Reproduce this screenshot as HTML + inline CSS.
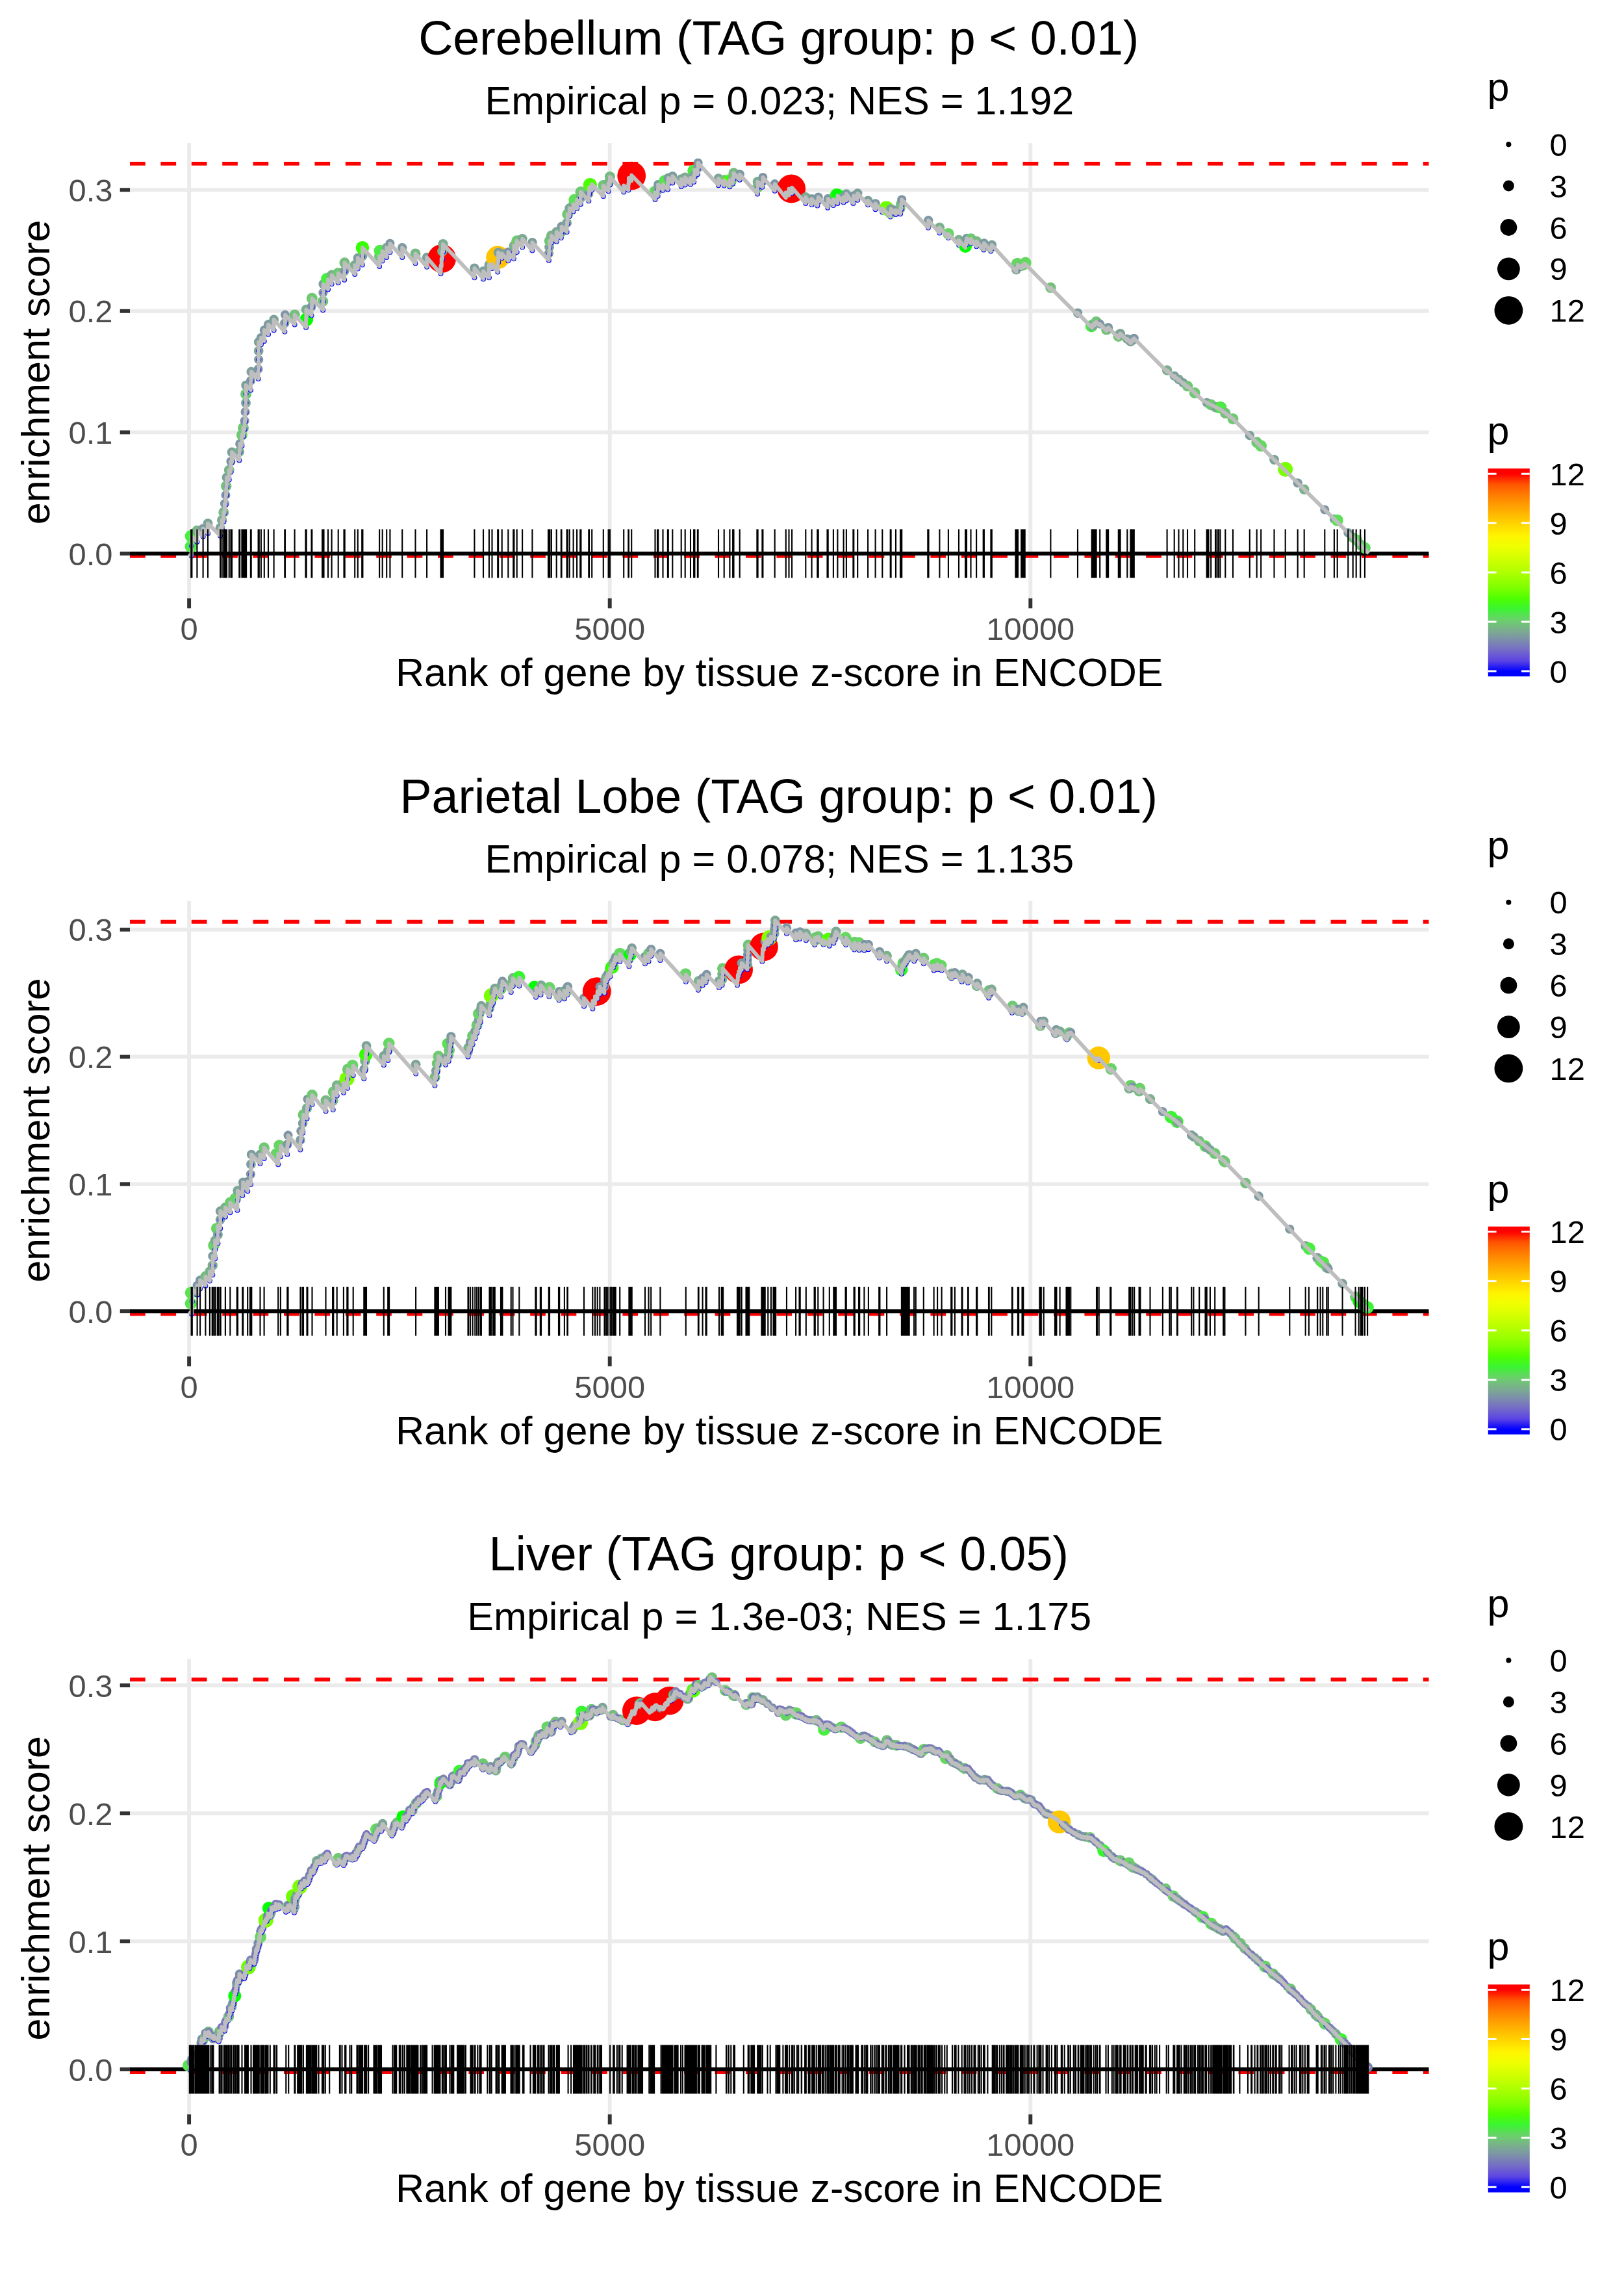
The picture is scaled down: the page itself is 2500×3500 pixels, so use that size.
<!DOCTYPE html>
<html><head><meta charset="utf-8"><title>Enrichment plots</title>
<style>
html,body{margin:0;padding:0;background:#fff;}
svg{display:block;}
text{font-family:"Liberation Sans", sans-serif;}
.t1{font-size:73.6px;fill:#000;text-anchor:middle;}
.t2{font-size:61.1px;fill:#000;text-anchor:middle;}
.ax{font-size:48.9px;fill:#4d4d4d;}
.lg{font-size:48.9px;fill:#000;}
.lt{font-size:61.1px;fill:#000;}
.g{stroke:#ebebeb;stroke-width:5.93;fill:none;}
.tk{stroke:#333;stroke-width:5.93;fill:none;}
.rd{stroke:#f00;stroke-width:5.93;stroke-dasharray:23.7 23.7;fill:none;}
.ln{stroke:#bebebe;stroke-width:5.93;fill:none;stroke-linejoin:round;stroke-linecap:butt;}
.rug{stroke:#000;stroke-width:2.1;fill:none;}
</style></head><body>
<svg width="2500" height="3500" viewBox="0 0 2500 3500">
<defs><linearGradient id="cb" x1="0" y1="1" x2="0" y2="0"><stop offset="0.0250" stop-color="#0000ff"/><stop offset="0.0750" stop-color="#5b44e4"/><stop offset="0.1250" stop-color="#746ac8"/><stop offset="0.1750" stop-color="#7d8eab"/><stop offset="0.2250" stop-color="#7ab08c"/><stop offset="0.2750" stop-color="#69d268"/><stop offset="0.3250" stop-color="#3bf432"/><stop offset="0.3750" stop-color="#4eff00"/><stop offset="0.4250" stop-color="#7dff00"/><stop offset="0.4750" stop-color="#9fff00"/><stop offset="0.5250" stop-color="#bcff00"/><stop offset="0.5750" stop-color="#d6ff00"/><stop offset="0.6250" stop-color="#efff00"/><stop offset="0.6750" stop-color="#fff500"/><stop offset="0.7250" stop-color="#ffd900"/><stop offset="0.7750" stop-color="#ffbb00"/><stop offset="0.8250" stop-color="#ff9c00"/><stop offset="0.8750" stop-color="#ff7b00"/><stop offset="0.9250" stop-color="#ff5300"/><stop offset="0.9750" stop-color="#ff0000"/></linearGradient></defs>
<rect width="2500" height="3500" fill="#fff"/>
<g transform="translate(0,0.00)">
<text class="t1" x="1198.8" y="84">Cerebellum (TAG group: p &lt; 0.01)</text>
<text class="t2" x="1199.8" y="175.9">Empirical p = 0.023; NES = 1.192</text>
<path class="g" d="M200.0 852.0H2199.5"/><path class="g" d="M200.0 665.4H2199.5"/><path class="g" d="M200.0 478.8H2199.5"/><path class="g" d="M200.0 292.2H2199.5"/><path class="g" d="M291.1 220.0V921.0"/><path class="g" d="M938.7 220.0V921.0"/><path class="g" d="M1586.3 220.0V921.0"/>
<path class="tk" d="M184.7 852.0H200.0"/><text class="ax" text-anchor="end" x="173.5" y="869.5">0.0</text><path class="tk" d="M184.7 665.4H200.0"/><text class="ax" text-anchor="end" x="173.5" y="682.9">0.1</text><path class="tk" d="M184.7 478.8H200.0"/><text class="ax" text-anchor="end" x="173.5" y="496.3">0.2</text><path class="tk" d="M184.7 292.2H200.0"/><text class="ax" text-anchor="end" x="173.5" y="309.7">0.3</text><path class="tk" d="M291.1 921.0V936.3"/><text class="ax" text-anchor="middle" x="291.1" y="985">0</text><path class="tk" d="M938.7 921.0V936.3"/><text class="ax" text-anchor="middle" x="938.7" y="985">5000</text><path class="tk" d="M1586.3 921.0V936.3"/><text class="ax" text-anchor="middle" x="1586.3" y="985">10000</text>
<text class="t2" x="1199.8" y="1055.9">Rank of gene by tissue z-score in ENCODE</text>
<text class="t2" transform="translate(75.5,572.9) rotate(-90)">enrichment score</text>
<path class="rd" d="M200.0 251.9H2199.5"/><path class="rd" d="M200.0 855.8H2199.5"/>
<path d="M200.0 852.0H2199.5" stroke="#000" stroke-width="5.93"/>
<circle cx="294.2" cy="841.3" r="9.5" fill="#45ef3d"/><circle cx="294.2" cy="825.3" r="9.5" fill="#45ef3d"/><circle cx="294.8" cy="855.6" r="4.0" fill="#0000ff"/><circle cx="294.8" cy="840.5" r="4.0" fill="#0000ff"/><circle cx="303.4" cy="833.9" r="4.0" fill="#0000ff"/><circle cx="303.4" cy="816.7" r="7.9" fill="#79b587"/><circle cx="312.6" cy="825.9" r="4.0" fill="#0000ff"/><circle cx="312.6" cy="813.6" r="7.2" fill="#7d9aa0"/><circle cx="320.0" cy="821.0" r="4.0" fill="#0000ff"/><circle cx="320.0" cy="805.6" r="7.4" fill="#7da497"/><circle cx="339.1" cy="824.7" r="4.0" fill="#0000ff"/><circle cx="339.1" cy="812.4" r="7.4" fill="#7da299"/><circle cx="341.7" cy="815.1" r="4.0" fill="#0000ff"/><circle cx="341.7" cy="800.4" r="7.7" fill="#7bac8f"/><circle cx="344.3" cy="803.0" r="4.0" fill="#0000ff"/><circle cx="344.3" cy="788.4" r="8.0" fill="#78b884"/><circle cx="345.9" cy="790.0" r="4.0" fill="#0000ff"/><circle cx="345.9" cy="775.1" r="7.0" fill="#7d96a4"/><circle cx="347.5" cy="776.8" r="4.0" fill="#0000ff"/><circle cx="347.5" cy="761.9" r="7.0" fill="#7d94a6"/><circle cx="348.2" cy="762.7" r="4.0" fill="#0000ff"/><circle cx="348.2" cy="748.3" r="8.2" fill="#75be7e"/><circle cx="349.0" cy="749.1" r="4.0" fill="#0000ff"/><circle cx="349.0" cy="734.8" r="7.4" fill="#7da19a"/><circle cx="352.7" cy="738.6" r="4.0" fill="#0000ff"/><circle cx="352.7" cy="723.7" r="7.9" fill="#79b587"/><circle cx="355.4" cy="726.5" r="4.0" fill="#0000ff"/><circle cx="355.4" cy="710.2" r="7.0" fill="#7d93a6"/><circle cx="357.0" cy="711.8" r="4.0" fill="#0000ff"/><circle cx="357.0" cy="696.0" r="7.4" fill="#7da299"/><circle cx="368.3" cy="708.4" r="4.0" fill="#0000ff"/><circle cx="368.3" cy="695.2" r="7.8" fill="#7ab28a"/><circle cx="369.2" cy="696.1" r="4.0" fill="#0000ff"/><circle cx="369.2" cy="682.9" r="7.1" fill="#7d99a1"/><circle cx="372.4" cy="686.2" r="4.0" fill="#0000ff"/><circle cx="372.4" cy="669.4" r="8.5" fill="#6fc972"/><circle cx="374.5" cy="671.5" r="4.0" fill="#0000ff"/><circle cx="374.5" cy="658.5" r="8.5" fill="#6fc972"/><circle cx="376.6" cy="660.7" r="4.0" fill="#0000ff"/><circle cx="376.6" cy="647.7" r="7.0" fill="#7d94a6"/><circle cx="377.5" cy="648.7" r="4.0" fill="#0000ff"/><circle cx="377.5" cy="633.9" r="7.0" fill="#7d94a6"/><circle cx="378.5" cy="634.9" r="4.0" fill="#0000ff"/><circle cx="378.5" cy="620.1" r="7.5" fill="#7ca696"/><circle cx="378.5" cy="620.1" r="4.0" fill="#0000ff"/><circle cx="378.5" cy="606.6" r="8.5" fill="#6fc972"/><circle cx="378.5" cy="606.6" r="4.0" fill="#0000ff"/><circle cx="378.5" cy="593.0" r="7.3" fill="#7d9f9c"/><circle cx="385.9" cy="600.4" r="4.0" fill="#0000ff"/><circle cx="385.9" cy="585.9" r="7.1" fill="#7d99a1"/><circle cx="386.7" cy="586.6" r="4.0" fill="#0000ff"/><circle cx="386.7" cy="572.1" r="7.3" fill="#7da09a"/><circle cx="397.6" cy="583.0" r="4.0" fill="#0000ff"/><circle cx="397.6" cy="568.0" r="7.0" fill="#7d94a6"/><circle cx="398.2" cy="568.6" r="4.0" fill="#0000ff"/><circle cx="398.2" cy="553.6" r="7.1" fill="#7d99a1"/><circle cx="398.2" cy="553.6" r="4.0" fill="#0000ff"/><circle cx="398.2" cy="540.0" r="7.4" fill="#7da19a"/><circle cx="398.2" cy="540.0" r="4.0" fill="#0000ff"/><circle cx="398.2" cy="526.5" r="7.4" fill="#7da497"/><circle cx="401.9" cy="530.3" r="4.0" fill="#0000ff"/><circle cx="401.9" cy="519.9" r="7.2" fill="#7d9aa0"/><circle cx="406.8" cy="524.9" r="4.0" fill="#0000ff"/><circle cx="406.8" cy="508.0" r="7.1" fill="#7d99a1"/><circle cx="413.0" cy="514.4" r="4.0" fill="#0000ff"/><circle cx="413.0" cy="499.4" r="7.1" fill="#7d99a1"/><circle cx="421.6" cy="508.3" r="4.0" fill="#0000ff"/><circle cx="421.6" cy="492.0" r="7.4" fill="#7da299"/><circle cx="438.3" cy="510.6" r="4.0" fill="#0000ff"/><circle cx="438.3" cy="497.3" r="7.2" fill="#7d9c9f"/><circle cx="438.9" cy="497.9" r="4.0" fill="#0000ff"/><circle cx="438.9" cy="484.6" r="7.0" fill="#7d94a6"/><circle cx="453.6" cy="499.4" r="4.0" fill="#0000ff"/><circle cx="453.6" cy="484.6" r="8.2" fill="#75be7e"/><circle cx="471.1" cy="504.1" r="4.0" fill="#0000ff"/><circle cx="471.4" cy="490.4" r="4.0" fill="#0000ff"/><circle cx="471.4" cy="476.4" r="7.7" fill="#7bac90"/><circle cx="471.8" cy="492.1" r="10.3" fill="#35ff00"/><circle cx="472.1" cy="490.8" r="10.0" fill="#00ff00"/><circle cx="479.5" cy="485.5" r="4.0" fill="#0000ff"/><circle cx="479.5" cy="472.0" r="7.1" fill="#7d98a2"/><circle cx="480.3" cy="472.8" r="4.0" fill="#0000ff"/><circle cx="480.3" cy="459.2" r="8.5" fill="#6fc972"/><circle cx="497.1" cy="477.2" r="4.0" fill="#0000ff"/><circle cx="497.1" cy="463.7" r="8.2" fill="#74c17b"/><circle cx="497.4" cy="463.9" r="4.0" fill="#0000ff"/><circle cx="497.4" cy="450.4" r="7.1" fill="#7d97a3"/><circle cx="497.6" cy="450.6" r="4.0" fill="#0000ff"/><circle cx="497.6" cy="437.1" r="7.2" fill="#7d9d9d"/><circle cx="503.7" cy="429.3" r="9.5" fill="#45ef3d"/><circle cx="505.0" cy="445.4" r="4.0" fill="#0000ff"/><circle cx="510.6" cy="437.1" r="4.0" fill="#0000ff"/><circle cx="510.6" cy="423.4" r="7.8" fill="#7ab18b"/><circle cx="520.7" cy="435.2" r="4.0" fill="#0000ff"/><circle cx="520.7" cy="420.5" r="8.5" fill="#6fc972"/><circle cx="530.1" cy="430.7" r="4.0" fill="#0000ff"/><circle cx="530.1" cy="417.3" r="7.3" fill="#7da09a"/><circle cx="530.5" cy="417.8" r="4.0" fill="#0000ff"/><circle cx="530.5" cy="404.4" r="8.1" fill="#76bd7f"/><circle cx="546.2" cy="422.0" r="4.0" fill="#0000ff"/><circle cx="546.2" cy="408.1" r="7.7" fill="#7bad8e"/><circle cx="550.8" cy="413.6" r="4.0" fill="#0000ff"/><circle cx="550.8" cy="397.0" r="7.2" fill="#7d9c9e"/><circle cx="557.8" cy="407.6" r="4.0" fill="#0000ff"/><circle cx="557.8" cy="394.2" r="7.6" fill="#7ca993"/><circle cx="557.9" cy="381.3" r="10.3" fill="#35ff00"/><circle cx="558.2" cy="394.7" r="4.0" fill="#0000ff"/><circle cx="584.1" cy="409.9" r="4.0" fill="#0000ff"/><circle cx="584.1" cy="394.2" r="8.2" fill="#75bf7d"/><circle cx="585.0" cy="386.1" r="9.4" fill="#4fe947"/><circle cx="588.7" cy="401.6" r="4.0" fill="#0000ff"/><circle cx="595.2" cy="396.1" r="4.0" fill="#0000ff"/><circle cx="595.2" cy="381.3" r="7.6" fill="#7ca993"/><circle cx="600.4" cy="388.3" r="4.0" fill="#0000ff"/><circle cx="600.4" cy="374.8" r="7.0" fill="#7d95a5"/><circle cx="619.2" cy="396.1" r="4.0" fill="#0000ff"/><circle cx="619.2" cy="381.3" r="7.2" fill="#7d9aa0"/><circle cx="639.5" cy="405.3" r="4.0" fill="#0000ff"/><circle cx="639.5" cy="390.5" r="8.0" fill="#77b983"/><circle cx="657.1" cy="410.8" r="4.0" fill="#0000ff"/><circle cx="657.1" cy="396.1" r="7.3" fill="#7da09b"/><circle cx="678.5" cy="421.3" r="4.0" fill="#0000ff"/><circle cx="678.5" cy="409.0" r="7.1" fill="#7d98a2"/><circle cx="679.7" cy="410.2" r="4.0" fill="#0000ff"/><circle cx="680.2" cy="397.9" r="21.9" fill="#ff0000"/><circle cx="680.9" cy="399.1" r="4.0" fill="#0000ff"/><circle cx="680.9" cy="386.8" r="7.8" fill="#7ab08c"/><circle cx="682.0" cy="388.0" r="4.0" fill="#0000ff"/><circle cx="682.0" cy="375.7" r="7.7" fill="#7bae8e"/><circle cx="730.4" cy="427.3" r="4.0" fill="#0000ff"/><circle cx="730.4" cy="412.7" r="7.3" fill="#7d9e9c"/><circle cx="744.0" cy="429.5" r="4.0" fill="#0000ff"/><circle cx="744.0" cy="417.5" r="7.4" fill="#7da19a"/><circle cx="752.9" cy="427.3" r="4.0" fill="#0000ff"/><circle cx="752.9" cy="407.7" r="7.4" fill="#7da497"/><circle cx="757.5" cy="413.1" r="4.0" fill="#0000ff"/><circle cx="757.5" cy="406.4" r="8.0" fill="#78b785"/><circle cx="766.2" cy="396.3" r="17.9" fill="#ffc300"/><circle cx="766.2" cy="418.5" r="4.0" fill="#0000ff"/><circle cx="767.1" cy="404.0" r="4.0" fill="#0000ff"/><circle cx="767.1" cy="388.5" r="7.3" fill="#7d9f9b"/><circle cx="772.7" cy="397.2" r="4.0" fill="#0000ff"/><circle cx="772.7" cy="390.4" r="7.4" fill="#7da398"/><circle cx="782.3" cy="401.3" r="4.0" fill="#0000ff"/><circle cx="782.3" cy="388.0" r="7.0" fill="#7d94a6"/><circle cx="790.8" cy="398.3" r="4.0" fill="#0000ff"/><circle cx="790.8" cy="388.0" r="7.0" fill="#7d95a5"/><circle cx="791.3" cy="388.5" r="4.0" fill="#0000ff"/><circle cx="791.3" cy="378.2" r="7.8" fill="#7ab08c"/><circle cx="795.7" cy="388.0" r="4.0" fill="#0000ff"/><circle cx="795.7" cy="370.8" r="8.5" fill="#6fc972"/><circle cx="804.1" cy="380.6" r="4.0" fill="#0000ff"/><circle cx="804.1" cy="367.6" r="7.6" fill="#7ca993"/><circle cx="819.4" cy="385.4" r="4.0" fill="#0000ff"/><circle cx="819.4" cy="373.2" r="7.3" fill="#7d9f9b"/><circle cx="844.8" cy="400.7" r="4.0" fill="#0000ff"/><circle cx="844.8" cy="390.2" r="7.1" fill="#7d98a2"/><circle cx="845.5" cy="390.9" r="4.0" fill="#0000ff"/><circle cx="845.5" cy="380.5" r="7.4" fill="#7da497"/><circle cx="846.2" cy="381.2" r="4.0" fill="#0000ff"/><circle cx="846.2" cy="370.8" r="8.5" fill="#6fc972"/><circle cx="848.9" cy="373.6" r="4.0" fill="#0000ff"/><circle cx="848.9" cy="362.6" r="7.9" fill="#78b686"/><circle cx="856.7" cy="371.7" r="4.0" fill="#0000ff"/><circle cx="856.7" cy="357.1" r="7.5" fill="#7ca696"/><circle cx="863.8" cy="366.1" r="4.0" fill="#0000ff"/><circle cx="863.8" cy="357.0" r="8.3" fill="#73c27a"/><circle cx="864.5" cy="357.7" r="4.0" fill="#0000ff"/><circle cx="864.5" cy="348.6" r="7.1" fill="#7d99a1"/><circle cx="872.6" cy="357.1" r="4.0" fill="#0000ff"/><circle cx="872.6" cy="342.9" r="7.4" fill="#7da497"/><circle cx="873.7" cy="344.0" r="4.0" fill="#0000ff"/><circle cx="873.7" cy="329.8" r="8.5" fill="#6fc972"/><circle cx="876.7" cy="332.8" r="4.0" fill="#0000ff"/><circle cx="876.7" cy="320.5" r="7.5" fill="#7ca794"/><circle cx="882.6" cy="325.5" r="4.0" fill="#0000ff"/><circle cx="882.6" cy="314.1" r="7.4" fill="#7da299"/><circle cx="884.4" cy="307.6" r="9.1" fill="#5ddf57"/><circle cx="888.1" cy="321.1" r="4.0" fill="#0000ff"/><circle cx="893.8" cy="314.2" r="4.0" fill="#0000ff"/><circle cx="893.8" cy="304.8" r="7.5" fill="#7ca695"/><circle cx="894.0" cy="305.0" r="4.0" fill="#0000ff"/><circle cx="894.0" cy="295.6" r="8.5" fill="#6fc972"/><circle cx="906.3" cy="309.2" r="4.0" fill="#0000ff"/><circle cx="906.3" cy="298.4" r="7.0" fill="#7d93a6"/><circle cx="907.0" cy="299.0" r="4.0" fill="#0000ff"/><circle cx="907.0" cy="288.2" r="8.0" fill="#78b884"/><circle cx="908.4" cy="284.5" r="10.6" fill="#4cff00"/><circle cx="911.2" cy="292.6" r="4.0" fill="#0000ff"/><circle cx="928.8" cy="302.1" r="4.0" fill="#0000ff"/><circle cx="928.8" cy="285.4" r="8.4" fill="#71c675"/><circle cx="936.6" cy="294.3" r="4.0" fill="#0000ff"/><circle cx="936.6" cy="282.0" r="7.9" fill="#79b389"/><circle cx="938.9" cy="284.4" r="4.0" fill="#0000ff"/><circle cx="938.9" cy="272.1" r="8.1" fill="#77ba82"/><circle cx="960.2" cy="295.6" r="4.0" fill="#0000ff"/><circle cx="960.2" cy="285.4" r="7.5" fill="#7ca597"/><circle cx="967.3" cy="292.6" r="4.0" fill="#0000ff"/><circle cx="967.3" cy="282.9" r="7.5" fill="#7ca795"/><circle cx="967.9" cy="283.6" r="4.0" fill="#0000ff"/><circle cx="972.2" cy="278.3" r="4.0" fill="#0000ff"/><circle cx="972.2" cy="270.6" r="21.9" fill="#ff0000"/><circle cx="1008.2" cy="294.7" r="8.9" fill="#63d95f"/><circle cx="1008.5" cy="307.0" r="4.0" fill="#0000ff"/><circle cx="1012.6" cy="301.7" r="4.0" fill="#0000ff"/><circle cx="1012.6" cy="292.6" r="7.5" fill="#7ca794"/><circle cx="1013.1" cy="293.1" r="4.0" fill="#0000ff"/><circle cx="1013.1" cy="284.1" r="7.1" fill="#7d99a1"/><circle cx="1020.5" cy="292.8" r="4.0" fill="#0000ff"/><circle cx="1020.5" cy="284.1" r="7.4" fill="#7da497"/><circle cx="1023.3" cy="278.5" r="9.2" fill="#57e44f"/><circle cx="1027.9" cy="291.5" r="4.0" fill="#0000ff"/><circle cx="1028.8" cy="283.2" r="4.0" fill="#0000ff"/><circle cx="1028.8" cy="273.9" r="7.3" fill="#7d9e9d"/><circle cx="1035.3" cy="281.4" r="4.0" fill="#0000ff"/><circle cx="1035.3" cy="271.1" r="7.2" fill="#7d9d9d"/><circle cx="1048.7" cy="287.0" r="4.0" fill="#0000ff"/><circle cx="1048.7" cy="275.7" r="7.5" fill="#7ca696"/><circle cx="1054.7" cy="284.5" r="4.0" fill="#0000ff"/><circle cx="1054.7" cy="273.0" r="7.6" fill="#7caa91"/><circle cx="1063.0" cy="283.7" r="4.0" fill="#0000ff"/><circle cx="1063.0" cy="273.9" r="7.6" fill="#7caa92"/><circle cx="1067.6" cy="262.8" r="9.4" fill="#4fe947"/><circle cx="1068.1" cy="279.9" r="4.0" fill="#0000ff"/><circle cx="1068.1" cy="269.9" r="7.4" fill="#7da299"/><circle cx="1069.4" cy="271.4" r="4.0" fill="#0000ff"/><circle cx="1073.9" cy="268.2" r="4.0" fill="#0000ff"/><circle cx="1073.9" cy="259.1" r="7.1" fill="#7d99a1"/><circle cx="1074.6" cy="259.9" r="4.0" fill="#0000ff"/><circle cx="1074.6" cy="250.8" r="7.1" fill="#7d98a2"/><circle cx="1106.0" cy="285.2" r="4.0" fill="#0000ff"/><circle cx="1106.0" cy="274.8" r="7.5" fill="#7ca894"/><circle cx="1114.7" cy="285.6" r="4.0" fill="#0000ff"/><circle cx="1114.7" cy="277.6" r="8.3" fill="#73c27a"/><circle cx="1123.4" cy="287.2" r="4.0" fill="#0000ff"/><circle cx="1123.4" cy="278.5" r="10.4" fill="#42ff00"/><circle cx="1128.1" cy="282.7" r="4.0" fill="#0000ff"/><circle cx="1128.1" cy="273.9" r="8.0" fill="#77b983"/><circle cx="1129.5" cy="275.3" r="4.0" fill="#0000ff"/><circle cx="1129.5" cy="266.5" r="8.1" fill="#76bb81"/><circle cx="1138.7" cy="276.7" r="4.0" fill="#0000ff"/><circle cx="1138.7" cy="268.4" r="7.2" fill="#7d9aa0"/><circle cx="1166.0" cy="298.4" r="4.0" fill="#0000ff"/><circle cx="1166.0" cy="288.9" r="8.2" fill="#75bf7d"/><circle cx="1166.4" cy="289.3" r="4.0" fill="#0000ff"/><circle cx="1166.4" cy="279.8" r="7.7" fill="#7bae8e"/><circle cx="1173.4" cy="287.8" r="4.0" fill="#0000ff"/><circle cx="1173.4" cy="279.9" r="7.0" fill="#7d96a4"/><circle cx="1174.4" cy="280.9" r="4.0" fill="#0000ff"/><circle cx="1174.4" cy="273.0" r="7.0" fill="#7d94a6"/><circle cx="1192.7" cy="293.7" r="4.0" fill="#0000ff"/><circle cx="1192.7" cy="283.1" r="7.0" fill="#7d94a6"/><circle cx="1209.8" cy="304.4" r="4.0" fill="#0000ff"/><circle cx="1209.8" cy="296.1" r="7.9" fill="#79b488"/><circle cx="1214.5" cy="300.7" r="4.0" fill="#0000ff"/><circle cx="1218.2" cy="290.5" r="21.9" fill="#ff0000"/><circle cx="1219.1" cy="297.4" r="4.0" fill="#0000ff"/><circle cx="1240.3" cy="313.1" r="4.0" fill="#0000ff"/><circle cx="1240.3" cy="303.5" r="7.6" fill="#7bab91"/><circle cx="1249.6" cy="315.1" r="4.0" fill="#0000ff"/><circle cx="1249.6" cy="306.2" r="7.2" fill="#7d9d9d"/><circle cx="1258.3" cy="316.5" r="4.0" fill="#0000ff"/><circle cx="1258.3" cy="309.3" r="7.0" fill="#7d95a5"/><circle cx="1259.7" cy="310.7" r="4.0" fill="#0000ff"/><circle cx="1259.7" cy="303.5" r="7.1" fill="#7d98a2"/><circle cx="1274.1" cy="319.7" r="4.0" fill="#0000ff"/><circle cx="1274.1" cy="312.5" r="7.5" fill="#7ca596"/><circle cx="1274.6" cy="313.1" r="4.0" fill="#0000ff"/><circle cx="1274.6" cy="305.9" r="7.1" fill="#7d98a2"/><circle cx="1282.9" cy="316.1" r="4.0" fill="#0000ff"/><circle cx="1282.9" cy="306.8" r="7.2" fill="#7d9b9f"/><circle cx="1287.4" cy="299.8" r="9.7" fill="#39f431"/><circle cx="1289.4" cy="313.0" r="4.0" fill="#0000ff"/><circle cx="1289.4" cy="300.4" r="10.0" fill="#00ff00"/><circle cx="1298.6" cy="311.5" r="4.0" fill="#0000ff"/><circle cx="1298.6" cy="303.1" r="7.4" fill="#7da299"/><circle cx="1302.9" cy="308.4" r="4.0" fill="#0000ff"/><circle cx="1302.9" cy="298.5" r="7.2" fill="#7d9d9e"/><circle cx="1313.4" cy="313.0" r="4.0" fill="#0000ff"/><circle cx="1313.4" cy="306.6" r="7.4" fill="#7da398"/><circle cx="1314.3" cy="307.6" r="4.0" fill="#0000ff"/><circle cx="1314.3" cy="301.3" r="7.0" fill="#7d94a6"/><circle cx="1320.2" cy="307.8" r="4.0" fill="#0000ff"/><circle cx="1320.2" cy="297.6" r="7.3" fill="#7d9f9c"/><circle cx="1336.1" cy="315.3" r="4.0" fill="#0000ff"/><circle cx="1336.1" cy="308.7" r="7.3" fill="#7da09a"/><circle cx="1347.6" cy="322.2" r="4.0" fill="#0000ff"/><circle cx="1347.6" cy="313.3" r="7.1" fill="#7d98a2"/><circle cx="1358.3" cy="326.5" r="4.0" fill="#0000ff"/><circle cx="1364.6" cy="320.7" r="11.2" fill="#6dff00"/><circle cx="1370.7" cy="333.4" r="4.0" fill="#0000ff"/><circle cx="1370.7" cy="328.1" r="8.5" fill="#6fc972"/><circle cx="1371.6" cy="329.0" r="4.0" fill="#0000ff"/><circle cx="1371.6" cy="321.6" r="7.4" fill="#7da497"/><circle cx="1379.0" cy="329.9" r="4.0" fill="#0000ff"/><circle cx="1379.0" cy="323.5" r="7.1" fill="#7d99a1"/><circle cx="1386.0" cy="329.2" r="4.0" fill="#0000ff"/><circle cx="1386.0" cy="321.1" r="7.6" fill="#7ca993"/><circle cx="1387.1" cy="322.3" r="4.0" fill="#0000ff"/><circle cx="1387.1" cy="314.2" r="8.1" fill="#76bb81"/><circle cx="1388.2" cy="315.3" r="4.0" fill="#0000ff"/><circle cx="1388.2" cy="307.2" r="7.0" fill="#7d94a6"/><circle cx="1428.9" cy="350.6" r="4.0" fill="#0000ff"/><circle cx="1428.9" cy="344.7" r="7.0" fill="#7d94a6"/><circle cx="1429.2" cy="345.1" r="4.0" fill="#0000ff"/><circle cx="1429.2" cy="339.2" r="7.1" fill="#7d97a3"/><circle cx="1446.4" cy="358.6" r="4.0" fill="#0000ff"/><circle cx="1446.4" cy="350.2" r="7.8" fill="#7ab18b"/><circle cx="1459.9" cy="366.1" r="4.0" fill="#0000ff"/><circle cx="1459.9" cy="359.8" r="8.8" fill="#67d465"/><circle cx="1476.0" cy="377.1" r="4.0" fill="#0000ff"/><circle cx="1476.0" cy="369.6" r="7.8" fill="#7ab08c"/><circle cx="1486.1" cy="381.3" r="4.0" fill="#0000ff"/><circle cx="1486.1" cy="378.9" r="10.0" fill="#00ff00"/><circle cx="1487.1" cy="376.8" r="4.0" fill="#0000ff"/><circle cx="1487.1" cy="371.4" r="7.5" fill="#7ca696"/><circle cx="1488.0" cy="372.3" r="4.0" fill="#0000ff"/><circle cx="1488.0" cy="366.9" r="7.1" fill="#7d99a1"/><circle cx="1494.5" cy="374.8" r="4.0" fill="#0000ff"/><circle cx="1494.5" cy="367.8" r="8.5" fill="#6fc972"/><circle cx="1503.1" cy="379.3" r="4.0" fill="#0000ff"/><circle cx="1503.1" cy="371.5" r="8.0" fill="#77b983"/><circle cx="1514.3" cy="384.5" r="4.0" fill="#0000ff"/><circle cx="1514.3" cy="379.2" r="7.5" fill="#7ca597"/><circle cx="1514.8" cy="379.6" r="4.0" fill="#0000ff"/><circle cx="1514.8" cy="374.3" r="7.1" fill="#7d99a1"/><circle cx="1525.4" cy="386.4" r="4.0" fill="#0000ff"/><circle cx="1525.4" cy="381.0" r="7.7" fill="#7bac90"/><circle cx="1526.8" cy="382.4" r="4.0" fill="#0000ff"/><circle cx="1526.8" cy="377.0" r="7.3" fill="#7d9f9b"/><circle cx="1564.5" cy="418.0" r="4.0" fill="#0000ff"/><circle cx="1564.5" cy="414.9" r="7.5" fill="#7ca794"/><circle cx="1565.2" cy="415.6" r="4.0" fill="#0000ff"/><circle cx="1565.2" cy="412.5" r="7.2" fill="#7d9d9e"/><circle cx="1565.7" cy="405.9" r="8.9" fill="#63d95f"/><circle cx="1565.9" cy="413.3" r="4.0" fill="#0000ff"/><circle cx="1566.5" cy="405.7" r="8.8" fill="#67d465"/><circle cx="1566.6" cy="410.9" r="4.0" fill="#0000ff"/><circle cx="1572.2" cy="412.6" r="4.0" fill="#0000ff"/><circle cx="1572.2" cy="409.5" r="7.2" fill="#7d9c9f"/><circle cx="1574.0" cy="411.4" r="4.0" fill="#0000ff"/><circle cx="1574.0" cy="408.3" r="8.5" fill="#6fc972"/><circle cx="1575.9" cy="410.2" r="4.0" fill="#0000ff"/><circle cx="1575.9" cy="407.1" r="8.3" fill="#72c477"/><circle cx="1577.7" cy="409.0" r="4.0" fill="#0000ff"/><circle cx="1578.6" cy="404.4" r="8.9" fill="#63d95f"/><circle cx="1617.4" cy="446.0" r="4.0" fill="#0000ff"/><circle cx="1617.4" cy="442.8" r="8.2" fill="#74c17b"/><circle cx="1659.0" cy="484.8" r="4.0" fill="#0000ff"/><circle cx="1659.0" cy="481.6" r="7.2" fill="#7d9c9e"/><circle cx="1680.2" cy="501.9" r="9.4" fill="#4fe947"/><circle cx="1680.7" cy="504.3" r="4.0" fill="#0000ff"/><circle cx="1682.1" cy="503.0" r="4.0" fill="#0000ff"/><circle cx="1682.1" cy="500.4" r="7.9" fill="#79b389"/><circle cx="1683.5" cy="501.8" r="4.0" fill="#0000ff"/><circle cx="1683.5" cy="499.2" r="7.3" fill="#7da09b"/><circle cx="1684.9" cy="500.6" r="4.0" fill="#0000ff"/><circle cx="1684.9" cy="497.9" r="7.2" fill="#7d9aa0"/><circle cx="1686.2" cy="499.4" r="4.0" fill="#0000ff"/><circle cx="1686.2" cy="496.7" r="7.0" fill="#7d93a6"/><circle cx="1687.6" cy="498.1" r="4.0" fill="#0000ff"/><circle cx="1687.6" cy="495.5" r="8.4" fill="#72c577"/><circle cx="1693.2" cy="501.2" r="4.0" fill="#0000ff"/><circle cx="1693.2" cy="498.6" r="7.0" fill="#7d95a5"/><circle cx="1703.3" cy="509.1" r="4.0" fill="#0000ff"/><circle cx="1703.3" cy="507.5" r="8.1" fill="#76bb81"/><circle cx="1704.3" cy="508.4" r="4.0" fill="#0000ff"/><circle cx="1704.3" cy="506.4" r="8.5" fill="#6fc972"/><circle cx="1705.2" cy="507.3" r="4.0" fill="#0000ff"/><circle cx="1705.2" cy="505.3" r="7.5" fill="#7ca794"/><circle cx="1706.1" cy="506.2" r="4.0" fill="#0000ff"/><circle cx="1706.1" cy="504.1" r="7.1" fill="#7d98a2"/><circle cx="1721.8" cy="520.3" r="4.0" fill="#0000ff"/><circle cx="1721.8" cy="517.6" r="8.3" fill="#73c379"/><circle cx="1722.7" cy="518.6" r="4.0" fill="#0000ff"/><circle cx="1722.7" cy="516.2" r="8.5" fill="#6fc972"/><circle cx="1723.7" cy="517.2" r="4.0" fill="#0000ff"/><circle cx="1723.7" cy="514.8" r="7.8" fill="#7ab08c"/><circle cx="1724.6" cy="515.8" r="4.0" fill="#0000ff"/><circle cx="1724.6" cy="513.4" r="7.4" fill="#7da497"/><circle cx="1735.3" cy="524.3" r="4.0" fill="#0000ff"/><circle cx="1735.3" cy="521.9" r="7.3" fill="#7d9f9c"/><circle cx="1740.4" cy="528.0" r="4.0" fill="#0000ff"/><circle cx="1740.4" cy="525.9" r="7.3" fill="#7d9e9d"/><circle cx="1741.5" cy="527.0" r="4.0" fill="#0000ff"/><circle cx="1741.5" cy="524.8" r="7.1" fill="#7d99a1"/><circle cx="1742.6" cy="525.9" r="4.0" fill="#0000ff"/><circle cx="1742.6" cy="523.8" r="7.7" fill="#7bae8e"/><circle cx="1743.7" cy="524.9" r="4.0" fill="#0000ff"/><circle cx="1743.7" cy="522.8" r="7.4" fill="#7da19a"/><circle cx="1744.7" cy="523.9" r="4.0" fill="#0000ff"/><circle cx="1744.7" cy="521.8" r="7.1" fill="#7d98a2"/><circle cx="1745.8" cy="522.9" r="4.0" fill="#0000ff"/><circle cx="1745.8" cy="520.8" r="7.1" fill="#7d96a4"/><circle cx="1796.6" cy="572.2" r="4.0" fill="#0000ff"/><circle cx="1796.6" cy="569.9" r="7.7" fill="#7bad8e"/><circle cx="1807.7" cy="581.3" r="4.0" fill="#0000ff"/><circle cx="1807.7" cy="578.6" r="7.2" fill="#7d9c9f"/><circle cx="1814.5" cy="585.6" r="4.0" fill="#0000ff"/><circle cx="1814.5" cy="583.8" r="7.4" fill="#7da497"/><circle cx="1821.3" cy="590.8" r="4.0" fill="#0000ff"/><circle cx="1821.3" cy="589.1" r="7.2" fill="#7d9d9e"/><circle cx="1828.0" cy="596.0" r="4.0" fill="#0000ff"/><circle cx="1828.0" cy="594.3" r="8.3" fill="#73c378"/><circle cx="1839.2" cy="604.8" r="8.5" fill="#6fc972"/><circle cx="1857.7" cy="619.7" r="7.0" fill="#7d94a6"/><circle cx="1859.2" cy="620.5" r="7.1" fill="#7d99a1"/><circle cx="1860.5" cy="621.1" r="7.2" fill="#7d9d9e"/><circle cx="1864.2" cy="623.0" r="8.5" fill="#6fc972"/><circle cx="1871.0" cy="626.4" r="8.0" fill="#78b785"/><circle cx="1873.4" cy="627.6" r="7.2" fill="#7d9d9d"/><circle cx="1875.8" cy="628.8" r="7.1" fill="#7d99a1"/><circle cx="1879.0" cy="627.1" r="9.4" fill="#4fe947"/><circle cx="1886.3" cy="636.0" r="8.2" fill="#75be7e"/><circle cx="1898.0" cy="644.7" r="8.5" fill="#6fc972"/><circle cx="1923.8" cy="670.2" r="7.2" fill="#7d9d9d"/><circle cx="1934.7" cy="681.0" r="8.4" fill="#71c676"/><circle cx="1941.2" cy="686.2" r="8.9" fill="#63d95f"/><circle cx="1961.5" cy="707.5" r="7.4" fill="#7da398"/><circle cx="1978.7" cy="722.3" r="11.4" fill="#7aff00"/><circle cx="1997.7" cy="743.4" r="7.2" fill="#7d9aa0"/><circle cx="2007.7" cy="753.2" r="7.8" fill="#7ab28a"/><circle cx="2039.3" cy="784.5" r="7.0" fill="#7d96a4"/><circle cx="2053.9" cy="798.9" r="7.1" fill="#7d98a2"/><circle cx="2058.7" cy="800.8" r="9.1" fill="#5ddf57"/><circle cx="2075.3" cy="820.1" r="7.1" fill="#7d99a1"/><circle cx="2082.7" cy="827.4" r="7.9" fill="#79b587"/><circle cx="2088.6" cy="831.2" r="8.8" fill="#67d465"/><circle cx="2094.2" cy="838.8" r="8.2" fill="#75bf7d"/><circle cx="2101.0" cy="843.3" r="8.9" fill="#63d95f"/>
<path class="ln" d="M291.1 852.0L294.8 855.6L294.8 840.5L294.8 825.3L303.4 833.9L303.4 816.7L312.6 825.9L312.6 813.6L320.0 821.0L320.0 805.6L339.1 824.7L339.1 812.4L341.7 815.1L341.7 800.4L344.3 803.0L344.3 788.4L345.9 790.0L345.9 775.1L347.5 776.8L347.5 761.9L348.2 762.7L348.2 748.3L349.0 749.1L349.0 734.8L352.7 738.6L352.7 723.7L355.4 726.5L355.4 710.2L357.0 711.8L357.0 696.0L367.4 707.5L368.3 708.4L368.3 695.2L369.2 696.1L369.2 682.9L372.4 686.2L372.4 669.4L374.5 671.5L374.5 658.5L376.6 660.7L376.6 647.7L377.5 648.7L377.5 633.9L378.5 634.9L378.5 620.1L378.5 606.6L378.5 593.0L385.2 599.7L385.9 600.4L385.9 585.9L386.7 586.6L386.7 572.1L397.0 582.4L397.6 583.0L397.6 568.0L398.2 568.6L398.2 553.6L398.2 540.0L398.2 526.5L401.9 530.3L401.9 519.9L406.8 524.9L406.8 508.0L413.0 514.4L413.0 499.4L421.6 508.3L421.6 492.0L437.6 510.0L438.3 510.6L438.3 497.3L438.9 497.9L438.9 484.6L453.6 499.4L453.6 484.6L470.9 503.8L471.1 504.1L471.1 490.1L471.4 490.4L471.4 476.4L478.8 484.7L479.5 485.5L479.5 472.0L480.3 472.8L480.3 459.2L496.9 477.0L497.1 477.2L497.1 463.7L497.4 463.9L497.4 450.4L497.6 450.6L497.6 437.1L504.7 445.0L505.0 445.4L505.0 430.2L510.2 436.7L510.6 437.1L510.6 423.4L520.4 434.9L520.7 435.2L520.7 420.5L529.6 430.2L530.1 430.7L530.1 417.3L530.5 417.8L530.5 404.4L544.4 420.1L546.2 422.0L546.2 408.1L549.9 412.7L550.8 413.6L550.8 397.0L557.3 407.1L557.8 407.6L557.8 394.2L558.2 394.7L558.2 381.3L583.2 409.0L584.1 409.9L584.1 394.2L587.8 400.7L588.7 401.6L588.7 386.8L594.3 395.1L595.2 396.1L595.2 381.3L599.8 387.8L600.4 388.3L600.4 374.8L618.3 395.1L619.2 396.1L619.2 381.3L638.6 404.4L639.5 405.3L639.5 390.5L657.1 410.8L657.1 396.1L677.4 420.1L678.5 421.3L678.5 409.0L679.7 410.2L679.7 397.9L680.9 399.1L680.9 386.8L682.0 388.0L682.0 375.7L729.7 426.5L730.4 427.3L730.4 412.7L744.0 429.5L744.0 417.5L752.3 426.7L752.9 427.3L752.9 407.7L756.9 412.5L757.5 413.1L757.5 406.4L765.3 417.5L766.2 418.5L766.2 403.0L767.1 404.0L767.1 388.5L771.7 396.3L772.7 397.2L772.7 390.4L781.9 400.9L782.3 401.3L782.3 388.0L790.2 397.7L790.8 398.3L790.8 388.0L791.3 388.5L791.3 378.2L794.8 387.0L795.7 388.0L795.7 370.8L803.1 379.6L804.1 380.6L804.1 367.6L818.8 384.8L819.4 385.4L819.4 373.2L844.1 400.0L844.8 400.7L844.8 390.2L845.5 390.9L845.5 380.5L846.2 381.2L846.2 370.8L848.9 373.6L848.9 362.6L855.8 370.8L856.7 371.7L856.7 357.1L863.2 365.4L863.8 366.1L863.8 357.0L864.5 357.7L864.5 348.6L871.5 356.0L872.6 357.1L872.6 342.9L873.7 344.0L873.7 329.8L876.7 332.8L876.7 320.5L881.6 324.6L882.6 325.5L882.6 314.1L887.2 320.2L888.1 321.1L888.1 307.6L893.7 314.1L893.8 314.2L893.8 304.8L894.0 305.0L894.0 295.6L905.7 308.5L906.3 309.2L906.3 298.4L907.0 299.0L907.0 288.2L911.2 292.6L911.2 283.6L927.8 301.1L928.8 302.1L928.8 285.4L934.3 291.9L936.6 294.3L936.6 282.0L938.9 284.4L938.9 272.1L959.2 294.7L960.2 295.6L960.2 285.4L966.6 291.9L967.3 292.6L967.3 282.9L967.9 283.6L967.9 274.0L972.2 278.3L972.2 269.7L1007.3 305.7L1008.5 307.0L1008.5 296.1L1012.2 301.2L1012.6 301.7L1012.6 292.6L1013.1 293.1L1013.1 284.1L1019.6 291.8L1020.5 292.8L1020.5 284.1L1026.9 290.5L1027.9 291.5L1027.9 282.2L1028.8 283.2L1028.8 273.9L1031.6 277.6L1035.3 281.4L1035.3 271.1L1048.2 286.5L1048.7 287.0L1048.7 275.7L1053.7 283.5L1054.7 284.5L1054.7 273.0L1062.0 282.8L1063.0 283.7L1063.0 273.9L1066.7 278.5L1068.1 279.9L1068.1 269.9L1069.4 271.4L1069.4 261.3L1073.1 267.4L1073.9 268.2L1073.9 259.1L1074.6 259.9L1074.6 250.8L1104.9 284.1L1106.0 285.2L1106.0 274.8L1113.8 284.6L1114.7 285.6L1114.7 277.6L1122.1 285.9L1123.4 287.2L1123.4 277.2L1126.7 281.3L1128.1 282.7L1128.1 273.9L1129.5 275.3L1129.5 266.5L1136.9 274.8L1138.7 276.7L1138.7 268.4L1165.5 297.9L1166.0 298.4L1166.0 288.9L1166.4 289.3L1166.4 279.8L1172.5 286.8L1173.4 287.8L1173.4 279.9L1174.4 280.9L1174.4 273.0L1192.3 293.3L1192.7 293.7L1192.7 283.1L1208.9 303.5L1209.8 304.4L1209.8 296.1L1212.6 298.8L1214.5 300.7L1214.5 290.5L1216.3 294.6L1219.1 297.4L1219.1 288.7L1239.4 312.1L1240.3 313.1L1240.3 303.5L1248.6 314.2L1249.6 315.1L1249.6 306.2L1256.9 315.1L1258.3 316.5L1258.3 309.3L1259.7 310.7L1259.7 303.5L1273.6 319.2L1274.1 319.7L1274.1 312.5L1274.6 313.1L1274.6 305.9L1281.1 314.2L1282.9 316.1L1282.9 306.8L1286.6 310.2L1289.4 313.0L1289.4 301.3L1297.7 310.5L1298.6 311.5L1298.6 303.1L1301.4 306.8L1302.9 308.4L1302.9 298.5L1312.5 312.0L1313.4 313.0L1313.4 306.6L1314.3 307.6L1314.3 301.3L1317.1 304.6L1320.2 307.8L1320.2 297.6L1335.6 314.8L1336.1 315.3L1336.1 308.7L1346.7 321.2L1347.6 322.2L1347.6 313.3L1356.8 324.9L1358.3 326.5L1358.3 320.7L1370.7 333.4L1370.7 328.1L1371.6 329.0L1371.6 321.6L1378.1 329.0L1379.0 329.9L1379.0 323.5L1384.9 328.1L1386.0 329.2L1386.0 321.1L1387.1 322.3L1387.1 314.2L1388.2 315.3L1388.2 307.2L1428.5 350.2L1428.9 350.6L1428.9 344.7L1429.2 345.1L1429.2 339.2L1445.5 357.6L1446.4 358.6L1446.4 350.2L1459.4 365.6L1459.9 366.1L1459.9 360.0L1475.1 376.1L1476.0 377.1L1476.0 369.6L1485.2 380.4L1486.1 381.3L1486.1 375.9L1487.1 376.8L1487.1 371.4L1488.0 372.3L1488.0 366.9L1493.5 373.9L1494.5 374.8L1494.5 367.8L1502.4 378.5L1503.1 379.3L1503.1 371.5L1513.9 384.0L1514.3 384.5L1514.3 379.2L1514.8 379.6L1514.8 374.3L1524.0 385.0L1525.4 386.4L1525.4 381.0L1526.8 382.4L1526.8 377.0L1563.7 417.3L1564.5 418.0L1564.5 414.9L1565.2 415.6L1565.2 412.5L1565.9 413.3L1565.9 410.1L1566.6 410.9L1566.6 407.7L1570.3 410.7L1572.2 412.6L1572.2 409.5L1574.0 411.4L1574.0 408.3L1575.9 410.2L1575.9 407.1L1577.7 409.0L1577.7 405.9L1616.5 445.0L1617.4 446.0L1617.4 442.8L1658.1 483.8L1659.0 484.8L1659.0 481.6L1679.3 502.9L1680.7 504.3L1680.7 501.6L1682.1 503.0L1682.1 500.4L1683.5 501.8L1683.5 499.2L1684.9 500.6L1684.9 497.9L1686.2 499.4L1686.2 496.7L1687.6 498.1L1687.6 495.5L1693.2 501.2L1693.2 498.6L1703.3 509.1L1703.3 507.5L1704.3 508.4L1704.3 506.4L1705.2 507.3L1705.2 505.3L1706.1 506.2L1706.1 504.1L1721.8 520.3L1721.8 517.6L1722.7 518.6L1722.7 516.2L1723.7 517.2L1723.7 514.8L1724.6 515.8L1724.6 513.4L1734.7 523.7L1735.3 524.3L1735.3 521.9L1739.4 526.9L1740.4 528.0L1740.4 525.9L1741.5 527.0L1741.5 524.8L1742.6 525.9L1742.6 523.8L1743.7 524.9L1743.7 522.8L1744.7 523.9L1744.7 521.8L1745.8 522.9L1745.8 520.8L1795.7 571.2L1796.6 572.2L1796.6 569.9L1807.7 581.3L1807.7 578.6L1814.5 585.6L1814.5 583.8L1821.3 590.8L1821.3 589.1L1828.0 596.0L1828.0 594.3L1852.2 616.9L1878.0 629.9L1898.0 644.7L2107.1 851.6"/>
<path class="rug" d="M294.2 814.5V889.5M295.4 814.5V889.5M303.4 814.5V889.5M312.6 814.5V889.5M320.0 814.5V889.5M339.1 814.5V889.5M341.7 814.5V889.5M344.3 814.5V889.5M345.9 814.5V889.5M347.5 814.5V889.5M348.2 814.5V889.5M349.0 814.5V889.5M352.7 814.5V889.5M355.4 814.5V889.5M357.0 814.5V889.5M368.3 814.5V889.5M369.2 814.5V889.5M372.4 814.5V889.5M374.5 814.5V889.5M376.6 814.5V889.5M377.5 814.5V889.5M377.9 814.5V889.5M378.5 814.5V889.5M379.1 814.5V889.5M385.9 814.5V889.5M386.7 814.5V889.5M397.6 814.5V889.5M397.6 814.5V889.5M398.2 814.5V889.5M398.8 814.5V889.5M401.9 814.5V889.5M406.8 814.5V889.5M413.0 814.5V889.5M421.6 814.5V889.5M438.3 814.5V889.5M438.9 814.5V889.5M453.6 814.5V889.5M470.5 814.5V889.5M471.7 814.5V889.5M479.5 814.5V889.5M480.3 814.5V889.5M496.1 814.5V889.5M497.3 814.5V889.5M498.5 814.5V889.5M505.0 814.5V889.5M510.6 814.5V889.5M520.7 814.5V889.5M529.5 814.5V889.5M530.7 814.5V889.5M546.2 814.5V889.5M550.8 814.5V889.5M557.2 814.5V889.5M558.4 814.5V889.5M584.1 814.5V889.5M588.7 814.5V889.5M595.2 814.5V889.5M600.4 814.5V889.5M619.2 814.5V889.5M639.5 814.5V889.5M657.1 814.5V889.5M678.5 814.5V889.5M679.7 814.5V889.5M680.9 814.5V889.5M682.0 814.5V889.5M730.4 814.5V889.5M744.0 814.5V889.5M752.9 814.5V889.5M757.5 814.5V889.5M766.2 814.5V889.5M767.1 814.5V889.5M772.7 814.5V889.5M782.3 814.5V889.5M790.2 814.5V889.5M791.4 814.5V889.5M795.7 814.5V889.5M804.1 814.5V889.5M819.4 814.5V889.5M844.0 814.5V889.5M845.2 814.5V889.5M846.4 814.5V889.5M848.9 814.5V889.5M856.7 814.5V889.5M863.8 814.5V889.5M864.5 814.5V889.5M872.6 814.5V889.5M873.7 814.5V889.5M876.7 814.5V889.5M882.6 814.5V889.5M888.1 814.5V889.5M893.2 814.5V889.5M894.4 814.5V889.5M906.3 814.5V889.5M907.0 814.5V889.5M911.2 814.5V889.5M928.8 814.5V889.5M936.6 814.5V889.5M938.9 814.5V889.5M960.2 814.5V889.5M967.3 814.5V889.5M967.9 814.5V889.5M972.2 814.5V889.5M1008.5 814.5V889.5M1012.0 814.5V889.5M1013.2 814.5V889.5M1020.5 814.5V889.5M1027.9 814.5V889.5M1028.8 814.5V889.5M1035.3 814.5V889.5M1048.7 814.5V889.5M1054.7 814.5V889.5M1063.0 814.5V889.5M1068.1 814.5V889.5M1069.4 814.5V889.5M1073.9 814.5V889.5M1074.6 814.5V889.5M1106.0 814.5V889.5M1114.7 814.5V889.5M1123.4 814.5V889.5M1128.1 814.5V889.5M1129.5 814.5V889.5M1138.7 814.5V889.5M1165.4 814.5V889.5M1166.6 814.5V889.5M1173.4 814.5V889.5M1174.4 814.5V889.5M1192.7 814.5V889.5M1209.8 814.5V889.5M1214.5 814.5V889.5M1219.1 814.5V889.5M1240.3 814.5V889.5M1249.6 814.5V889.5M1258.3 814.5V889.5M1259.7 814.5V889.5M1273.5 814.5V889.5M1274.7 814.5V889.5M1282.9 814.5V889.5M1289.4 814.5V889.5M1298.6 814.5V889.5M1302.9 814.5V889.5M1313.4 814.5V889.5M1314.3 814.5V889.5M1320.2 814.5V889.5M1336.1 814.5V889.5M1347.6 814.5V889.5M1358.3 814.5V889.5M1370.7 814.5V889.5M1371.6 814.5V889.5M1379.0 814.5V889.5M1386.0 814.5V889.5M1387.1 814.5V889.5M1388.2 814.5V889.5M1428.3 814.5V889.5M1429.5 814.5V889.5M1446.4 814.5V889.5M1459.9 814.5V889.5M1476.0 814.5V889.5M1486.1 814.5V889.5M1487.1 814.5V889.5M1488.0 814.5V889.5M1494.5 814.5V889.5M1503.1 814.5V889.5M1513.7 814.5V889.5M1514.9 814.5V889.5M1525.4 814.5V889.5M1526.8 814.5V889.5M1563.4 814.5V889.5M1564.6 814.5V889.5M1565.8 814.5V889.5M1567.0 814.5V889.5M1572.2 814.5V889.5M1574.0 814.5V889.5M1575.9 814.5V889.5M1577.7 814.5V889.5M1617.4 814.5V889.5M1659.0 814.5V889.5M1680.7 814.5V889.5M1682.1 814.5V889.5M1683.5 814.5V889.5M1684.9 814.5V889.5M1686.2 814.5V889.5M1687.6 814.5V889.5M1693.2 814.5V889.5M1703.3 814.5V889.5M1704.3 814.5V889.5M1705.2 814.5V889.5M1706.1 814.5V889.5M1721.8 814.5V889.5M1722.7 814.5V889.5M1723.7 814.5V889.5M1724.6 814.5V889.5M1735.3 814.5V889.5M1740.4 814.5V889.5M1741.5 814.5V889.5M1742.6 814.5V889.5M1743.7 814.5V889.5M1744.7 814.5V889.5M1745.8 814.5V889.5M1796.6 814.5V889.5M1807.7 814.5V889.5M1814.5 814.5V889.5M1821.3 814.5V889.5M1828.0 814.5V889.5M1839.2 814.5V889.5M1857.7 814.5V889.5M1859.2 814.5V889.5M1860.5 814.5V889.5M1864.2 814.5V889.5M1871.0 814.5V889.5M1873.4 814.5V889.5M1875.8 814.5V889.5M1878.4 814.5V889.5M1886.3 814.5V889.5M1898.0 814.5V889.5M1923.8 814.5V889.5M1934.7 814.5V889.5M1941.2 814.5V889.5M1961.5 814.5V889.5M1978.7 814.5V889.5M1997.7 814.5V889.5M2007.7 814.5V889.5M2039.3 814.5V889.5M2053.9 814.5V889.5M2058.7 814.5V889.5M2075.3 814.5V889.5M2082.7 814.5V889.5M2087.7 814.5V889.5M2094.2 814.5V889.5M2101.0 814.5V889.5"/>
<text class="lt" x="2289.5" y="155.4">p</text>
<circle cx="2322.4" cy="222.2" r="4.0" fill="#000"/><text class="lg" x="2385.5" y="239.7">0</text><circle cx="2322.4" cy="286.1" r="8.5" fill="#000"/><text class="lg" x="2385.5" y="303.6">3</text><circle cx="2322.4" cy="350.0" r="12.9" fill="#000"/><text class="lg" x="2385.5" y="367.5">6</text><circle cx="2322.4" cy="413.9" r="17.4" fill="#000"/><text class="lg" x="2385.5" y="431.4">9</text><circle cx="2322.4" cy="477.8" r="21.9" fill="#000"/><text class="lg" x="2385.5" y="495.3">12</text>
<text class="lt" x="2289.5" y="684">p</text>
<rect x="2290.8" y="721.1" width="64" height="320" fill="url(#cb)"/>
<path d="M2290.8 1033.0h12.8M2354.8 1033.0h-12.8" stroke="#fff" stroke-width="2.96"/><text class="lg" x="2385.5" y="1050.5">0</text><path d="M2290.8 957.0h12.8M2354.8 957.0h-12.8" stroke="#fff" stroke-width="2.96"/><text class="lg" x="2385.5" y="974.5">3</text><path d="M2290.8 881.1h12.8M2354.8 881.1h-12.8" stroke="#fff" stroke-width="2.96"/><text class="lg" x="2385.5" y="898.6">6</text><path d="M2290.8 805.1h12.8M2354.8 805.1h-12.8" stroke="#fff" stroke-width="2.96"/><text class="lg" x="2385.5" y="822.6">9</text><path d="M2290.8 729.2h12.8M2354.8 729.2h-12.8" stroke="#fff" stroke-width="2.96"/><text class="lg" x="2385.5" y="746.7">12</text>
</g>
<g transform="translate(0,1166.67)">
<text class="t1" x="1198.8" y="84">Parietal Lobe (TAG group: p &lt; 0.01)</text>
<text class="t2" x="1199.8" y="175.9">Empirical p = 0.078; NES = 1.135</text>
<path class="g" d="M200.0 851.5H2199.5"/><path class="g" d="M200.0 655.7H2199.5"/><path class="g" d="M200.0 459.9H2199.5"/><path class="g" d="M200.0 264.1H2199.5"/><path class="g" d="M291.1 220.0V921.0"/><path class="g" d="M938.7 220.0V921.0"/><path class="g" d="M1586.3 220.0V921.0"/>
<path class="tk" d="M184.7 851.5H200.0"/><text class="ax" text-anchor="end" x="173.5" y="869.0">0.0</text><path class="tk" d="M184.7 655.7H200.0"/><text class="ax" text-anchor="end" x="173.5" y="673.2">0.1</text><path class="tk" d="M184.7 459.9H200.0"/><text class="ax" text-anchor="end" x="173.5" y="477.4">0.2</text><path class="tk" d="M184.7 264.1H200.0"/><text class="ax" text-anchor="end" x="173.5" y="281.6">0.3</text><path class="tk" d="M291.1 921.0V936.3"/><text class="ax" text-anchor="middle" x="291.1" y="985">0</text><path class="tk" d="M938.7 921.0V936.3"/><text class="ax" text-anchor="middle" x="938.7" y="985">5000</text><path class="tk" d="M1586.3 921.0V936.3"/><text class="ax" text-anchor="middle" x="1586.3" y="985">10000</text>
<text class="t2" x="1199.8" y="1055.9">Rank of gene by tissue z-score in ENCODE</text>
<text class="t2" transform="translate(75.5,572.9) rotate(-90)">enrichment score</text>
<path class="rd" d="M200.0 252.1H2199.5"/><path class="rd" d="M200.0 855.5H2199.5"/>
<path d="M200.0 851.5H2199.5" stroke="#000" stroke-width="5.93"/>
<circle cx="293.9" cy="839.6" r="9.2" fill="#57e44f"/><circle cx="293.9" cy="823.0" r="9.2" fill="#57e44f"/><circle cx="295.2" cy="855.8" r="4.0" fill="#0000ff"/><circle cx="295.7" cy="836.9" r="4.0" fill="#0000ff"/><circle cx="303.6" cy="826.0" r="4.0" fill="#0000ff"/><circle cx="303.6" cy="811.9" r="7.0" fill="#7d95a5"/><circle cx="308.1" cy="816.9" r="4.0" fill="#0000ff"/><circle cx="308.1" cy="803.6" r="7.0" fill="#7d96a4"/><circle cx="316.4" cy="812.3" r="4.0" fill="#0000ff"/><circle cx="316.4" cy="798.0" r="8.1" fill="#75bd7f"/><circle cx="322.9" cy="804.9" r="4.0" fill="#0000ff"/><circle cx="322.9" cy="790.7" r="7.8" fill="#79b389"/><circle cx="327.3" cy="795.5" r="4.0" fill="#0000ff"/><circle cx="327.3" cy="781.0" r="7.7" fill="#7bad8e"/><circle cx="327.5" cy="781.1" r="4.0" fill="#0000ff"/><circle cx="327.5" cy="766.6" r="7.2" fill="#7d9c9e"/><circle cx="329.0" cy="750.0" r="8.8" fill="#67d465"/><circle cx="331.0" cy="770.5" r="4.0" fill="#0000ff"/><circle cx="331.2" cy="756.7" r="4.0" fill="#0000ff"/><circle cx="331.2" cy="742.6" r="7.6" fill="#7caa92"/><circle cx="333.6" cy="724.1" r="8.8" fill="#67d465"/><circle cx="335.4" cy="747.2" r="4.0" fill="#0000ff"/><circle cx="335.4" cy="733.8" r="7.5" fill="#7ca894"/><circle cx="335.4" cy="733.8" r="4.0" fill="#0000ff"/><circle cx="339.1" cy="724.1" r="4.0" fill="#0000ff"/><circle cx="339.1" cy="710.8" r="7.3" fill="#7da09a"/><circle cx="339.1" cy="710.8" r="4.0" fill="#0000ff"/><circle cx="339.1" cy="697.4" r="7.3" fill="#7d9f9b"/><circle cx="346.9" cy="706.1" r="4.0" fill="#0000ff"/><circle cx="346.9" cy="691.8" r="7.8" fill="#7ab28a"/><circle cx="354.3" cy="699.6" r="4.0" fill="#0000ff"/><circle cx="354.3" cy="684.4" r="8.5" fill="#6fc972"/><circle cx="362.2" cy="678.0" r="8.8" fill="#67d465"/><circle cx="365.4" cy="696.0" r="4.0" fill="#0000ff"/><circle cx="365.9" cy="681.2" r="4.0" fill="#0000ff"/><circle cx="365.9" cy="666.0" r="7.5" fill="#7ca696"/><circle cx="373.3" cy="673.4" r="4.0" fill="#0000ff"/><circle cx="373.3" cy="662.7" r="7.4" fill="#7da299"/><circle cx="374.2" cy="663.7" r="4.0" fill="#0000ff"/><circle cx="374.2" cy="653.0" r="7.2" fill="#7d9b9f"/><circle cx="381.2" cy="666.5" r="4.0" fill="#0000ff"/><circle cx="381.2" cy="652.1" r="7.0" fill="#7d95a5"/><circle cx="385.9" cy="656.4" r="4.0" fill="#0000ff"/><circle cx="385.9" cy="640.6" r="7.0" fill="#7d94a6"/><circle cx="386.4" cy="641.2" r="4.0" fill="#0000ff"/><circle cx="386.4" cy="625.4" r="7.4" fill="#7da299"/><circle cx="387.0" cy="626.0" r="4.0" fill="#0000ff"/><circle cx="387.0" cy="610.2" r="7.2" fill="#7d9d9e"/><circle cx="400.5" cy="624.1" r="4.0" fill="#0000ff"/><circle cx="400.5" cy="610.2" r="7.3" fill="#7d9f9c"/><circle cx="406.6" cy="616.3" r="4.0" fill="#0000ff"/><circle cx="406.6" cy="600.0" r="8.4" fill="#70c874"/><circle cx="425.4" cy="609.3" r="8.8" fill="#67d465"/><circle cx="428.2" cy="625.6" r="4.0" fill="#0000ff"/><circle cx="430.0" cy="596.4" r="8.8" fill="#67d465"/><circle cx="431.9" cy="613.5" r="4.0" fill="#0000ff"/><circle cx="442.3" cy="610.0" r="4.0" fill="#0000ff"/><circle cx="442.3" cy="594.7" r="7.2" fill="#7d9aa0"/><circle cx="443.5" cy="596.0" r="4.0" fill="#0000ff"/><circle cx="443.5" cy="580.7" r="7.0" fill="#7d94a6"/><circle cx="462.4" cy="602.9" r="4.0" fill="#0000ff"/><circle cx="462.4" cy="588.0" r="7.2" fill="#7d9d9e"/><circle cx="463.3" cy="589.0" r="4.0" fill="#0000ff"/><circle cx="463.3" cy="574.2" r="7.1" fill="#7d97a3"/><circle cx="466.1" cy="577.1" r="4.0" fill="#0000ff"/><circle cx="466.1" cy="562.2" r="7.4" fill="#7da497"/><circle cx="467.0" cy="563.2" r="4.0" fill="#0000ff"/><circle cx="467.0" cy="549.2" r="8.5" fill="#6fc972"/><circle cx="472.5" cy="554.9" r="4.0" fill="#0000ff"/><circle cx="472.5" cy="539.1" r="7.7" fill="#7bae8e"/><circle cx="473.5" cy="540.1" r="4.0" fill="#0000ff"/><circle cx="473.5" cy="525.2" r="7.1" fill="#7d98a2"/><circle cx="480.5" cy="533.2" r="4.0" fill="#0000ff"/><circle cx="480.5" cy="518.8" r="8.4" fill="#70c874"/><circle cx="501.5" cy="543.6" r="4.0" fill="#0000ff"/><circle cx="501.5" cy="527.1" r="8.0" fill="#77b983"/><circle cx="512.7" cy="541.4" r="4.0" fill="#0000ff"/><circle cx="512.7" cy="527.5" r="7.8" fill="#79b389"/><circle cx="513.2" cy="528.0" r="4.0" fill="#0000ff"/><circle cx="513.2" cy="514.1" r="8.5" fill="#6fc972"/><circle cx="518.7" cy="519.8" r="4.0" fill="#0000ff"/><circle cx="518.7" cy="504.0" r="7.9" fill="#79b587"/><circle cx="528.9" cy="515.1" r="4.0" fill="#0000ff"/><circle cx="528.9" cy="500.3" r="8.0" fill="#78b884"/><circle cx="534.0" cy="493.8" r="11.4" fill="#7aff00"/><circle cx="534.9" cy="508.2" r="4.0" fill="#0000ff"/><circle cx="535.3" cy="493.9" r="4.0" fill="#0000ff"/><circle cx="535.3" cy="479.0" r="8.5" fill="#6fc972"/><circle cx="542.7" cy="473.1" r="8.8" fill="#67d465"/><circle cx="543.7" cy="488.3" r="4.0" fill="#0000ff"/><circle cx="560.3" cy="493.6" r="4.0" fill="#0000ff"/><circle cx="560.3" cy="479.0" r="7.1" fill="#7d98a2"/><circle cx="562.1" cy="481.0" r="4.0" fill="#0000ff"/><circle cx="562.1" cy="466.1" r="7.9" fill="#79b488"/><circle cx="563.1" cy="467.1" r="4.0" fill="#0000ff"/><circle cx="563.1" cy="456.5" r="10.3" fill="#35ff00"/><circle cx="564.0" cy="455.6" r="4.0" fill="#0000ff"/><circle cx="564.0" cy="443.0" r="7.4" fill="#7da299"/><circle cx="590.8" cy="472.6" r="4.0" fill="#0000ff"/><circle cx="590.8" cy="458.7" r="7.5" fill="#7ca596"/><circle cx="597.2" cy="465.3" r="4.0" fill="#0000ff"/><circle cx="597.2" cy="450.4" r="7.4" fill="#7da398"/><circle cx="598.7" cy="439.3" r="8.9" fill="#63d95f"/><circle cx="599.1" cy="452.4" r="4.0" fill="#0000ff"/><circle cx="640.1" cy="485.9" r="4.0" fill="#0000ff"/><circle cx="640.1" cy="471.7" r="7.4" fill="#7da497"/><circle cx="669.4" cy="504.2" r="4.0" fill="#0000ff"/><circle cx="669.4" cy="491.5" r="8.1" fill="#76bd7f"/><circle cx="671.2" cy="493.4" r="4.0" fill="#0000ff"/><circle cx="671.2" cy="481.3" r="7.3" fill="#7d9e9d"/><circle cx="673.1" cy="483.3" r="4.0" fill="#0000ff"/><circle cx="673.1" cy="470.2" r="8.4" fill="#71c676"/><circle cx="674.9" cy="472.2" r="4.0" fill="#0000ff"/><circle cx="674.9" cy="459.1" r="8.5" fill="#6fc972"/><circle cx="686.0" cy="472.1" r="4.0" fill="#0000ff"/><circle cx="686.0" cy="461.9" r="7.4" fill="#7da299"/><circle cx="689.7" cy="439.7" r="9.2" fill="#57e44f"/><circle cx="690.6" cy="466.6" r="4.0" fill="#0000ff"/><circle cx="690.6" cy="457.7" r="7.5" fill="#7ca795"/><circle cx="691.6" cy="458.7" r="4.0" fill="#0000ff"/><circle cx="691.6" cy="449.9" r="8.5" fill="#6fc972"/><circle cx="692.5" cy="450.9" r="4.0" fill="#0000ff"/><circle cx="693.4" cy="443.8" r="4.0" fill="#0000ff"/><circle cx="693.4" cy="435.7" r="7.4" fill="#7da398"/><circle cx="694.3" cy="436.7" r="4.0" fill="#0000ff"/><circle cx="694.3" cy="428.6" r="7.1" fill="#7d99a1"/><circle cx="720.5" cy="459.8" r="4.0" fill="#0000ff"/><circle cx="720.5" cy="452.7" r="7.2" fill="#7d9d9e"/><circle cx="721.1" cy="453.4" r="4.0" fill="#0000ff"/><circle cx="721.1" cy="446.2" r="7.8" fill="#7ab08c"/><circle cx="723.9" cy="449.2" r="4.0" fill="#0000ff"/><circle cx="723.9" cy="437.0" r="7.1" fill="#7d98a2"/><circle cx="727.6" cy="440.9" r="4.0" fill="#0000ff"/><circle cx="727.6" cy="427.7" r="8.5" fill="#6fc972"/><circle cx="731.3" cy="431.7" r="4.0" fill="#0000ff"/><circle cx="731.3" cy="420.3" r="7.2" fill="#7d9b9f"/><circle cx="734.1" cy="423.3" r="4.0" fill="#0000ff"/><circle cx="734.1" cy="411.1" r="8.5" fill="#6fc972"/><circle cx="736.8" cy="414.1" r="4.0" fill="#0000ff"/><circle cx="736.8" cy="403.7" r="7.2" fill="#7d9c9e"/><circle cx="736.8" cy="393.5" r="8.8" fill="#67d465"/><circle cx="739.6" cy="406.7" r="4.0" fill="#0000ff"/><circle cx="740.2" cy="394.2" r="4.0" fill="#0000ff"/><circle cx="740.2" cy="387.5" r="7.8" fill="#7ab08c"/><circle cx="740.9" cy="388.2" r="4.0" fill="#0000ff"/><circle cx="740.9" cy="381.5" r="7.4" fill="#7da497"/><circle cx="753.5" cy="396.4" r="4.0" fill="#0000ff"/><circle cx="753.5" cy="385.2" r="7.5" fill="#7ca597"/><circle cx="754.8" cy="386.7" r="4.0" fill="#0000ff"/><circle cx="754.8" cy="379.7" r="7.7" fill="#7bac8f"/><circle cx="756.2" cy="381.2" r="4.0" fill="#0000ff"/><circle cx="756.2" cy="374.1" r="7.6" fill="#7ca993"/><circle cx="756.2" cy="365.8" r="11.4" fill="#7aff00"/><circle cx="759.0" cy="377.1" r="4.0" fill="#0000ff"/><circle cx="760.4" cy="367.3" r="4.0" fill="#0000ff"/><circle cx="760.4" cy="360.3" r="7.1" fill="#7d99a1"/><circle cx="761.8" cy="361.8" r="4.0" fill="#0000ff"/><circle cx="761.8" cy="354.7" r="7.4" fill="#7da497"/><circle cx="771.0" cy="367.7" r="4.0" fill="#0000ff"/><circle cx="771.0" cy="355.7" r="8.5" fill="#6fc972"/><circle cx="772.2" cy="357.0" r="4.0" fill="#0000ff"/><circle cx="772.2" cy="349.7" r="7.6" fill="#7caa91"/><circle cx="773.4" cy="351.0" r="4.0" fill="#0000ff"/><circle cx="773.4" cy="343.7" r="7.0" fill="#7d95a5"/><circle cx="786.7" cy="360.4" r="4.0" fill="#0000ff"/><circle cx="786.7" cy="348.3" r="8.1" fill="#76bc80"/><circle cx="789.5" cy="351.2" r="4.0" fill="#0000ff"/><circle cx="789.5" cy="339.0" r="7.8" fill="#7ab28a"/><circle cx="798.7" cy="337.2" r="9.7" fill="#39f431"/><circle cx="799.3" cy="350.8" r="4.0" fill="#0000ff"/><circle cx="822.7" cy="352.9" r="10.0" fill="#00ff00"/><circle cx="825.0" cy="368.2" r="4.0" fill="#0000ff"/><circle cx="825.0" cy="360.8" r="7.1" fill="#7d98a2"/><circle cx="825.5" cy="361.2" r="4.0" fill="#0000ff"/><circle cx="832.4" cy="364.5" r="4.0" fill="#0000ff"/><circle cx="832.4" cy="357.1" r="7.0" fill="#7d95a5"/><circle cx="832.9" cy="357.5" r="4.0" fill="#0000ff"/><circle cx="832.9" cy="350.1" r="7.7" fill="#7bac8f"/><circle cx="845.4" cy="367.2" r="4.0" fill="#0000ff"/><circle cx="845.4" cy="360.3" r="7.2" fill="#7d9b9f"/><circle cx="845.8" cy="360.8" r="4.0" fill="#0000ff"/><circle cx="845.8" cy="353.5" r="8.8" fill="#67d465"/><circle cx="860.6" cy="372.7" r="4.0" fill="#0000ff"/><circle cx="860.6" cy="365.8" r="8.3" fill="#72c477"/><circle cx="861.0" cy="366.2" r="4.0" fill="#0000ff"/><circle cx="861.0" cy="359.4" r="7.1" fill="#7d96a4"/><circle cx="868.9" cy="370.5" r="4.0" fill="#0000ff"/><circle cx="868.9" cy="358.4" r="7.5" fill="#7ca597"/><circle cx="873.3" cy="364.7" r="4.0" fill="#0000ff"/><circle cx="873.3" cy="358.0" r="8.2" fill="#74c17b"/><circle cx="873.9" cy="358.7" r="4.0" fill="#0000ff"/><circle cx="873.9" cy="352.0" r="7.2" fill="#7d9aa0"/><circle cx="899.0" cy="382.1" r="4.0" fill="#0000ff"/><circle cx="899.0" cy="369.5" r="7.1" fill="#7d99a1"/><circle cx="912.3" cy="385.9" r="4.0" fill="#0000ff"/><circle cx="912.3" cy="374.1" r="8.4" fill="#72c577"/><circle cx="916.0" cy="378.1" r="4.0" fill="#0000ff"/><circle cx="916.0" cy="366.8" r="7.3" fill="#7da09a"/><circle cx="918.8" cy="359.4" r="21.9" fill="#ff0000"/><circle cx="919.7" cy="370.7" r="4.0" fill="#0000ff"/><circle cx="923.4" cy="363.3" r="4.0" fill="#0000ff"/><circle cx="923.4" cy="352.0" r="7.0" fill="#7d94a6"/><circle cx="930.5" cy="361.9" r="4.0" fill="#0000ff"/><circle cx="930.5" cy="351.4" r="7.3" fill="#7d9e9c"/><circle cx="931.1" cy="352.0" r="4.0" fill="#0000ff"/><circle cx="931.1" cy="341.5" r="7.1" fill="#7d98a2"/><circle cx="933.4" cy="344.0" r="4.0" fill="#0000ff"/><circle cx="933.4" cy="336.9" r="7.7" fill="#7bae8e"/><circle cx="935.7" cy="339.4" r="4.0" fill="#0000ff"/><circle cx="935.7" cy="332.3" r="7.0" fill="#7d96a4"/><circle cx="939.4" cy="336.3" r="4.0" fill="#0000ff"/><circle cx="939.4" cy="324.0" r="8.5" fill="#6fc972"/><circle cx="941.7" cy="326.5" r="4.0" fill="#0000ff"/><circle cx="942.2" cy="322.1" r="10.3" fill="#35ff00"/><circle cx="944.0" cy="322.3" r="4.0" fill="#0000ff"/><circle cx="944.0" cy="315.7" r="7.8" fill="#7ab28a"/><circle cx="945.9" cy="317.6" r="4.0" fill="#0000ff"/><circle cx="945.9" cy="311.1" r="7.0" fill="#7d94a6"/><circle cx="947.7" cy="313.0" r="4.0" fill="#0000ff"/><circle cx="947.7" cy="306.4" r="7.2" fill="#7d9aa0"/><circle cx="954.2" cy="313.4" r="4.0" fill="#0000ff"/><circle cx="954.2" cy="300.9" r="8.9" fill="#63d95f"/><circle cx="968.4" cy="320.7" r="4.0" fill="#0000ff"/><circle cx="968.4" cy="310.1" r="7.1" fill="#7d97a3"/><circle cx="969.8" cy="311.6" r="4.0" fill="#0000ff"/><circle cx="969.9" cy="302.7" r="10.0" fill="#00ff00"/><circle cx="971.2" cy="305.8" r="4.0" fill="#0000ff"/><circle cx="971.2" cy="298.4" r="7.7" fill="#7aaf8d"/><circle cx="972.7" cy="299.9" r="4.0" fill="#0000ff"/><circle cx="972.7" cy="292.6" r="7.3" fill="#7d9f9c"/><circle cx="993.0" cy="316.7" r="4.0" fill="#0000ff"/><circle cx="993.0" cy="305.5" r="7.0" fill="#7d95a5"/><circle cx="998.5" cy="313.0" r="4.0" fill="#0000ff"/><circle cx="998.5" cy="300.9" r="8.5" fill="#6fc972"/><circle cx="1002.2" cy="304.8" r="4.0" fill="#0000ff"/><circle cx="1002.2" cy="294.4" r="7.1" fill="#7d97a3"/><circle cx="1016.4" cy="311.4" r="4.0" fill="#0000ff"/><circle cx="1016.4" cy="300.9" r="7.0" fill="#7d95a5"/><circle cx="1055.4" cy="332.3" r="8.8" fill="#67d465"/><circle cx="1055.8" cy="344.4" r="4.0" fill="#0000ff"/><circle cx="1074.9" cy="357.0" r="4.0" fill="#0000ff"/><circle cx="1074.9" cy="349.8" r="7.6" fill="#7caa91"/><circle cx="1075.6" cy="350.5" r="4.0" fill="#0000ff"/><circle cx="1075.6" cy="343.4" r="7.9" fill="#79b389"/><circle cx="1081.6" cy="349.9" r="4.0" fill="#0000ff"/><circle cx="1081.6" cy="338.8" r="7.1" fill="#7d96a4"/><circle cx="1086.5" cy="345.6" r="4.0" fill="#0000ff"/><circle cx="1086.5" cy="338.8" r="7.2" fill="#7d9d9d"/><circle cx="1087.7" cy="340.0" r="4.0" fill="#0000ff"/><circle cx="1087.7" cy="333.2" r="7.0" fill="#7d94a6"/><circle cx="1107.0" cy="353.4" r="4.0" fill="#0000ff"/><circle cx="1107.0" cy="343.4" r="7.4" fill="#7da299"/><circle cx="1111.6" cy="349.4" r="4.0" fill="#0000ff"/><circle cx="1111.6" cy="340.6" r="7.9" fill="#79b587"/><circle cx="1112.1" cy="341.1" r="4.0" fill="#0000ff"/><circle cx="1112.1" cy="332.3" r="7.9" fill="#79b389"/><circle cx="1112.5" cy="332.8" r="4.0" fill="#0000ff"/><circle cx="1112.5" cy="324.0" r="8.5" fill="#6fc972"/><circle cx="1135.0" cy="349.7" r="4.0" fill="#0000ff"/><circle cx="1135.0" cy="341.5" r="7.9" fill="#79b488"/><circle cx="1135.8" cy="342.3" r="4.0" fill="#0000ff"/><circle cx="1135.8" cy="334.1" r="8.3" fill="#73c27a"/><circle cx="1137.1" cy="325.8" r="21.9" fill="#ff0000"/><circle cx="1137.3" cy="335.8" r="4.0" fill="#0000ff"/><circle cx="1138.9" cy="330.3" r="4.0" fill="#0000ff"/><circle cx="1141.7" cy="326.0" r="4.0" fill="#0000ff"/><circle cx="1141.7" cy="315.7" r="7.1" fill="#7d99a1"/><circle cx="1150.4" cy="325.3" r="4.0" fill="#0000ff"/><circle cx="1150.4" cy="317.5" r="7.7" fill="#7bad8f"/><circle cx="1150.7" cy="317.9" r="4.0" fill="#0000ff"/><circle cx="1150.7" cy="310.1" r="7.2" fill="#7d9d9e"/><circle cx="1151.1" cy="310.5" r="4.0" fill="#0000ff"/><circle cx="1151.1" cy="302.7" r="7.1" fill="#7d96a4"/><circle cx="1151.5" cy="303.1" r="4.0" fill="#0000ff"/><circle cx="1151.5" cy="295.3" r="7.4" fill="#7da299"/><circle cx="1151.8" cy="295.7" r="4.0" fill="#0000ff"/><circle cx="1151.8" cy="288.0" r="8.3" fill="#72c478"/><circle cx="1173.4" cy="313.2" r="4.0" fill="#0000ff"/><circle cx="1173.4" cy="306.4" r="7.1" fill="#7d97a3"/><circle cx="1173.7" cy="306.8" r="4.0" fill="#0000ff"/><circle cx="1173.7" cy="300.0" r="7.5" fill="#7ca894"/><circle cx="1174.0" cy="300.3" r="4.0" fill="#0000ff"/><circle cx="1175.9" cy="295.5" r="4.0" fill="#0000ff"/><circle cx="1175.9" cy="290.7" r="21.9" fill="#ff0000"/><circle cx="1177.7" cy="289.9" r="4.0" fill="#0000ff"/><circle cx="1177.7" cy="282.4" r="7.1" fill="#7d97a3"/><circle cx="1182.3" cy="287.4" r="4.0" fill="#0000ff"/><circle cx="1184.2" cy="276.9" r="11.9" fill="#8bff00"/><circle cx="1186.9" cy="283.7" r="4.0" fill="#0000ff"/><circle cx="1186.9" cy="275.0" r="7.2" fill="#7d9aa0"/><circle cx="1191.8" cy="278.4" r="4.0" fill="#0000ff"/><circle cx="1191.8" cy="270.9" r="7.6" fill="#7caa92"/><circle cx="1192.3" cy="271.5" r="4.0" fill="#0000ff"/><circle cx="1192.3" cy="263.9" r="7.3" fill="#7da09a"/><circle cx="1192.9" cy="264.5" r="4.0" fill="#0000ff"/><circle cx="1192.9" cy="257.0" r="7.0" fill="#7d94a6"/><circle cx="1193.4" cy="257.6" r="4.0" fill="#0000ff"/><circle cx="1193.4" cy="250.1" r="7.5" fill="#7ca695"/><circle cx="1211.0" cy="269.5" r="4.0" fill="#0000ff"/><circle cx="1211.0" cy="262.1" r="7.1" fill="#7d97a3"/><circle cx="1211.0" cy="270.4" r="4.0" fill="#0000ff"/><circle cx="1211.0" cy="261.2" r="7.0" fill="#7d95a5"/><circle cx="1225.1" cy="279.7" r="4.0" fill="#0000ff"/><circle cx="1225.1" cy="269.5" r="7.0" fill="#7d94a6"/><circle cx="1231.1" cy="278.3" r="4.0" fill="#0000ff"/><circle cx="1231.1" cy="272.7" r="7.1" fill="#7d98a2"/><circle cx="1231.6" cy="273.2" r="4.0" fill="#0000ff"/><circle cx="1231.6" cy="267.6" r="7.0" fill="#7d96a4"/><circle cx="1240.8" cy="280.6" r="4.0" fill="#0000ff"/><circle cx="1240.8" cy="270.4" r="7.6" fill="#7bab90"/><circle cx="1254.2" cy="287.5" r="4.0" fill="#0000ff"/><circle cx="1254.2" cy="282.0" r="7.4" fill="#7da497"/><circle cx="1254.7" cy="282.4" r="4.0" fill="#0000ff"/><circle cx="1254.7" cy="276.9" r="8.5" fill="#6fc972"/><circle cx="1259.3" cy="281.2" r="4.0" fill="#0000ff"/><circle cx="1259.3" cy="275.0" r="8.5" fill="#6fc972"/><circle cx="1267.6" cy="287.1" r="4.0" fill="#0000ff"/><circle cx="1267.6" cy="280.6" r="8.5" fill="#6fc972"/><circle cx="1275.4" cy="279.6" r="10.7" fill="#56ff00"/><circle cx="1276.8" cy="289.0" r="4.0" fill="#0000ff"/><circle cx="1283.3" cy="284.8" r="4.0" fill="#0000ff"/><circle cx="1283.3" cy="277.6" r="7.4" fill="#7da299"/><circle cx="1285.1" cy="279.6" r="4.0" fill="#0000ff"/><circle cx="1285.1" cy="272.4" r="7.2" fill="#7d9aa0"/><circle cx="1287.0" cy="274.4" r="4.0" fill="#0000ff"/><circle cx="1287.0" cy="267.3" r="7.6" fill="#7ca993"/><circle cx="1301.8" cy="276.5" r="8.9" fill="#63d95f"/><circle cx="1302.2" cy="287.5" r="4.0" fill="#0000ff"/><circle cx="1302.2" cy="282.0" r="7.6" fill="#7bab91"/><circle cx="1302.7" cy="282.4" r="4.0" fill="#0000ff"/><circle cx="1315.2" cy="294.9" r="4.0" fill="#0000ff"/><circle cx="1315.2" cy="289.3" r="7.8" fill="#7ab18b"/><circle cx="1315.6" cy="289.8" r="4.0" fill="#0000ff"/><circle cx="1315.6" cy="283.9" r="8.8" fill="#67d465"/><circle cx="1322.1" cy="284.3" r="8.8" fill="#67d465"/><circle cx="1322.6" cy="295.5" r="4.0" fill="#0000ff"/><circle cx="1322.6" cy="290.1" r="7.3" fill="#7da09a"/><circle cx="1323.0" cy="290.6" r="4.0" fill="#0000ff"/><circle cx="1330.4" cy="296.0" r="4.0" fill="#0000ff"/><circle cx="1330.4" cy="287.0" r="7.0" fill="#7d93a6"/><circle cx="1336.9" cy="294.5" r="4.0" fill="#0000ff"/><circle cx="1336.9" cy="287.0" r="7.0" fill="#7d95a5"/><circle cx="1353.8" cy="307.7" r="4.0" fill="#0000ff"/><circle cx="1353.8" cy="302.7" r="7.3" fill="#7da09b"/><circle cx="1354.0" cy="303.0" r="4.0" fill="#0000ff"/><circle cx="1354.0" cy="298.1" r="7.1" fill="#7d96a4"/><circle cx="1365.1" cy="312.6" r="4.0" fill="#0000ff"/><circle cx="1365.1" cy="304.6" r="7.8" fill="#7ab28a"/><circle cx="1387.7" cy="325.8" r="9.8" fill="#28fa21"/><circle cx="1387.9" cy="332.1" r="4.0" fill="#0000ff"/><circle cx="1388.6" cy="326.1" r="4.0" fill="#0000ff"/><circle cx="1388.6" cy="319.4" r="7.1" fill="#7d96a4"/><circle cx="1390.4" cy="321.3" r="4.0" fill="#0000ff"/><circle cx="1390.4" cy="315.7" r="8.9" fill="#63d95f"/><circle cx="1392.3" cy="318.6" r="4.0" fill="#0000ff"/><circle cx="1392.3" cy="313.8" r="7.1" fill="#7d99a1"/><circle cx="1394.1" cy="315.8" r="4.0" fill="#0000ff"/><circle cx="1394.1" cy="311.1" r="7.1" fill="#7d99a1"/><circle cx="1396.0" cy="313.0" r="4.0" fill="#0000ff"/><circle cx="1396.0" cy="308.3" r="7.5" fill="#7ca597"/><circle cx="1397.8" cy="310.3" r="4.0" fill="#0000ff"/><circle cx="1397.8" cy="305.5" r="7.4" fill="#7da299"/><circle cx="1399.7" cy="307.5" r="4.0" fill="#0000ff"/><circle cx="1399.7" cy="302.7" r="7.2" fill="#7d9c9e"/><circle cx="1407.1" cy="312.7" r="4.0" fill="#0000ff"/><circle cx="1407.1" cy="305.3" r="7.7" fill="#7bac90"/><circle cx="1409.8" cy="308.3" r="4.0" fill="#0000ff"/><circle cx="1409.8" cy="300.9" r="7.1" fill="#7d99a1"/><circle cx="1421.8" cy="316.7" r="4.0" fill="#0000ff"/><circle cx="1421.8" cy="308.3" r="8.5" fill="#6fc972"/><circle cx="1437.6" cy="326.8" r="4.0" fill="#0000ff"/><circle cx="1438.5" cy="318.4" r="9.4" fill="#4fe947"/><circle cx="1442.2" cy="316.6" r="8.9" fill="#63d95f"/><circle cx="1443.1" cy="325.5" r="4.0" fill="#0000ff"/><circle cx="1448.6" cy="319.4" r="8.9" fill="#63d95f"/><circle cx="1449.6" cy="326.9" r="4.0" fill="#0000ff"/><circle cx="1464.8" cy="339.3" r="4.0" fill="#0000ff"/><circle cx="1464.8" cy="335.1" r="7.4" fill="#7da497"/><circle cx="1465.3" cy="335.6" r="4.0" fill="#0000ff"/><circle cx="1465.3" cy="331.4" r="7.5" fill="#7ca894"/><circle cx="1469.9" cy="336.3" r="4.0" fill="#0000ff"/><circle cx="1469.9" cy="330.4" r="7.0" fill="#7d95a5"/><circle cx="1480.6" cy="344.3" r="4.0" fill="#0000ff"/><circle cx="1480.6" cy="338.3" r="7.3" fill="#7da09a"/><circle cx="1481.5" cy="339.2" r="4.0" fill="#0000ff"/><circle cx="1481.5" cy="333.2" r="7.5" fill="#7ca597"/><circle cx="1490.0" cy="345.9" r="4.0" fill="#0000ff"/><circle cx="1490.0" cy="341.5" r="7.1" fill="#7d98a2"/><circle cx="1490.7" cy="342.2" r="4.0" fill="#0000ff"/><circle cx="1490.7" cy="337.8" r="7.0" fill="#7d96a4"/><circle cx="1503.7" cy="354.0" r="4.0" fill="#0000ff"/><circle cx="1503.7" cy="350.3" r="8.0" fill="#77ba82"/><circle cx="1504.2" cy="350.8" r="4.0" fill="#0000ff"/><circle cx="1504.2" cy="347.0" r="7.3" fill="#7d9e9c"/><circle cx="1522.0" cy="369.0" r="4.0" fill="#0000ff"/><circle cx="1522.0" cy="363.2" r="7.5" fill="#7ca597"/><circle cx="1522.7" cy="363.9" r="4.0" fill="#0000ff"/><circle cx="1522.7" cy="358.1" r="8.5" fill="#6fc972"/><circle cx="1526.3" cy="362.1" r="4.0" fill="#0000ff"/><circle cx="1526.3" cy="356.3" r="7.6" fill="#7caa92"/><circle cx="1557.9" cy="392.2" r="4.0" fill="#0000ff"/><circle cx="1557.9" cy="386.8" r="7.2" fill="#7d9c9f"/><circle cx="1558.7" cy="387.5" r="4.0" fill="#0000ff"/><circle cx="1558.7" cy="382.1" r="8.5" fill="#6fc972"/><circle cx="1567.5" cy="392.8" r="4.0" fill="#0000ff"/><circle cx="1567.5" cy="389.5" r="7.3" fill="#7d9e9c"/><circle cx="1567.9" cy="390.0" r="4.0" fill="#0000ff"/><circle cx="1567.9" cy="386.8" r="7.0" fill="#7d94a6"/><circle cx="1573.5" cy="394.2" r="4.0" fill="#0000ff"/><circle cx="1573.5" cy="390.1" r="7.7" fill="#7bae8d"/><circle cx="1574.4" cy="391.1" r="4.0" fill="#0000ff"/><circle cx="1574.4" cy="387.1" r="7.1" fill="#7d96a4"/><circle cx="1575.3" cy="388.1" r="4.0" fill="#0000ff"/><circle cx="1575.3" cy="384.0" r="7.2" fill="#7d9c9e"/><circle cx="1601.5" cy="415.7" r="4.0" fill="#0000ff"/><circle cx="1601.5" cy="412.0" r="8.2" fill="#75bf7d"/><circle cx="1601.8" cy="412.3" r="4.0" fill="#0000ff"/><circle cx="1601.8" cy="408.6" r="7.7" fill="#7bae8e"/><circle cx="1602.1" cy="408.9" r="4.0" fill="#0000ff"/><circle cx="1602.1" cy="405.2" r="7.0" fill="#7d94a6"/><circle cx="1606.7" cy="410.2" r="4.0" fill="#0000ff"/><circle cx="1606.7" cy="405.2" r="7.4" fill="#7da299"/><circle cx="1624.9" cy="427.1" r="4.0" fill="#0000ff"/><circle cx="1624.9" cy="423.7" r="7.3" fill="#7da09b"/><circle cx="1625.5" cy="424.4" r="4.0" fill="#0000ff"/><circle cx="1625.5" cy="420.9" r="7.4" fill="#7da398"/><circle cx="1626.1" cy="421.6" r="4.0" fill="#0000ff"/><circle cx="1626.1" cy="418.2" r="7.1" fill="#7d99a1"/><circle cx="1631.6" cy="424.1" r="4.0" fill="#0000ff"/><circle cx="1631.6" cy="420.9" r="7.6" fill="#7ca993"/><circle cx="1642.4" cy="433.6" r="4.0" fill="#0000ff"/><circle cx="1642.4" cy="429.9" r="7.0" fill="#7d95a5"/><circle cx="1643.0" cy="430.5" r="4.0" fill="#0000ff"/><circle cx="1643.0" cy="426.8" r="7.2" fill="#7d9c9f"/><circle cx="1643.7" cy="427.4" r="4.0" fill="#0000ff"/><circle cx="1643.7" cy="423.7" r="7.3" fill="#7d9e9c"/><circle cx="1646.0" cy="426.2" r="4.0" fill="#0000ff"/><circle cx="1646.0" cy="423.2" r="8.5" fill="#6fc972"/><circle cx="1648.3" cy="425.7" r="4.0" fill="#0000ff"/><circle cx="1648.3" cy="422.8" r="7.0" fill="#7d95a5"/><circle cx="1688.0" cy="466.3" r="4.0" fill="#0000ff"/><circle cx="1688.9" cy="464.7" r="4.0" fill="#0000ff"/><circle cx="1691.3" cy="461.6" r="17.7" fill="#ffc800"/><circle cx="1691.7" cy="465.1" r="4.0" fill="#0000ff"/><circle cx="1709.7" cy="482.4" r="4.0" fill="#0000ff"/><circle cx="1709.7" cy="480.0" r="7.3" fill="#7d9f9b"/><circle cx="1710.2" cy="480.5" r="4.0" fill="#0000ff"/><circle cx="1710.2" cy="478.2" r="8.8" fill="#67d465"/><circle cx="1738.2" cy="510.9" r="4.0" fill="#0000ff"/><circle cx="1738.2" cy="508.4" r="7.9" fill="#79b488"/><circle cx="1739.4" cy="509.7" r="4.0" fill="#0000ff"/><circle cx="1739.4" cy="507.1" r="7.3" fill="#7d9f9b"/><circle cx="1740.6" cy="508.5" r="4.0" fill="#0000ff"/><circle cx="1740.6" cy="504.1" r="8.8" fill="#67d465"/><circle cx="1743.4" cy="508.9" r="4.0" fill="#0000ff"/><circle cx="1743.4" cy="506.8" r="7.1" fill="#7d97a3"/><circle cx="1746.2" cy="509.8" r="4.0" fill="#0000ff"/><circle cx="1746.2" cy="507.8" r="7.0" fill="#7d96a4"/><circle cx="1753.6" cy="515.2" r="4.0" fill="#0000ff"/><circle cx="1753.6" cy="512.7" r="8.2" fill="#74c07c"/><circle cx="1754.5" cy="513.7" r="4.0" fill="#0000ff"/><circle cx="1754.5" cy="511.1" r="7.7" fill="#7bac90"/><circle cx="1754.5" cy="508.7" r="8.8" fill="#67d465"/><circle cx="1755.4" cy="512.1" r="4.0" fill="#0000ff"/><circle cx="1770.5" cy="525.0" r="7.7" fill="#7aaf8d"/><circle cx="1789.9" cy="544.4" r="7.0" fill="#7d94a6"/><circle cx="1800.4" cy="551.5" r="7.7" fill="#7bad8f"/><circle cx="1802.8" cy="552.7" r="9.7" fill="#39f431"/><circle cx="1812.0" cy="559.8" r="9.7" fill="#39f431"/><circle cx="1812.8" cy="560.8" r="7.4" fill="#7da497"/><circle cx="1834.2" cy="580.4" r="7.3" fill="#7d9e9d"/><circle cx="1837.4" cy="582.9" r="7.4" fill="#7da299"/><circle cx="1846.2" cy="589.7" r="8.0" fill="#77b983"/><circle cx="1855.5" cy="597.4" r="9.1" fill="#5ddf57"/><circle cx="1857.7" cy="599.2" r="7.5" fill="#7ca597"/><circle cx="1862.9" cy="603.2" r="7.4" fill="#7da398"/><circle cx="1870.2" cy="608.9" r="8.5" fill="#6fc972"/><circle cx="1883.2" cy="619.4" r="8.0" fill="#77ba82"/><circle cx="1885.4" cy="621.5" r="8.5" fill="#6fc972"/><circle cx="1917.4" cy="654.3" r="8.2" fill="#75be7e"/><circle cx="1937.7" cy="674.3" r="7.2" fill="#7d9c9f"/><circle cx="1985.3" cy="725.1" r="7.1" fill="#7d99a1"/><circle cx="2009.7" cy="751.1" r="7.4" fill="#7da398"/><circle cx="2015.3" cy="755.0" r="9.5" fill="#45ef3d"/><circle cx="2028.0" cy="769.5" r="7.7" fill="#7bae8e"/><circle cx="2028.2" cy="769.7" r="7.2" fill="#7d9aa0"/><circle cx="2032.6" cy="774.1" r="8.5" fill="#6fc972"/><circle cx="2036.7" cy="776.5" r="9.4" fill="#4fe947"/><circle cx="2042.3" cy="784.0" r="8.1" fill="#76bb81"/><circle cx="2044.7" cy="786.4" r="7.0" fill="#7d96a4"/><circle cx="2066.6" cy="809.0" r="7.3" fill="#7d9e9d"/><circle cx="2086.6" cy="829.5" r="8.5" fill="#6fc972"/><circle cx="2092.1" cy="836.5" r="10.0" fill="#00ff00"/><circle cx="2094.9" cy="838.0" r="7.3" fill="#7da09b"/><circle cx="2096.2" cy="839.3" r="7.0" fill="#7d95a5"/><circle cx="2097.7" cy="841.1" r="9.4" fill="#4fe947"/><circle cx="2101.0" cy="844.3" r="8.4" fill="#70c873"/><circle cx="2105.1" cy="845.8" r="9.7" fill="#39f431"/>
<path class="ln" d="M291.1 851.4L294.8 855.3L295.2 855.8L295.2 836.4L295.7 836.9L295.7 817.4L303.1 825.4L303.6 826.0L303.6 811.9L307.7 816.5L308.1 816.9L308.1 803.6L316.0 811.9L316.4 812.3L316.4 798.0L322.5 804.5L322.9 804.9L322.9 790.7L327.1 795.3L327.3 795.5L327.3 781.0L327.5 781.1L327.5 766.6L330.8 770.3L331.0 770.5L331.0 756.5L331.2 756.7L331.2 742.6L335.4 747.2L335.4 733.8L335.4 720.4L339.1 724.1L339.1 710.8L339.1 697.4L346.5 705.7L346.9 706.1L346.9 691.8L353.9 699.2L354.3 699.6L354.3 684.4L365.0 695.5L365.4 696.0L365.4 680.7L365.9 681.2L365.9 666.0L372.4 672.4L373.3 673.4L373.3 662.7L374.2 663.7L374.2 653.0L380.7 666.0L381.2 666.5L381.2 652.1L385.3 655.8L385.9 656.4L385.9 640.6L386.4 641.2L386.4 625.4L387.0 626.0L387.0 610.2L400.5 624.1L400.5 610.2L406.0 615.8L406.6 616.3L406.6 600.0L427.6 625.0L428.2 625.6L428.2 609.3L431.9 613.5L431.9 597.3L441.1 608.7L442.3 610.0L442.3 594.7L443.5 596.0L443.5 580.7L461.4 601.9L462.4 602.9L462.4 588.0L463.3 589.0L463.3 574.2L466.1 577.1L466.1 562.2L467.0 563.2L467.0 549.2L471.6 553.9L472.5 554.9L472.5 539.1L473.5 540.1L473.5 525.2L479.9 532.6L480.5 533.2L480.5 518.8L500.8 542.8L501.5 543.6L501.5 527.1L512.3 540.9L512.7 541.4L512.7 527.5L513.2 528.0L513.2 514.1L517.8 518.8L518.7 519.8L518.7 504.0L528.0 514.1L528.9 515.1L528.9 500.3L534.4 507.7L534.9 508.2L534.9 493.4L535.3 493.9L535.3 479.0L543.7 488.3L543.7 473.5L558.8 492.0L560.3 493.6L560.3 479.0L562.1 481.0L562.1 466.1L563.1 467.1L563.1 454.6L564.0 455.6L564.0 443.0L589.8 471.7L590.8 472.6L590.8 458.7L596.3 464.3L597.2 465.3L597.2 450.4L599.1 452.4L599.1 439.3L639.7 485.5L640.1 485.9L640.1 471.7L668.4 503.1L669.4 504.2L669.4 491.5L671.2 493.4L671.2 481.3L673.1 483.3L673.1 470.2L674.9 472.2L674.9 459.1L685.1 471.1L686.0 472.1L686.0 461.9L689.7 465.6L690.6 466.6L690.6 457.7L691.6 458.7L691.6 449.9L692.5 450.9L692.5 442.8L693.4 443.8L693.4 435.7L694.3 436.7L694.3 428.6L719.8 459.1L720.5 459.8L720.5 452.7L721.1 453.4L721.1 446.2L723.9 449.2L723.9 437.0L727.6 440.9L727.6 427.7L731.3 431.7L731.3 420.3L734.1 423.3L734.1 411.1L736.8 414.1L736.8 403.7L739.6 406.7L739.6 393.5L740.2 394.2L740.2 387.5L740.9 388.2L740.9 381.5L752.5 395.4L753.5 396.4L753.5 385.2L754.8 386.7L754.8 379.7L756.2 381.2L756.2 374.1L759.0 377.1L759.0 365.8L760.4 367.3L760.4 360.3L761.8 361.8L761.8 354.7L770.1 366.8L771.0 367.7L771.0 355.7L772.2 357.0L772.2 349.7L773.4 351.0L773.4 343.7L785.8 359.4L786.7 360.4L786.7 348.3L789.5 351.2L789.5 339.0L797.8 349.2L799.3 350.8L799.3 338.1L824.6 367.7L825.0 368.2L825.0 360.8L825.5 361.2L825.5 353.8L832.0 364.0L832.4 364.5L832.4 357.1L832.9 357.5L832.9 350.1L844.9 366.8L845.4 367.2L845.4 360.3L845.8 360.8L845.8 353.8L860.2 372.3L860.6 372.7L860.6 365.8L861.0 366.2L861.0 359.4L868.0 369.5L868.9 370.5L868.9 358.4L872.6 364.0L873.3 364.7L873.3 358.0L873.9 358.7L873.9 352.0L898.5 381.5L899.0 382.1L899.0 369.5L910.9 384.3L912.3 385.9L912.3 374.1L916.0 378.1L916.0 366.8L919.7 370.7L919.7 359.4L923.4 363.3L923.4 352.0L929.9 361.2L930.5 361.9L930.5 351.4L931.1 352.0L931.1 341.5L933.4 344.0L933.4 336.9L935.7 339.4L935.7 332.3L939.4 336.3L939.4 324.0L941.7 326.5L941.7 319.8L944.0 322.3L944.0 315.7L945.9 317.6L945.9 311.1L947.7 313.0L947.7 306.4L954.2 313.4L954.2 301.8L967.1 319.4L968.4 320.7L968.4 310.1L969.8 311.6L969.8 304.3L971.2 305.8L971.2 298.4L972.7 299.9L972.7 292.6L992.0 315.7L993.0 316.7L993.0 305.5L997.6 312.0L998.5 313.0L998.5 300.9L1002.2 304.8L1002.2 294.4L1016.1 311.1L1016.4 311.4L1016.4 300.9L1054.9 343.4L1055.8 344.4L1055.8 333.2L1074.3 356.3L1074.9 357.0L1074.9 349.8L1075.6 350.5L1075.6 343.4L1080.7 348.9L1081.6 349.9L1081.6 338.8L1085.3 344.3L1086.5 345.6L1086.5 338.8L1087.7 340.0L1087.7 333.2L1106.2 352.6L1107.0 353.4L1107.0 343.4L1111.2 348.9L1111.6 349.4L1111.6 340.6L1112.1 341.1L1112.1 332.3L1112.5 332.8L1112.5 324.0L1134.3 348.9L1135.0 349.7L1135.0 341.5L1135.8 342.3L1135.8 334.1L1137.3 335.8L1137.3 328.6L1138.9 330.3L1138.9 323.1L1141.7 326.0L1141.7 315.7L1150.0 324.9L1150.4 325.3L1150.4 317.5L1150.7 317.9L1150.7 310.1L1151.1 310.5L1151.1 302.7L1151.5 303.1L1151.5 295.3L1151.8 295.7L1151.8 288.0L1173.1 312.9L1173.4 313.2L1173.4 306.4L1173.7 306.8L1173.7 300.0L1174.0 300.3L1174.0 293.5L1175.9 295.5L1175.9 288.0L1177.7 289.9L1177.7 282.4L1182.3 287.4L1182.3 278.7L1186.9 283.7L1186.9 275.0L1191.2 277.8L1191.8 278.4L1191.8 270.9L1192.3 271.5L1192.3 263.9L1192.9 264.5L1192.9 257.0L1193.4 257.6L1193.4 250.1L1210.0 268.6L1211.0 269.5L1211.0 262.1L1211.0 270.4L1211.0 261.2L1224.2 278.7L1225.1 279.7L1225.1 269.5L1230.6 277.8L1231.1 278.3L1231.1 272.7L1231.6 273.2L1231.6 267.6L1239.9 279.6L1240.8 280.6L1240.8 270.4L1253.7 287.0L1254.2 287.5L1254.2 282.0L1254.7 282.4L1254.7 276.9L1258.7 280.6L1259.3 281.2L1259.3 275.0L1266.7 286.1L1267.6 287.1L1267.6 280.6L1275.0 287.0L1276.8 289.0L1276.8 278.7L1281.4 282.8L1283.3 284.8L1283.3 277.6L1285.1 279.6L1285.1 272.4L1287.0 274.4L1287.0 267.3L1301.8 287.0L1302.2 287.5L1302.2 282.0L1302.7 282.4L1302.7 276.9L1314.7 294.4L1315.2 294.9L1315.2 289.3L1315.6 289.8L1315.6 284.3L1322.1 295.0L1322.6 295.5L1322.6 290.1L1323.0 290.6L1323.0 285.2L1329.5 295.0L1330.4 296.0L1330.4 287.0L1335.9 293.5L1336.9 294.5L1336.9 287.0L1353.5 307.4L1353.8 307.7L1353.8 302.7L1354.0 303.0L1354.0 298.1L1364.6 312.0L1365.1 312.6L1365.1 304.6L1387.3 331.4L1387.9 332.1L1387.9 325.4L1388.6 326.1L1388.6 319.4L1390.4 321.3L1390.4 316.6L1392.3 318.6L1392.3 313.8L1394.1 315.8L1394.1 311.1L1396.0 313.0L1396.0 308.3L1397.8 310.3L1397.8 305.5L1399.7 307.5L1399.7 302.7L1404.3 309.8L1407.1 312.7L1407.1 305.3L1409.8 308.3L1409.8 300.9L1420.9 315.7L1421.8 316.7L1421.8 308.3L1436.6 325.8L1437.6 326.8L1437.6 319.4L1442.2 324.5L1443.1 325.5L1443.1 317.5L1447.7 324.9L1449.6 326.9L1449.6 319.4L1464.3 338.8L1464.8 339.3L1464.8 335.1L1465.3 335.6L1465.3 331.4L1469.9 336.3L1469.9 330.4L1479.7 343.4L1480.6 344.3L1480.6 338.3L1481.5 339.2L1481.5 333.2L1489.4 345.2L1490.0 345.9L1490.0 341.5L1490.7 342.2L1490.7 337.8L1503.3 353.5L1503.7 354.0L1503.7 350.3L1504.2 350.8L1504.2 347.0L1521.4 368.3L1522.0 369.0L1522.0 363.2L1522.7 363.9L1522.7 358.1L1526.3 362.1L1526.3 356.3L1557.2 391.4L1557.9 392.2L1557.9 386.8L1558.7 387.5L1558.7 382.1L1567.0 392.3L1567.5 392.8L1567.5 389.5L1567.9 390.0L1567.9 386.8L1572.5 393.2L1573.5 394.2L1573.5 390.1L1574.4 391.1L1574.4 387.1L1575.3 388.1L1575.3 384.0L1601.2 415.4L1601.5 415.7L1601.5 412.0L1601.8 412.3L1601.8 408.6L1602.1 408.9L1602.1 405.2L1606.7 410.2L1606.7 405.2L1624.3 426.5L1624.9 427.1L1624.9 423.7L1625.5 424.4L1625.5 420.9L1626.1 421.6L1626.1 418.2L1631.6 424.1L1631.6 420.9L1641.8 432.9L1642.4 433.6L1642.4 429.9L1643.0 430.5L1643.0 426.8L1643.7 427.4L1643.7 423.7L1646.0 426.2L1646.0 423.2L1648.3 425.7L1648.3 422.8L1687.1 465.3L1688.0 466.3L1688.0 463.7L1688.9 464.7L1688.9 462.1L1691.7 465.1L1691.7 462.1L1709.2 481.9L1709.7 482.4L1709.7 480.0L1710.2 480.5L1710.2 478.2L1736.9 509.6L1738.2 510.9L1738.2 508.4L1739.4 509.7L1739.4 507.1L1740.6 508.5L1740.6 505.9L1743.4 508.9L1743.4 506.8L1746.2 509.8L1746.2 507.8L1752.7 514.2L1753.6 515.2L1753.6 512.7L1754.5 513.7L1754.5 511.1L1755.4 512.1L1755.4 509.6L1770.5 525.0L1789.9 544.4L1802.8 553.1L1812.0 560.1L1834.2 580.4L1846.2 589.7L1857.3 598.9L1869.3 608.2L1884.1 620.2L1917.4 654.3L1937.7 674.3L1985.7 725.5L2013.4 755.0L2031.9 773.3L2107.8 851.3"/>
<path class="rug" d="M294.6 814.0V889.0M295.8 814.0V889.0M303.6 814.0V889.0M308.1 814.0V889.0M316.4 814.0V889.0M322.9 814.0V889.0M326.7 814.0V889.0M327.9 814.0V889.0M330.4 814.0V889.0M331.6 814.0V889.0M334.8 814.0V889.0M336.0 814.0V889.0M338.5 814.0V889.0M339.7 814.0V889.0M346.9 814.0V889.0M354.3 814.0V889.0M364.8 814.0V889.0M366.0 814.0V889.0M373.3 814.0V889.0M374.2 814.0V889.0M381.2 814.0V889.0M384.9 814.0V889.0M386.1 814.0V889.0M387.3 814.0V889.0M400.5 814.0V889.0M406.6 814.0V889.0M428.2 814.0V889.0M431.9 814.0V889.0M442.3 814.0V889.0M443.5 814.0V889.0M462.4 814.0V889.0M463.3 814.0V889.0M466.1 814.0V889.0M467.0 814.0V889.0M472.5 814.0V889.0M473.5 814.0V889.0M480.5 814.0V889.0M501.5 814.0V889.0M512.1 814.0V889.0M513.3 814.0V889.0M518.7 814.0V889.0M528.9 814.0V889.0M534.3 814.0V889.0M535.5 814.0V889.0M543.7 814.0V889.0M560.3 814.0V889.0M562.1 814.0V889.0M563.1 814.0V889.0M564.0 814.0V889.0M590.8 814.0V889.0M597.2 814.0V889.0M599.1 814.0V889.0M640.1 814.0V889.0M669.4 814.0V889.0M671.2 814.0V889.0M673.1 814.0V889.0M674.9 814.0V889.0M686.0 814.0V889.0M690.6 814.0V889.0M691.6 814.0V889.0M692.5 814.0V889.0M693.4 814.0V889.0M694.3 814.0V889.0M720.5 814.0V889.0M721.1 814.0V889.0M723.9 814.0V889.0M727.6 814.0V889.0M731.3 814.0V889.0M734.1 814.0V889.0M736.8 814.0V889.0M739.6 814.0V889.0M740.2 814.0V889.0M740.9 814.0V889.0M753.5 814.0V889.0M754.8 814.0V889.0M756.2 814.0V889.0M759.0 814.0V889.0M760.4 814.0V889.0M761.8 814.0V889.0M771.0 814.0V889.0M772.2 814.0V889.0M773.4 814.0V889.0M786.7 814.0V889.0M789.5 814.0V889.0M799.3 814.0V889.0M824.4 814.0V889.0M825.6 814.0V889.0M831.8 814.0V889.0M833.0 814.0V889.0M844.8 814.0V889.0M846.0 814.0V889.0M860.0 814.0V889.0M861.2 814.0V889.0M868.9 814.0V889.0M873.3 814.0V889.0M873.9 814.0V889.0M899.0 814.0V889.0M912.3 814.0V889.0M916.0 814.0V889.0M919.7 814.0V889.0M923.4 814.0V889.0M930.5 814.0V889.0M931.1 814.0V889.0M933.4 814.0V889.0M935.7 814.0V889.0M939.4 814.0V889.0M941.7 814.0V889.0M944.0 814.0V889.0M945.9 814.0V889.0M947.7 814.0V889.0M954.2 814.0V889.0M968.4 814.0V889.0M969.8 814.0V889.0M971.2 814.0V889.0M972.7 814.0V889.0M993.0 814.0V889.0M998.5 814.0V889.0M1002.2 814.0V889.0M1016.4 814.0V889.0M1055.8 814.0V889.0M1074.9 814.0V889.0M1075.6 814.0V889.0M1081.6 814.0V889.0M1086.5 814.0V889.0M1087.7 814.0V889.0M1107.0 814.0V889.0M1110.7 814.0V889.0M1111.9 814.0V889.0M1113.1 814.0V889.0M1135.0 814.0V889.0M1135.8 814.0V889.0M1137.3 814.0V889.0M1138.9 814.0V889.0M1141.7 814.0V889.0M1148.5 814.0V889.0M1149.7 814.0V889.0M1150.9 814.0V889.0M1152.1 814.0V889.0M1153.3 814.0V889.0M1172.4 814.0V889.0M1173.6 814.0V889.0M1174.8 814.0V889.0M1175.9 814.0V889.0M1177.7 814.0V889.0M1182.3 814.0V889.0M1186.9 814.0V889.0M1190.5 814.0V889.0M1191.7 814.0V889.0M1192.9 814.0V889.0M1194.1 814.0V889.0M1211.0 814.0V889.0M1211.0 814.0V889.0M1225.1 814.0V889.0M1230.5 814.0V889.0M1231.7 814.0V889.0M1240.8 814.0V889.0M1253.6 814.0V889.0M1254.8 814.0V889.0M1259.3 814.0V889.0M1267.6 814.0V889.0M1276.8 814.0V889.0M1283.3 814.0V889.0M1285.1 814.0V889.0M1287.0 814.0V889.0M1301.6 814.0V889.0M1302.8 814.0V889.0M1314.6 814.0V889.0M1315.8 814.0V889.0M1322.0 814.0V889.0M1323.2 814.0V889.0M1330.4 814.0V889.0M1336.9 814.0V889.0M1353.2 814.0V889.0M1354.4 814.0V889.0M1365.1 814.0V889.0M1387.9 814.0V889.0M1388.6 814.0V889.0M1390.4 814.0V889.0M1392.3 814.0V889.0M1394.1 814.0V889.0M1396.0 814.0V889.0M1397.8 814.0V889.0M1399.7 814.0V889.0M1407.1 814.0V889.0M1409.8 814.0V889.0M1421.8 814.0V889.0M1437.6 814.0V889.0M1443.1 814.0V889.0M1449.6 814.0V889.0M1464.2 814.0V889.0M1465.4 814.0V889.0M1469.9 814.0V889.0M1480.6 814.0V889.0M1481.5 814.0V889.0M1490.0 814.0V889.0M1490.7 814.0V889.0M1503.1 814.0V889.0M1504.3 814.0V889.0M1522.0 814.0V889.0M1522.7 814.0V889.0M1526.3 814.0V889.0M1557.9 814.0V889.0M1558.7 814.0V889.0M1566.9 814.0V889.0M1568.1 814.0V889.0M1573.5 814.0V889.0M1574.4 814.0V889.0M1575.3 814.0V889.0M1600.4 814.0V889.0M1601.6 814.0V889.0M1602.8 814.0V889.0M1606.7 814.0V889.0M1624.0 814.0V889.0M1625.2 814.0V889.0M1626.4 814.0V889.0M1631.6 814.0V889.0M1641.5 814.0V889.0M1642.7 814.0V889.0M1643.9 814.0V889.0M1646.0 814.0V889.0M1648.3 814.0V889.0M1688.0 814.0V889.0M1688.9 814.0V889.0M1691.7 814.0V889.0M1709.1 814.0V889.0M1710.3 814.0V889.0M1738.2 814.0V889.0M1739.4 814.0V889.0M1740.6 814.0V889.0M1743.4 814.0V889.0M1746.2 814.0V889.0M1753.6 814.0V889.0M1754.5 814.0V889.0M1755.4 814.0V889.0M1770.5 814.0V889.0M1789.9 814.0V889.0M1800.4 814.0V889.0M1802.8 814.0V889.0M1812.0 814.0V889.0M1812.8 814.0V889.0M1834.2 814.0V889.0M1837.4 814.0V889.0M1846.2 814.0V889.0M1855.5 814.0V889.0M1857.7 814.0V889.0M1862.9 814.0V889.0M1870.2 814.0V889.0M1883.2 814.0V889.0M1885.4 814.0V889.0M1917.4 814.0V889.0M1937.7 814.0V889.0M1985.3 814.0V889.0M2009.7 814.0V889.0M2014.9 814.0V889.0M2028.0 814.0V889.0M2028.2 814.0V889.0M2032.6 814.0V889.0M2036.3 814.0V889.0M2042.3 814.0V889.0M2044.7 814.0V889.0M2066.6 814.0V889.0M2086.6 814.0V889.0M2091.8 814.0V889.0M2094.9 814.0V889.0M2096.2 814.0V889.0M2097.7 814.0V889.0M2101.0 814.0V889.0M2105.1 814.0V889.0"/>
<text class="lt" x="2289.5" y="155.4">p</text>
<circle cx="2322.4" cy="222.2" r="4.0" fill="#000"/><text class="lg" x="2385.5" y="239.7">0</text><circle cx="2322.4" cy="286.1" r="8.5" fill="#000"/><text class="lg" x="2385.5" y="303.6">3</text><circle cx="2322.4" cy="350.0" r="12.9" fill="#000"/><text class="lg" x="2385.5" y="367.5">6</text><circle cx="2322.4" cy="413.9" r="17.4" fill="#000"/><text class="lg" x="2385.5" y="431.4">9</text><circle cx="2322.4" cy="477.8" r="21.9" fill="#000"/><text class="lg" x="2385.5" y="495.3">12</text>
<text class="lt" x="2289.5" y="684">p</text>
<rect x="2290.8" y="721.1" width="64" height="320" fill="url(#cb)"/>
<path d="M2290.8 1033.0h12.8M2354.8 1033.0h-12.8" stroke="#fff" stroke-width="2.96"/><text class="lg" x="2385.5" y="1050.5">0</text><path d="M2290.8 957.0h12.8M2354.8 957.0h-12.8" stroke="#fff" stroke-width="2.96"/><text class="lg" x="2385.5" y="974.5">3</text><path d="M2290.8 881.1h12.8M2354.8 881.1h-12.8" stroke="#fff" stroke-width="2.96"/><text class="lg" x="2385.5" y="898.6">6</text><path d="M2290.8 805.1h12.8M2354.8 805.1h-12.8" stroke="#fff" stroke-width="2.96"/><text class="lg" x="2385.5" y="822.6">9</text><path d="M2290.8 729.2h12.8M2354.8 729.2h-12.8" stroke="#fff" stroke-width="2.96"/><text class="lg" x="2385.5" y="746.7">12</text>
</g>
<g transform="translate(0,2333.33)">
<text class="t1" x="1198.8" y="84">Liver (TAG group: p &lt; 0.05)</text>
<text class="t2" x="1199.8" y="175.9">Empirical p = 1.3e-03; NES = 1.175</text>
<path class="g" d="M200.0 851.7H2199.5"/><path class="g" d="M200.0 654.7H2199.5"/><path class="g" d="M200.0 457.7H2199.5"/><path class="g" d="M200.0 260.7H2199.5"/><path class="g" d="M291.1 220.0V921.0"/><path class="g" d="M938.7 220.0V921.0"/><path class="g" d="M1586.3 220.0V921.0"/>
<path class="tk" d="M184.7 851.7H200.0"/><text class="ax" text-anchor="end" x="173.5" y="869.2">0.0</text><path class="tk" d="M184.7 654.7H200.0"/><text class="ax" text-anchor="end" x="173.5" y="672.2">0.1</text><path class="tk" d="M184.7 457.7H200.0"/><text class="ax" text-anchor="end" x="173.5" y="475.2">0.2</text><path class="tk" d="M184.7 260.7H200.0"/><text class="ax" text-anchor="end" x="173.5" y="278.2">0.3</text><path class="tk" d="M291.1 921.0V936.3"/><text class="ax" text-anchor="middle" x="291.1" y="985">0</text><path class="tk" d="M938.7 921.0V936.3"/><text class="ax" text-anchor="middle" x="938.7" y="985">5000</text><path class="tk" d="M1586.3 921.0V936.3"/><text class="ax" text-anchor="middle" x="1586.3" y="985">10000</text>
<text class="t2" x="1199.8" y="1055.9">Rank of gene by tissue z-score in ENCODE</text>
<text class="t2" transform="translate(75.5,572.9) rotate(-90)">enrichment score</text>
<path class="rd" d="M200.0 251.7H2199.5"/><path class="rd" d="M200.0 855.7H2199.5"/>
<path d="M200.0 851.7H2199.5" stroke="#000" stroke-width="5.93"/>
<circle cx="290.2" cy="845.7" r="9.2" fill="#57e44f"/><circle cx="292.8" cy="853.0" r="4.0" fill="#0000ff"/><circle cx="293.8" cy="847.7" r="4.0" fill="#0000ff"/><circle cx="293.8" cy="841.2" r="6.0" fill="#766ec5"/><circle cx="294.2" cy="841.7" r="6.5" fill="#7b82b4"/><circle cx="295.1" cy="842.7" r="4.0" fill="#0000ff"/><circle cx="295.1" cy="836.3" r="7.1" fill="#7d98a2"/><circle cx="295.3" cy="836.5" r="6.3" fill="#7979bc"/><circle cx="296.6" cy="838.0" r="6.3" fill="#7a7bbb"/><circle cx="297.9" cy="839.5" r="6.5" fill="#7b81b6"/><circle cx="300.3" cy="842.2" r="8.3" fill="#72c478"/><circle cx="300.6" cy="842.6" r="4.0" fill="#0000ff"/><circle cx="300.6" cy="836.8" r="6.6" fill="#7c85b2"/><circle cx="301.6" cy="837.9" r="6.4" fill="#7b7fb7"/><circle cx="302.8" cy="839.3" r="4.0" fill="#0000ff"/><circle cx="302.8" cy="833.5" r="6.6" fill="#7c85b2"/><circle cx="302.9" cy="833.5" r="4.0" fill="#0000ff"/><circle cx="302.9" cy="827.7" r="6.4" fill="#7b7fb8"/><circle cx="305.3" cy="830.5" r="7.0" fill="#7d92a7"/><circle cx="306.2" cy="831.5" r="4.0" fill="#0000ff"/><circle cx="306.2" cy="825.7" r="6.7" fill="#7c87b0"/><circle cx="306.4" cy="826.0" r="6.2" fill="#7876bf"/><circle cx="307.7" cy="827.4" r="4.0" fill="#0000ff"/><circle cx="307.7" cy="821.6" r="6.9" fill="#7d8faa"/><circle cx="307.7" cy="821.6" r="6.7" fill="#7d8bae"/><circle cx="308.6" cy="822.7" r="4.0" fill="#0000ff"/><circle cx="308.6" cy="816.1" r="6.2" fill="#7876bf"/><circle cx="309.6" cy="817.2" r="4.0" fill="#0000ff"/><circle cx="309.6" cy="810.6" r="7.2" fill="#7d9d9e"/><circle cx="309.6" cy="810.6" r="6.5" fill="#7c83b4"/><circle cx="310.5" cy="811.6" r="4.0" fill="#0000ff"/><circle cx="310.5" cy="805.0" r="6.8" fill="#7d8bad"/><circle cx="311.4" cy="806.1" r="6.8" fill="#7d8dab"/><circle cx="312.7" cy="807.6" r="7.3" fill="#7d9f9b"/><circle cx="313.8" cy="808.8" r="4.0" fill="#0000ff"/><circle cx="313.8" cy="804.3" r="6.3" fill="#7979bc"/><circle cx="313.8" cy="804.3" r="6.0" fill="#766fc4"/><circle cx="314.7" cy="805.4" r="4.0" fill="#0000ff"/><circle cx="314.7" cy="800.9" r="6.3" fill="#7a7bba"/><circle cx="315.7" cy="802.0" r="8.1" fill="#75bd7f"/><circle cx="315.7" cy="802.0" r="4.0" fill="#0000ff"/><circle cx="315.7" cy="795.1" r="6.0" fill="#7670c3"/><circle cx="316.9" cy="796.5" r="6.5" fill="#7c84b4"/><circle cx="318.8" cy="798.6" r="6.1" fill="#7874c0"/><circle cx="320.8" cy="800.9" r="4.0" fill="#0000ff"/><circle cx="320.8" cy="794.0" r="8.1" fill="#76bc80"/><circle cx="321.0" cy="794.2" r="6.3" fill="#7a7cba"/><circle cx="323.6" cy="798.4" r="6.0" fill="#766fc4"/><circle cx="326.2" cy="802.4" r="6.1" fill="#7773c1"/><circle cx="328.4" cy="804.9" r="7.1" fill="#7d98a2"/><circle cx="329.0" cy="805.6" r="4.0" fill="#0000ff"/><circle cx="329.0" cy="800.4" r="6.6" fill="#7c85b3"/><circle cx="336.8" cy="808.9" r="4.0" fill="#0000ff"/><circle cx="336.8" cy="803.3" r="6.5" fill="#7b82b5"/><circle cx="337.0" cy="803.5" r="4.0" fill="#0000ff"/><circle cx="337.0" cy="797.9" r="7.5" fill="#7ca597"/><circle cx="337.6" cy="798.6" r="4.0" fill="#0000ff"/><circle cx="337.6" cy="793.0" r="7.7" fill="#7bac90"/><circle cx="340.5" cy="796.3" r="4.0" fill="#0000ff"/><circle cx="340.5" cy="791.2" r="8.3" fill="#72c478"/><circle cx="341.0" cy="791.7" r="4.0" fill="#0000ff"/><circle cx="341.0" cy="786.5" r="6.1" fill="#7771c2"/><circle cx="346.0" cy="792.3" r="4.0" fill="#0000ff"/><circle cx="346.0" cy="785.4" r="6.5" fill="#7b81b5"/><circle cx="346.3" cy="785.8" r="4.0" fill="#0000ff"/><circle cx="346.3" cy="778.9" r="6.1" fill="#7772c2"/><circle cx="347.9" cy="780.7" r="4.0" fill="#0000ff"/><circle cx="347.9" cy="776.4" r="6.5" fill="#7b81b5"/><circle cx="349.3" cy="778.0" r="4.0" fill="#0000ff"/><circle cx="349.3" cy="773.6" r="6.0" fill="#766ec5"/><circle cx="352.0" cy="775.6" r="4.0" fill="#0000ff"/><circle cx="352.0" cy="770.5" r="8.3" fill="#72c478"/><circle cx="353.0" cy="771.6" r="4.0" fill="#0000ff"/><circle cx="353.0" cy="766.5" r="7.0" fill="#7d93a6"/><circle cx="353.9" cy="767.6" r="4.0" fill="#0000ff"/><circle cx="353.9" cy="762.5" r="6.0" fill="#7670c3"/><circle cx="354.1" cy="762.8" r="4.0" fill="#0000ff"/><circle cx="354.1" cy="757.3" r="6.5" fill="#7c84b4"/><circle cx="357.4" cy="761.1" r="4.0" fill="#0000ff"/><circle cx="357.4" cy="755.7" r="6.8" fill="#7d8bad"/><circle cx="357.9" cy="756.2" r="4.0" fill="#0000ff"/><circle cx="357.9" cy="750.8" r="7.3" fill="#7da09b"/><circle cx="359.1" cy="752.1" r="4.0" fill="#0000ff"/><circle cx="359.1" cy="747.1" r="6.4" fill="#7b7eb8"/><circle cx="359.7" cy="747.8" r="4.0" fill="#0000ff"/><circle cx="359.7" cy="742.8" r="6.2" fill="#7876bf"/><circle cx="360.4" cy="743.5" r="4.0" fill="#0000ff"/><circle cx="361.3" cy="739.6" r="4.0" fill="#0000ff"/><circle cx="361.3" cy="734.8" r="6.1" fill="#7772c2"/><circle cx="361.3" cy="738.5" r="10.0" fill="#00ff00"/><circle cx="362.2" cy="735.9" r="4.0" fill="#0000ff"/><circle cx="362.2" cy="731.1" r="6.5" fill="#7c84b4"/><circle cx="363.1" cy="732.2" r="4.0" fill="#0000ff"/><circle cx="363.1" cy="727.4" r="6.0" fill="#756ec5"/><circle cx="363.7" cy="728.1" r="4.0" fill="#0000ff"/><circle cx="363.7" cy="723.1" r="6.2" fill="#7876bf"/><circle cx="364.4" cy="723.8" r="4.0" fill="#0000ff"/><circle cx="364.4" cy="718.8" r="7.4" fill="#7da398"/><circle cx="365.0" cy="719.5" r="4.0" fill="#0000ff"/><circle cx="365.0" cy="714.5" r="6.3" fill="#7a7cba"/><circle cx="368.1" cy="718.0" r="4.0" fill="#0000ff"/><circle cx="368.1" cy="713.5" r="6.6" fill="#7c84b3"/><circle cx="368.3" cy="713.7" r="4.0" fill="#0000ff"/><circle cx="368.3" cy="709.1" r="6.4" fill="#7b7eb8"/><circle cx="368.5" cy="709.4" r="4.0" fill="#0000ff"/><circle cx="368.5" cy="704.8" r="6.8" fill="#7d8bad"/><circle cx="376.1" cy="711.9" r="4.0" fill="#0000ff"/><circle cx="376.1" cy="707.1" r="6.2" fill="#7876bf"/><circle cx="377.0" cy="708.2" r="4.0" fill="#0000ff"/><circle cx="377.0" cy="703.4" r="6.4" fill="#7b7fb8"/><circle cx="377.9" cy="704.5" r="4.0" fill="#0000ff"/><circle cx="377.9" cy="699.7" r="6.0" fill="#756dc6"/><circle cx="378.0" cy="699.8" r="4.0" fill="#0000ff"/><circle cx="378.0" cy="694.4" r="6.6" fill="#7c84b3"/><circle cx="380.6" cy="697.4" r="4.0" fill="#0000ff"/><circle cx="382.5" cy="694.2" r="11.2" fill="#6dff00"/><circle cx="384.2" cy="696.0" r="4.0" fill="#0000ff"/><circle cx="384.2" cy="691.2" r="6.7" fill="#7d8aae"/><circle cx="384.7" cy="691.8" r="4.0" fill="#0000ff"/><circle cx="384.7" cy="687.0" r="6.0" fill="#756dc6"/><circle cx="385.7" cy="688.1" r="4.0" fill="#0000ff"/><circle cx="385.7" cy="683.2" r="6.7" fill="#7c88b0"/><circle cx="391.5" cy="689.3" r="4.0" fill="#0000ff"/><circle cx="391.5" cy="684.9" r="6.1" fill="#7874c0"/><circle cx="392.1" cy="685.6" r="4.0" fill="#0000ff"/><circle cx="392.1" cy="681.2" r="6.5" fill="#7b82b4"/><circle cx="392.7" cy="681.9" r="4.0" fill="#0000ff"/><circle cx="392.7" cy="677.5" r="6.2" fill="#7978bd"/><circle cx="393.3" cy="678.2" r="4.0" fill="#0000ff"/><circle cx="393.3" cy="673.8" r="6.2" fill="#7978bd"/><circle cx="393.9" cy="674.6" r="4.0" fill="#0000ff"/><circle cx="393.9" cy="670.2" r="6.2" fill="#7876bf"/><circle cx="394.5" cy="670.9" r="4.0" fill="#0000ff"/><circle cx="394.5" cy="666.5" r="6.9" fill="#7d90a9"/><circle cx="396.6" cy="668.9" r="4.0" fill="#0000ff"/><circle cx="396.6" cy="663.1" r="6.2" fill="#7876bf"/><circle cx="397.3" cy="663.8" r="4.0" fill="#0000ff"/><circle cx="397.3" cy="657.9" r="7.0" fill="#7d94a6"/><circle cx="398.7" cy="659.6" r="4.0" fill="#0000ff"/><circle cx="398.7" cy="653.5" r="6.1" fill="#7772c2"/><circle cx="399.2" cy="654.1" r="4.0" fill="#0000ff"/><circle cx="400.3" cy="649.3" r="4.0" fill="#0000ff"/><circle cx="400.3" cy="644.2" r="6.3" fill="#7a7bbb"/><circle cx="400.4" cy="644.3" r="4.0" fill="#0000ff"/><circle cx="400.4" cy="639.2" r="6.1" fill="#7771c2"/><circle cx="401.0" cy="648.0" r="8.9" fill="#63d95f"/><circle cx="402.2" cy="641.3" r="4.0" fill="#0000ff"/><circle cx="402.2" cy="636.2" r="6.6" fill="#7c86b1"/><circle cx="404.2" cy="638.5" r="4.0" fill="#0000ff"/><circle cx="404.2" cy="633.2" r="6.3" fill="#7a7bba"/><circle cx="405.6" cy="634.8" r="4.0" fill="#0000ff"/><circle cx="405.6" cy="629.5" r="6.0" fill="#7670c3"/><circle cx="406.3" cy="630.3" r="4.0" fill="#0000ff"/><circle cx="406.3" cy="624.5" r="7.1" fill="#7d98a2"/><circle cx="408.6" cy="627.1" r="4.0" fill="#0000ff"/><circle cx="409.3" cy="622.1" r="11.4" fill="#7aff00"/><circle cx="410.6" cy="623.6" r="4.0" fill="#0000ff"/><circle cx="410.6" cy="619.1" r="6.0" fill="#7670c3"/><circle cx="411.7" cy="620.3" r="4.0" fill="#0000ff"/><circle cx="411.7" cy="615.9" r="7.0" fill="#7d93a6"/><circle cx="412.3" cy="616.6" r="4.0" fill="#0000ff"/><circle cx="412.3" cy="612.1" r="6.2" fill="#7977be"/><circle cx="413.9" cy="603.6" r="10.0" fill="#00ff00"/><circle cx="416.7" cy="617.1" r="4.0" fill="#0000ff"/><circle cx="416.7" cy="614.7" r="6.3" fill="#7a7abb"/><circle cx="417.0" cy="615.1" r="4.0" fill="#0000ff"/><circle cx="417.0" cy="610.7" r="7.6" fill="#7ca993"/><circle cx="417.3" cy="611.1" r="4.0" fill="#0000ff"/><circle cx="417.3" cy="606.7" r="5.9" fill="#756cc6"/><circle cx="417.6" cy="607.1" r="4.0" fill="#0000ff"/><circle cx="420.8" cy="606.4" r="4.0" fill="#0000ff"/><circle cx="420.8" cy="601.7" r="6.1" fill="#7773c1"/><circle cx="424.5" cy="605.9" r="4.0" fill="#0000ff"/><circle cx="424.5" cy="601.2" r="7.1" fill="#7d98a2"/><circle cx="424.7" cy="601.4" r="4.0" fill="#0000ff"/><circle cx="424.7" cy="596.8" r="6.4" fill="#7b7fb8"/><circle cx="429.1" cy="604.2" r="4.0" fill="#0000ff"/><circle cx="429.1" cy="600.5" r="6.0" fill="#766ec5"/><circle cx="429.7" cy="601.3" r="4.0" fill="#0000ff"/><circle cx="429.7" cy="597.6" r="6.2" fill="#7875bf"/><circle cx="440.0" cy="609.4" r="4.0" fill="#0000ff"/><circle cx="440.0" cy="604.0" r="6.7" fill="#7d89af"/><circle cx="443.1" cy="607.7" r="4.0" fill="#0000ff"/><circle cx="443.5" cy="600.9" r="8.9" fill="#63d95f"/><circle cx="443.6" cy="602.8" r="4.0" fill="#0000ff"/><circle cx="443.6" cy="599.2" r="6.8" fill="#7d8dab"/><circle cx="446.2" cy="602.2" r="4.0" fill="#0000ff"/><circle cx="446.2" cy="598.6" r="6.2" fill="#7876bf"/><circle cx="451.4" cy="585.6" r="11.2" fill="#6dff00"/><circle cx="453.0" cy="610.4" r="4.0" fill="#0000ff"/><circle cx="453.0" cy="605.8" r="6.4" fill="#7b7fb8"/><circle cx="453.3" cy="606.1" r="4.0" fill="#0000ff"/><circle cx="453.3" cy="601.4" r="7.8" fill="#7ab08c"/><circle cx="453.6" cy="601.8" r="4.0" fill="#0000ff"/><circle cx="453.6" cy="597.1" r="6.2" fill="#7977be"/><circle cx="453.9" cy="597.4" r="4.0" fill="#0000ff"/><circle cx="453.9" cy="592.7" r="7.2" fill="#7d9c9e"/><circle cx="454.2" cy="593.1" r="4.0" fill="#0000ff"/><circle cx="454.2" cy="588.4" r="6.9" fill="#7d91a8"/><circle cx="455.3" cy="589.6" r="4.0" fill="#0000ff"/><circle cx="457.1" cy="587.5" r="4.0" fill="#0000ff"/><circle cx="457.1" cy="583.2" r="7.6" fill="#7caa92"/><circle cx="458.7" cy="585.0" r="4.0" fill="#0000ff"/><circle cx="458.7" cy="580.8" r="7.1" fill="#7d96a4"/><circle cx="460.3" cy="582.6" r="4.0" fill="#0000ff"/><circle cx="460.3" cy="577.9" r="6.6" fill="#7c85b3"/><circle cx="461.0" cy="578.6" r="4.0" fill="#0000ff"/><circle cx="461.0" cy="573.9" r="6.0" fill="#756ec5"/><circle cx="461.6" cy="574.6" r="4.0" fill="#0000ff"/><circle cx="461.6" cy="570.8" r="11.4" fill="#7aff00"/><circle cx="464.3" cy="573.0" r="4.0" fill="#0000ff"/><circle cx="464.3" cy="568.9" r="6.9" fill="#7d91a8"/><circle cx="464.6" cy="569.3" r="4.0" fill="#0000ff"/><circle cx="464.6" cy="565.1" r="6.0" fill="#756ec5"/><circle cx="468.4" cy="569.4" r="4.0" fill="#0000ff"/><circle cx="468.4" cy="565.2" r="7.2" fill="#7d9b9f"/><circle cx="468.7" cy="565.5" r="4.0" fill="#0000ff"/><circle cx="468.7" cy="561.2" r="6.4" fill="#7a7db9"/><circle cx="473.4" cy="566.6" r="4.0" fill="#0000ff"/><circle cx="473.4" cy="562.4" r="6.2" fill="#7876bf"/><circle cx="474.9" cy="564.1" r="4.0" fill="#0000ff"/><circle cx="474.9" cy="560.2" r="6.1" fill="#7772c2"/><circle cx="475.7" cy="561.1" r="4.0" fill="#0000ff"/><circle cx="475.7" cy="557.3" r="6.0" fill="#7670c3"/><circle cx="476.0" cy="557.5" r="4.0" fill="#0000ff"/><circle cx="476.0" cy="553.6" r="6.8" fill="#7d8bad"/><circle cx="477.6" cy="555.6" r="4.0" fill="#0000ff"/><circle cx="477.6" cy="551.6" r="6.5" fill="#7c83b4"/><circle cx="478.1" cy="552.2" r="4.0" fill="#0000ff"/><circle cx="478.1" cy="548.2" r="6.2" fill="#7978bd"/><circle cx="479.0" cy="549.3" r="4.0" fill="#0000ff"/><circle cx="479.0" cy="545.4" r="6.6" fill="#7c84b3"/><circle cx="482.5" cy="549.4" r="4.0" fill="#0000ff"/><circle cx="482.5" cy="545.9" r="6.2" fill="#7978bd"/><circle cx="483.1" cy="546.6" r="4.0" fill="#0000ff"/><circle cx="483.1" cy="543.1" r="6.7" fill="#7d8aae"/><circle cx="483.7" cy="543.8" r="4.0" fill="#0000ff"/><circle cx="483.7" cy="540.4" r="6.7" fill="#7d8aae"/><circle cx="485.1" cy="541.9" r="4.0" fill="#0000ff"/><circle cx="485.1" cy="537.3" r="6.0" fill="#766ec5"/><circle cx="486.7" cy="539.2" r="4.0" fill="#0000ff"/><circle cx="486.7" cy="534.6" r="6.3" fill="#7a7abb"/><circle cx="487.6" cy="535.6" r="4.0" fill="#0000ff"/><circle cx="487.6" cy="531.0" r="7.7" fill="#7bae8d"/><circle cx="491.0" cy="534.9" r="4.0" fill="#0000ff"/><circle cx="491.0" cy="530.6" r="6.3" fill="#7a7cba"/><circle cx="494.4" cy="534.5" r="4.0" fill="#0000ff"/><circle cx="494.4" cy="530.2" r="7.0" fill="#7d95a5"/><circle cx="495.1" cy="531.0" r="4.0" fill="#0000ff"/><circle cx="495.1" cy="526.7" r="7.4" fill="#7da19a"/><circle cx="499.9" cy="532.2" r="4.0" fill="#0000ff"/><circle cx="499.9" cy="528.6" r="6.0" fill="#766fc4"/><circle cx="500.7" cy="529.5" r="4.0" fill="#0000ff"/><circle cx="500.7" cy="526.0" r="5.9" fill="#756cc6"/><circle cx="501.2" cy="526.5" r="4.0" fill="#0000ff"/><circle cx="501.2" cy="523.0" r="6.9" fill="#7d91a8"/><circle cx="503.7" cy="525.9" r="4.0" fill="#0000ff"/><circle cx="503.7" cy="522.6" r="7.3" fill="#7d9f9b"/><circle cx="503.8" cy="522.6" r="4.0" fill="#0000ff"/><circle cx="503.8" cy="519.3" r="6.0" fill="#756dc6"/><circle cx="518.4" cy="537.2" r="4.0" fill="#0000ff"/><circle cx="518.4" cy="533.3" r="7.1" fill="#7d98a2"/><circle cx="520.4" cy="535.6" r="4.0" fill="#0000ff"/><circle cx="520.4" cy="531.8" r="6.5" fill="#7b82b5"/><circle cx="520.7" cy="527.1" r="8.5" fill="#6fc972"/><circle cx="521.0" cy="532.5" r="4.0" fill="#0000ff"/><circle cx="529.0" cy="537.7" r="4.0" fill="#0000ff"/><circle cx="529.0" cy="533.9" r="6.4" fill="#7b7eb8"/><circle cx="529.9" cy="534.9" r="4.0" fill="#0000ff"/><circle cx="529.9" cy="530.5" r="6.0" fill="#766fc4"/><circle cx="530.8" cy="531.6" r="4.0" fill="#0000ff"/><circle cx="530.8" cy="527.1" r="7.7" fill="#7bae8e"/><circle cx="531.8" cy="528.2" r="4.0" fill="#0000ff"/><circle cx="531.8" cy="523.7" r="6.2" fill="#7876be"/><circle cx="533.8" cy="526.0" r="4.0" fill="#0000ff"/><circle cx="533.8" cy="522.7" r="6.1" fill="#7772c2"/><circle cx="538.7" cy="528.2" r="4.0" fill="#0000ff"/><circle cx="538.7" cy="524.9" r="6.6" fill="#7c84b3"/><circle cx="542.5" cy="529.2" r="4.0" fill="#0000ff"/><circle cx="542.5" cy="526.0" r="6.3" fill="#7979bc"/><circle cx="542.6" cy="526.2" r="4.0" fill="#0000ff"/><circle cx="542.6" cy="522.9" r="6.3" fill="#7a7abb"/><circle cx="546.9" cy="527.8" r="4.0" fill="#0000ff"/><circle cx="546.9" cy="524.3" r="6.4" fill="#7a7db9"/><circle cx="547.2" cy="524.7" r="4.0" fill="#0000ff"/><circle cx="547.2" cy="521.3" r="6.3" fill="#797abc"/><circle cx="547.5" cy="521.6" r="4.0" fill="#0000ff"/><circle cx="547.5" cy="518.2" r="6.1" fill="#7771c2"/><circle cx="550.6" cy="521.8" r="4.0" fill="#0000ff"/><circle cx="550.6" cy="517.3" r="6.4" fill="#7b7fb8"/><circle cx="551.0" cy="517.7" r="4.0" fill="#0000ff"/><circle cx="551.0" cy="513.2" r="6.6" fill="#7c86b2"/><circle cx="552.6" cy="515.1" r="4.0" fill="#0000ff"/><circle cx="552.6" cy="511.8" r="7.5" fill="#7ca894"/><circle cx="552.9" cy="512.1" r="4.0" fill="#0000ff"/><circle cx="552.9" cy="508.7" r="6.3" fill="#7a7bbb"/><circle cx="556.2" cy="512.5" r="4.0" fill="#0000ff"/><circle cx="556.2" cy="509.2" r="6.1" fill="#7772c2"/><circle cx="558.3" cy="511.6" r="4.0" fill="#0000ff"/><circle cx="558.3" cy="508.0" r="6.1" fill="#7772c2"/><circle cx="559.0" cy="508.8" r="4.0" fill="#0000ff"/><circle cx="559.0" cy="505.3" r="6.2" fill="#7876bf"/><circle cx="559.7" cy="506.0" r="4.0" fill="#0000ff"/><circle cx="559.7" cy="502.5" r="6.7" fill="#7d89af"/><circle cx="560.4" cy="503.3" r="4.0" fill="#0000ff"/><circle cx="560.4" cy="499.7" r="6.2" fill="#7875bf"/><circle cx="561.6" cy="501.1" r="4.0" fill="#0000ff"/><circle cx="561.6" cy="497.5" r="6.1" fill="#7773c1"/><circle cx="562.3" cy="498.3" r="4.0" fill="#0000ff"/><circle cx="562.3" cy="494.6" r="6.4" fill="#7a7cb9"/><circle cx="563.1" cy="495.5" r="4.0" fill="#0000ff"/><circle cx="563.1" cy="491.9" r="6.1" fill="#7771c2"/><circle cx="564.3" cy="493.3" r="4.0" fill="#0000ff"/><circle cx="564.3" cy="489.7" r="6.2" fill="#7876be"/><circle cx="570.6" cy="496.8" r="4.0" fill="#0000ff"/><circle cx="570.6" cy="494.2" r="6.0" fill="#7670c3"/><circle cx="576.1" cy="500.5" r="4.0" fill="#0000ff"/><circle cx="576.1" cy="496.9" r="6.4" fill="#7a7cb9"/><circle cx="576.8" cy="497.7" r="4.0" fill="#0000ff"/><circle cx="576.8" cy="494.4" r="6.3" fill="#7a7cba"/><circle cx="577.5" cy="495.2" r="4.0" fill="#0000ff"/><circle cx="577.5" cy="491.9" r="7.1" fill="#7d96a4"/><circle cx="578.2" cy="492.7" r="4.0" fill="#0000ff"/><circle cx="578.2" cy="489.3" r="6.4" fill="#7a7db9"/><circle cx="578.9" cy="490.1" r="4.0" fill="#0000ff"/><circle cx="578.9" cy="486.8" r="7.2" fill="#7d9b9f"/><circle cx="579.2" cy="482.2" r="9.2" fill="#57e44f"/><circle cx="580.6" cy="488.8" r="4.0" fill="#0000ff"/><circle cx="580.6" cy="485.5" r="6.1" fill="#7773c1"/><circle cx="581.6" cy="486.6" r="4.0" fill="#0000ff"/><circle cx="582.4" cy="484.3" r="4.0" fill="#0000ff"/><circle cx="582.4" cy="481.1" r="8.0" fill="#77b983"/><circle cx="587.0" cy="484.8" r="4.0" fill="#0000ff"/><circle cx="587.0" cy="481.5" r="6.1" fill="#7773c1"/><circle cx="587.7" cy="482.3" r="4.0" fill="#0000ff"/><circle cx="587.7" cy="478.9" r="6.1" fill="#7874c0"/><circle cx="588.3" cy="479.7" r="4.0" fill="#0000ff"/><circle cx="588.3" cy="476.4" r="6.7" fill="#7d8aae"/><circle cx="589.0" cy="477.2" r="4.0" fill="#0000ff"/><circle cx="589.0" cy="473.8" r="7.4" fill="#7da497"/><circle cx="603.4" cy="492.1" r="4.0" fill="#0000ff"/><circle cx="603.4" cy="487.7" r="7.2" fill="#7d9d9e"/><circle cx="604.7" cy="489.3" r="4.0" fill="#0000ff"/><circle cx="604.7" cy="484.9" r="6.3" fill="#7a7abb"/><circle cx="605.7" cy="486.0" r="4.0" fill="#0000ff"/><circle cx="605.7" cy="482.5" r="6.0" fill="#766fc4"/><circle cx="606.6" cy="483.5" r="4.0" fill="#0000ff"/><circle cx="606.6" cy="480.0" r="7.1" fill="#7d98a2"/><circle cx="607.5" cy="481.1" r="4.0" fill="#0000ff"/><circle cx="607.5" cy="477.5" r="6.2" fill="#7977be"/><circle cx="607.5" cy="477.6" r="4.0" fill="#0000ff"/><circle cx="607.5" cy="474.2" r="6.3" fill="#7a7bbb"/><circle cx="609.4" cy="476.3" r="4.0" fill="#0000ff"/><circle cx="609.4" cy="473.0" r="6.1" fill="#7772c2"/><circle cx="611.3" cy="475.1" r="4.0" fill="#0000ff"/><circle cx="611.3" cy="471.8" r="7.9" fill="#78b786"/><circle cx="618.6" cy="480.2" r="4.0" fill="#0000ff"/><circle cx="618.6" cy="475.7" r="6.4" fill="#7b80b7"/><circle cx="619.1" cy="476.2" r="4.0" fill="#0000ff"/><circle cx="619.1" cy="472.7" r="6.1" fill="#7874c0"/><circle cx="619.5" cy="473.2" r="4.0" fill="#0000ff"/><circle cx="619.5" cy="469.7" r="6.0" fill="#766fc4"/><circle cx="620.0" cy="470.2" r="4.0" fill="#0000ff"/><circle cx="620.0" cy="466.7" r="7.5" fill="#7ca696"/><circle cx="620.4" cy="467.2" r="4.0" fill="#0000ff"/><circle cx="620.4" cy="462.8" r="10.0" fill="#00ff00"/><circle cx="625.3" cy="469.3" r="4.0" fill="#0000ff"/><circle cx="625.3" cy="465.6" r="6.2" fill="#7875bf"/><circle cx="625.4" cy="465.7" r="4.0" fill="#0000ff"/><circle cx="625.4" cy="462.0" r="6.6" fill="#7c86b1"/><circle cx="627.9" cy="464.8" r="4.0" fill="#0000ff"/><circle cx="627.9" cy="461.7" r="6.0" fill="#766fc4"/><circle cx="628.9" cy="462.9" r="4.0" fill="#0000ff"/><circle cx="628.9" cy="459.8" r="6.2" fill="#7977be"/><circle cx="629.4" cy="460.4" r="4.0" fill="#0000ff"/><circle cx="629.4" cy="457.3" r="6.7" fill="#7c88b0"/><circle cx="629.7" cy="457.7" r="4.0" fill="#0000ff"/><circle cx="629.7" cy="454.6" r="6.1" fill="#7772c2"/><circle cx="630.5" cy="455.5" r="4.0" fill="#0000ff"/><circle cx="630.5" cy="452.4" r="6.6" fill="#7c85b3"/><circle cx="635.2" cy="457.9" r="4.0" fill="#0000ff"/><circle cx="635.2" cy="453.5" r="7.4" fill="#7da299"/><circle cx="635.9" cy="454.3" r="4.0" fill="#0000ff"/><circle cx="635.9" cy="451.0" r="6.5" fill="#7c83b4"/><circle cx="636.0" cy="451.1" r="4.0" fill="#0000ff"/><circle cx="636.0" cy="447.8" r="6.6" fill="#7c86b2"/><circle cx="637.1" cy="449.0" r="4.0" fill="#0000ff"/><circle cx="637.1" cy="445.7" r="6.2" fill="#7876bf"/><circle cx="639.2" cy="448.2" r="4.0" fill="#0000ff"/><circle cx="639.2" cy="444.9" r="6.0" fill="#766ec5"/><circle cx="640.4" cy="446.2" r="4.0" fill="#0000ff"/><circle cx="640.8" cy="442.4" r="8.5" fill="#6fc972"/><circle cx="641.2" cy="443.9" r="4.0" fill="#0000ff"/><circle cx="641.2" cy="440.8" r="6.4" fill="#7b7eb8"/><circle cx="643.5" cy="443.4" r="4.0" fill="#0000ff"/><circle cx="643.5" cy="440.4" r="6.9" fill="#7d90a9"/><circle cx="644.4" cy="441.5" r="4.0" fill="#0000ff"/><circle cx="644.4" cy="438.5" r="6.2" fill="#7977be"/><circle cx="644.7" cy="438.8" r="4.0" fill="#0000ff"/><circle cx="644.7" cy="435.8" r="6.4" fill="#7b80b7"/><circle cx="648.3" cy="439.9" r="4.0" fill="#0000ff"/><circle cx="648.3" cy="436.9" r="6.2" fill="#7977be"/><circle cx="649.6" cy="438.4" r="4.0" fill="#0000ff"/><circle cx="649.6" cy="435.4" r="6.0" fill="#766fc4"/><circle cx="651.4" cy="437.4" r="4.0" fill="#0000ff"/><circle cx="651.4" cy="433.8" r="6.1" fill="#7772c2"/><circle cx="651.4" cy="433.9" r="4.0" fill="#0000ff"/><circle cx="651.4" cy="430.2" r="6.3" fill="#797abc"/><circle cx="654.3" cy="433.5" r="4.0" fill="#0000ff"/><circle cx="654.3" cy="429.9" r="7.0" fill="#7d96a4"/><circle cx="654.5" cy="430.1" r="4.0" fill="#0000ff"/><circle cx="654.5" cy="426.5" r="6.5" fill="#7b82b4"/><circle cx="656.4" cy="428.7" r="4.0" fill="#0000ff"/><circle cx="656.4" cy="426.0" r="6.4" fill="#7b7fb7"/><circle cx="657.4" cy="427.1" r="4.0" fill="#0000ff"/><circle cx="657.4" cy="424.5" r="6.1" fill="#7772c2"/><circle cx="670.3" cy="439.3" r="4.0" fill="#0000ff"/><circle cx="670.3" cy="435.1" r="6.9" fill="#7d91a8"/><circle cx="671.7" cy="436.7" r="4.0" fill="#0000ff"/><circle cx="671.7" cy="433.6" r="6.5" fill="#7b82b5"/><circle cx="672.4" cy="434.3" r="4.0" fill="#0000ff"/><circle cx="672.4" cy="431.3" r="8.3" fill="#72c478"/><circle cx="673.3" cy="432.3" r="4.0" fill="#0000ff"/><circle cx="673.3" cy="429.3" r="6.2" fill="#7875bf"/><circle cx="673.6" cy="429.6" r="4.0" fill="#0000ff"/><circle cx="673.6" cy="426.6" r="6.4" fill="#7a7db9"/><circle cx="673.8" cy="426.8" r="4.0" fill="#0000ff"/><circle cx="673.8" cy="423.8" r="6.8" fill="#7d8cad"/><circle cx="674.9" cy="425.0" r="4.0" fill="#0000ff"/><circle cx="674.9" cy="422.0" r="6.4" fill="#7b7fb7"/><circle cx="676.1" cy="423.4" r="4.0" fill="#0000ff"/><circle cx="676.1" cy="420.3" r="6.4" fill="#7a7db9"/><circle cx="676.3" cy="420.5" r="4.0" fill="#0000ff"/><circle cx="676.3" cy="417.5" r="6.3" fill="#7a7bba"/><circle cx="676.4" cy="417.6" r="4.0" fill="#0000ff"/><circle cx="676.4" cy="414.6" r="8.0" fill="#77b983"/><circle cx="677.1" cy="415.3" r="4.0" fill="#0000ff"/><circle cx="677.1" cy="412.3" r="6.0" fill="#7670c3"/><circle cx="677.6" cy="412.9" r="4.0" fill="#0000ff"/><circle cx="678.6" cy="410.1" r="10.0" fill="#00ff00"/><circle cx="679.2" cy="411.7" r="4.0" fill="#0000ff"/><circle cx="679.2" cy="408.9" r="7.7" fill="#7bac8f"/><circle cx="680.4" cy="410.2" r="4.0" fill="#0000ff"/><circle cx="680.4" cy="407.4" r="7.3" fill="#7d9e9d"/><circle cx="681.3" cy="408.5" r="4.0" fill="#0000ff"/><circle cx="681.3" cy="405.7" r="6.0" fill="#7670c3"/><circle cx="682.6" cy="407.2" r="4.0" fill="#0000ff"/><circle cx="682.6" cy="404.4" r="6.5" fill="#7c83b4"/><circle cx="692.5" cy="415.7" r="4.0" fill="#0000ff"/><circle cx="692.5" cy="413.8" r="6.8" fill="#7d8bad"/><circle cx="693.4" cy="414.9" r="4.0" fill="#0000ff"/><circle cx="693.4" cy="411.3" r="6.2" fill="#7977be"/><circle cx="694.3" cy="412.4" r="4.0" fill="#0000ff"/><circle cx="694.3" cy="408.9" r="7.7" fill="#7bad8f"/><circle cx="695.3" cy="409.9" r="4.0" fill="#0000ff"/><circle cx="695.3" cy="406.4" r="6.3" fill="#7a7bbb"/><circle cx="695.5" cy="406.7" r="4.0" fill="#0000ff"/><circle cx="695.5" cy="403.3" r="6.0" fill="#766fc4"/><circle cx="695.9" cy="403.8" r="4.0" fill="#0000ff"/><circle cx="695.9" cy="400.4" r="6.1" fill="#7771c2"/><circle cx="698.0" cy="402.8" r="4.0" fill="#0000ff"/><circle cx="698.0" cy="399.5" r="6.7" fill="#7d8aae"/><circle cx="705.4" cy="408.0" r="4.0" fill="#0000ff"/><circle cx="705.4" cy="406.4" r="6.3" fill="#7a7abb"/><circle cx="706.0" cy="407.1" r="4.0" fill="#0000ff"/><circle cx="706.0" cy="404.0" r="6.2" fill="#7876bf"/><circle cx="706.5" cy="404.7" r="4.0" fill="#0000ff"/><circle cx="706.5" cy="401.6" r="6.9" fill="#7d8faa"/><circle cx="707.1" cy="402.3" r="4.0" fill="#0000ff"/><circle cx="707.1" cy="399.2" r="6.1" fill="#7772c2"/><circle cx="707.3" cy="392.6" r="9.7" fill="#39f431"/><circle cx="707.6" cy="399.8" r="4.0" fill="#0000ff"/><circle cx="707.6" cy="396.8" r="6.8" fill="#7d8bad"/><circle cx="708.2" cy="397.4" r="4.0" fill="#0000ff"/><circle cx="709.4" cy="395.8" r="4.0" fill="#0000ff"/><circle cx="709.4" cy="393.6" r="5.9" fill="#756cc6"/><circle cx="711.5" cy="395.9" r="4.0" fill="#0000ff"/><circle cx="711.5" cy="393.7" r="6.9" fill="#7d91a8"/><circle cx="714.5" cy="397.1" r="4.0" fill="#0000ff"/><circle cx="714.5" cy="393.9" r="6.1" fill="#7771c2"/><circle cx="714.5" cy="394.0" r="4.0" fill="#0000ff"/><circle cx="714.5" cy="390.8" r="6.1" fill="#7771c2"/><circle cx="715.5" cy="391.9" r="4.0" fill="#0000ff"/><circle cx="715.5" cy="388.8" r="6.0" fill="#766fc4"/><circle cx="717.7" cy="391.3" r="4.0" fill="#0000ff"/><circle cx="717.7" cy="388.5" r="6.7" fill="#7d8aae"/><circle cx="717.9" cy="388.8" r="4.0" fill="#0000ff"/><circle cx="717.9" cy="386.0" r="6.3" fill="#7979bc"/><circle cx="719.8" cy="388.2" r="4.0" fill="#0000ff"/><circle cx="719.8" cy="385.5" r="6.0" fill="#756dc6"/><circle cx="720.0" cy="385.7" r="4.0" fill="#0000ff"/><circle cx="720.0" cy="383.0" r="6.1" fill="#7773c1"/><circle cx="720.3" cy="383.2" r="4.0" fill="#0000ff"/><circle cx="720.3" cy="380.5" r="6.4" fill="#7a7cb9"/><circle cx="723.8" cy="384.5" r="4.0" fill="#0000ff"/><circle cx="723.8" cy="381.5" r="6.0" fill="#756ec5"/><circle cx="725.0" cy="382.9" r="4.0" fill="#0000ff"/><circle cx="725.0" cy="379.8" r="6.1" fill="#7874c0"/><circle cx="726.5" cy="381.6" r="4.0" fill="#0000ff"/><circle cx="726.5" cy="378.6" r="6.3" fill="#7a7cba"/><circle cx="730.3" cy="382.8" r="4.0" fill="#0000ff"/><circle cx="730.3" cy="379.9" r="7.0" fill="#7d95a5"/><circle cx="730.4" cy="380.0" r="4.0" fill="#0000ff"/><circle cx="730.4" cy="377.1" r="6.2" fill="#7977be"/><circle cx="730.6" cy="377.4" r="4.0" fill="#0000ff"/><circle cx="730.6" cy="374.5" r="6.7" fill="#7d88af"/><circle cx="743.4" cy="390.3" r="4.0" fill="#0000ff"/><circle cx="743.4" cy="387.4" r="6.5" fill="#7b82b4"/><circle cx="743.4" cy="381.5" r="8.5" fill="#6fc972"/><circle cx="744.3" cy="388.5" r="4.0" fill="#0000ff"/><circle cx="744.3" cy="385.6" r="6.0" fill="#756dc6"/><circle cx="745.3" cy="386.6" r="4.0" fill="#0000ff"/><circle cx="753.3" cy="393.8" r="4.0" fill="#0000ff"/><circle cx="753.3" cy="391.1" r="6.0" fill="#756ec5"/><circle cx="754.0" cy="391.9" r="4.0" fill="#0000ff"/><circle cx="754.0" cy="389.3" r="7.4" fill="#7da497"/><circle cx="754.7" cy="390.1" r="4.0" fill="#0000ff"/><circle cx="754.7" cy="387.4" r="8.3" fill="#73c379"/><circle cx="755.4" cy="388.2" r="4.0" fill="#0000ff"/><circle cx="755.4" cy="385.6" r="7.0" fill="#7d94a6"/><circle cx="763.2" cy="394.3" r="4.0" fill="#0000ff"/><circle cx="763.2" cy="391.5" r="7.8" fill="#7ab08c"/><circle cx="763.6" cy="391.9" r="4.0" fill="#0000ff"/><circle cx="763.6" cy="389.1" r="6.2" fill="#7876bf"/><circle cx="763.9" cy="389.5" r="4.0" fill="#0000ff"/><circle cx="763.9" cy="386.7" r="7.8" fill="#7ab28a"/><circle cx="764.3" cy="387.1" r="4.0" fill="#0000ff"/><circle cx="764.3" cy="384.3" r="6.2" fill="#7875bf"/><circle cx="764.7" cy="384.7" r="4.0" fill="#0000ff"/><circle cx="764.7" cy="381.9" r="6.0" fill="#766fc4"/><circle cx="765.8" cy="383.2" r="4.0" fill="#0000ff"/><circle cx="765.8" cy="380.4" r="6.8" fill="#7d8dab"/><circle cx="766.8" cy="381.6" r="4.0" fill="#0000ff"/><circle cx="766.8" cy="378.8" r="7.1" fill="#7d98a2"/><circle cx="769.1" cy="381.4" r="4.0" fill="#0000ff"/><circle cx="769.1" cy="378.6" r="7.6" fill="#7caa91"/><circle cx="770.7" cy="380.4" r="4.0" fill="#0000ff"/><circle cx="770.7" cy="377.7" r="6.3" fill="#797abc"/><circle cx="772.2" cy="379.4" r="4.0" fill="#0000ff"/><circle cx="772.2" cy="376.9" r="6.5" fill="#7c83b4"/><circle cx="772.9" cy="377.6" r="4.0" fill="#0000ff"/><circle cx="772.9" cy="375.0" r="6.2" fill="#7978bd"/><circle cx="774.2" cy="376.6" r="4.0" fill="#0000ff"/><circle cx="774.2" cy="374.0" r="6.0" fill="#7670c3"/><circle cx="775.8" cy="375.8" r="4.0" fill="#0000ff"/><circle cx="775.8" cy="373.2" r="6.0" fill="#756dc6"/><circle cx="776.2" cy="373.6" r="4.0" fill="#0000ff"/><circle cx="777.6" cy="371.2" r="8.5" fill="#6fc972"/><circle cx="787.2" cy="384.1" r="4.0" fill="#0000ff"/><circle cx="787.2" cy="381.1" r="7.3" fill="#7d9e9d"/><circle cx="787.7" cy="381.7" r="4.0" fill="#0000ff"/><circle cx="787.7" cy="378.6" r="7.4" fill="#7da398"/><circle cx="789.2" cy="380.3" r="4.0" fill="#0000ff"/><circle cx="789.2" cy="377.3" r="6.2" fill="#7977be"/><circle cx="789.9" cy="378.1" r="4.0" fill="#0000ff"/><circle cx="789.9" cy="375.0" r="6.0" fill="#766ec5"/><circle cx="790.1" cy="375.2" r="4.0" fill="#0000ff"/><circle cx="790.1" cy="372.1" r="8.0" fill="#78b785"/><circle cx="791.0" cy="373.2" r="4.0" fill="#0000ff"/><circle cx="791.0" cy="370.4" r="6.1" fill="#7773c1"/><circle cx="791.1" cy="370.6" r="4.0" fill="#0000ff"/><circle cx="791.1" cy="367.9" r="6.0" fill="#7670c3"/><circle cx="793.7" cy="370.8" r="4.0" fill="#0000ff"/><circle cx="793.7" cy="368.0" r="6.5" fill="#7b82b5"/><circle cx="794.1" cy="368.5" r="4.0" fill="#0000ff"/><circle cx="794.1" cy="365.8" r="6.1" fill="#7773c1"/><circle cx="796.5" cy="368.6" r="4.0" fill="#0000ff"/><circle cx="796.5" cy="365.7" r="6.1" fill="#7773c1"/><circle cx="797.0" cy="366.2" r="4.0" fill="#0000ff"/><circle cx="797.0" cy="363.4" r="6.3" fill="#7a7abb"/><circle cx="797.5" cy="363.9" r="4.0" fill="#0000ff"/><circle cx="797.5" cy="361.1" r="6.5" fill="#7c83b4"/><circle cx="797.9" cy="361.6" r="4.0" fill="#0000ff"/><circle cx="797.9" cy="358.8" r="6.4" fill="#7b7fb7"/><circle cx="798.4" cy="359.3" r="4.0" fill="#0000ff"/><circle cx="798.4" cy="356.5" r="6.1" fill="#7772c2"/><circle cx="798.8" cy="357.0" r="4.0" fill="#0000ff"/><circle cx="798.8" cy="354.2" r="7.1" fill="#7d97a3"/><circle cx="800.2" cy="355.8" r="4.0" fill="#0000ff"/><circle cx="800.2" cy="353.2" r="6.0" fill="#756dc6"/><circle cx="801.6" cy="354.8" r="4.0" fill="#0000ff"/><circle cx="801.6" cy="352.3" r="6.1" fill="#7772c2"/><circle cx="802.2" cy="353.0" r="4.0" fill="#0000ff"/><circle cx="802.2" cy="350.7" r="6.1" fill="#7773c1"/><circle cx="805.0" cy="353.9" r="4.0" fill="#0000ff"/><circle cx="805.0" cy="351.5" r="6.6" fill="#7c84b3"/><circle cx="817.1" cy="365.2" r="4.0" fill="#0000ff"/><circle cx="817.1" cy="362.2" r="6.5" fill="#7c83b4"/><circle cx="819.0" cy="364.4" r="4.0" fill="#0000ff"/><circle cx="819.0" cy="361.4" r="6.0" fill="#766fc4"/><circle cx="819.5" cy="362.0" r="4.0" fill="#0000ff"/><circle cx="819.5" cy="359.0" r="6.5" fill="#7b82b4"/><circle cx="820.8" cy="360.6" r="4.0" fill="#0000ff"/><circle cx="820.8" cy="357.9" r="6.8" fill="#7d8cac"/><circle cx="821.8" cy="359.0" r="4.0" fill="#0000ff"/><circle cx="821.8" cy="356.4" r="6.2" fill="#7977be"/><circle cx="822.1" cy="356.7" r="4.0" fill="#0000ff"/><circle cx="822.1" cy="354.1" r="6.0" fill="#766ec5"/><circle cx="824.1" cy="356.4" r="4.0" fill="#0000ff"/><circle cx="824.1" cy="353.9" r="6.8" fill="#7d8dac"/><circle cx="824.4" cy="354.2" r="4.0" fill="#0000ff"/><circle cx="824.4" cy="351.7" r="6.6" fill="#7c86b2"/><circle cx="824.7" cy="352.1" r="4.0" fill="#0000ff"/><circle cx="824.7" cy="349.6" r="6.1" fill="#7772c2"/><circle cx="825.0" cy="349.9" r="4.0" fill="#0000ff"/><circle cx="825.0" cy="347.4" r="8.3" fill="#72c478"/><circle cx="825.3" cy="347.7" r="4.0" fill="#0000ff"/><circle cx="825.3" cy="345.2" r="6.3" fill="#7a7bbb"/><circle cx="825.6" cy="345.6" r="4.0" fill="#0000ff"/><circle cx="825.6" cy="343.1" r="6.1" fill="#7773c1"/><circle cx="828.3" cy="346.2" r="4.0" fill="#0000ff"/><circle cx="828.3" cy="343.7" r="6.5" fill="#7c84b4"/><circle cx="828.9" cy="344.3" r="4.0" fill="#0000ff"/><circle cx="828.9" cy="341.9" r="6.4" fill="#7b7fb7"/><circle cx="829.1" cy="342.1" r="4.0" fill="#0000ff"/><circle cx="829.1" cy="339.7" r="7.9" fill="#79b389"/><circle cx="829.3" cy="339.9" r="4.0" fill="#0000ff"/><circle cx="829.3" cy="337.5" r="7.9" fill="#79b488"/><circle cx="831.6" cy="340.1" r="4.0" fill="#0000ff"/><circle cx="831.6" cy="337.6" r="6.2" fill="#7875bf"/><circle cx="833.6" cy="339.9" r="4.0" fill="#0000ff"/><circle cx="833.6" cy="337.4" r="6.1" fill="#7772c2"/><circle cx="834.4" cy="338.4" r="4.0" fill="#0000ff"/><circle cx="834.4" cy="335.9" r="6.8" fill="#7d8cad"/><circle cx="834.8" cy="336.3" r="4.0" fill="#0000ff"/><circle cx="834.8" cy="333.8" r="6.4" fill="#7b7fb8"/><circle cx="839.6" cy="339.6" r="4.0" fill="#0000ff"/><circle cx="839.6" cy="336.9" r="6.8" fill="#7d8eab"/><circle cx="840.5" cy="337.9" r="4.0" fill="#0000ff"/><circle cx="840.5" cy="335.1" r="6.0" fill="#766fc4"/><circle cx="840.8" cy="335.4" r="4.0" fill="#0000ff"/><circle cx="840.8" cy="332.7" r="6.3" fill="#797abc"/><circle cx="841.1" cy="333.1" r="4.0" fill="#0000ff"/><circle cx="841.1" cy="330.4" r="6.0" fill="#7670c3"/><circle cx="842.2" cy="331.7" r="4.0" fill="#0000ff"/><circle cx="842.2" cy="329.0" r="6.7" fill="#7d8aae"/><circle cx="842.2" cy="329.0" r="4.0" fill="#0000ff"/><circle cx="842.3" cy="324.6" r="8.8" fill="#67d465"/><circle cx="848.7" cy="334.9" r="4.0" fill="#0000ff"/><circle cx="848.7" cy="332.4" r="7.2" fill="#7d9aa0"/><circle cx="849.5" cy="333.3" r="4.0" fill="#0000ff"/><circle cx="849.5" cy="330.8" r="6.3" fill="#7a7cba"/><circle cx="849.8" cy="331.2" r="4.0" fill="#0000ff"/><circle cx="849.8" cy="328.7" r="7.0" fill="#7d95a5"/><circle cx="849.9" cy="328.7" r="4.0" fill="#0000ff"/><circle cx="849.9" cy="326.3" r="6.1" fill="#7773c1"/><circle cx="850.4" cy="326.8" r="4.0" fill="#0000ff"/><circle cx="850.4" cy="324.3" r="5.9" fill="#756cc6"/><circle cx="850.7" cy="324.7" r="4.0" fill="#0000ff"/><circle cx="850.7" cy="322.2" r="6.4" fill="#7b7fb7"/><circle cx="850.8" cy="322.3" r="4.0" fill="#0000ff"/><circle cx="850.8" cy="319.9" r="6.1" fill="#7771c2"/><circle cx="854.3" cy="323.8" r="4.0" fill="#0000ff"/><circle cx="854.3" cy="321.2" r="6.1" fill="#7772c2"/><circle cx="855.2" cy="317.2" r="8.2" fill="#75bf7d"/><circle cx="855.2" cy="322.3" r="4.0" fill="#0000ff"/><circle cx="855.2" cy="319.7" r="6.3" fill="#7a7cba"/><circle cx="856.1" cy="320.7" r="4.0" fill="#0000ff"/><circle cx="862.6" cy="324.7" r="4.0" fill="#0000ff"/><circle cx="862.6" cy="322.0" r="6.2" fill="#7977be"/><circle cx="862.7" cy="322.1" r="4.0" fill="#0000ff"/><circle cx="862.7" cy="319.4" r="6.4" fill="#7b80b7"/><circle cx="863.4" cy="320.2" r="4.0" fill="#0000ff"/><circle cx="863.4" cy="317.5" r="6.2" fill="#7876bf"/><circle cx="864.6" cy="318.8" r="4.0" fill="#0000ff"/><circle cx="864.6" cy="316.1" r="7.0" fill="#7d93a6"/><circle cx="879.2" cy="333.1" r="4.0" fill="#0000ff"/><circle cx="879.2" cy="329.2" r="6.1" fill="#7874c0"/><circle cx="881.6" cy="332.0" r="4.0" fill="#0000ff"/><circle cx="881.6" cy="329.4" r="7.0" fill="#7d95a5"/><circle cx="882.7" cy="330.7" r="4.0" fill="#0000ff"/><circle cx="882.7" cy="328.2" r="6.0" fill="#7670c3"/><circle cx="882.9" cy="328.5" r="4.0" fill="#0000ff"/><circle cx="882.9" cy="326.0" r="7.0" fill="#7d92a7"/><circle cx="884.3" cy="327.5" r="4.0" fill="#0000ff"/><circle cx="884.3" cy="325.0" r="7.1" fill="#7d97a3"/><circle cx="884.9" cy="325.7" r="4.0" fill="#0000ff"/><circle cx="884.9" cy="323.3" r="7.5" fill="#7ca596"/><circle cx="885.8" cy="324.4" r="4.0" fill="#0000ff"/><circle cx="885.8" cy="322.0" r="6.7" fill="#7c87b0"/><circle cx="886.5" cy="322.8" r="4.0" fill="#0000ff"/><circle cx="886.5" cy="320.4" r="7.0" fill="#7d95a5"/><circle cx="888.9" cy="323.1" r="4.0" fill="#0000ff"/><circle cx="888.9" cy="320.7" r="6.3" fill="#797abc"/><circle cx="890.5" cy="322.6" r="4.0" fill="#0000ff"/><circle cx="890.5" cy="320.2" r="6.1" fill="#7771c2"/><circle cx="891.9" cy="321.7" r="4.0" fill="#0000ff"/><circle cx="891.9" cy="319.1" r="6.7" fill="#7d88af"/><circle cx="892.6" cy="319.9" r="4.0" fill="#0000ff"/><circle cx="893.3" cy="318.0" r="4.0" fill="#0000ff"/><circle cx="893.3" cy="315.4" r="6.2" fill="#7977be"/><circle cx="893.6" cy="318.1" r="11.4" fill="#7aff00"/><circle cx="894.0" cy="316.2" r="4.0" fill="#0000ff"/><circle cx="894.0" cy="313.5" r="7.0" fill="#7d94a6"/><circle cx="894.3" cy="314.0" r="4.0" fill="#0000ff"/><circle cx="894.3" cy="311.5" r="8.0" fill="#77b983"/><circle cx="894.7" cy="311.9" r="4.0" fill="#0000ff"/><circle cx="894.7" cy="309.5" r="6.2" fill="#7876bf"/><circle cx="895.1" cy="309.9" r="4.0" fill="#0000ff"/><circle cx="895.1" cy="307.4" r="6.3" fill="#797abc"/><circle cx="895.5" cy="307.9" r="4.0" fill="#0000ff"/><circle cx="895.5" cy="305.4" r="7.1" fill="#7d97a3"/><circle cx="895.5" cy="301.5" r="9.7" fill="#39f431"/><circle cx="895.8" cy="305.8" r="4.0" fill="#0000ff"/><circle cx="903.6" cy="311.6" r="4.0" fill="#0000ff"/><circle cx="903.6" cy="309.4" r="6.1" fill="#7874c0"/><circle cx="904.0" cy="309.9" r="4.0" fill="#0000ff"/><circle cx="904.0" cy="307.7" r="7.5" fill="#7ca695"/><circle cx="904.2" cy="307.9" r="4.0" fill="#0000ff"/><circle cx="904.2" cy="305.8" r="6.7" fill="#7c87b0"/><circle cx="907.6" cy="309.7" r="4.0" fill="#0000ff"/><circle cx="907.6" cy="307.0" r="7.6" fill="#7ca993"/><circle cx="908.8" cy="308.4" r="4.0" fill="#0000ff"/><circle cx="908.8" cy="305.7" r="6.2" fill="#7978bd"/><circle cx="909.3" cy="306.2" r="4.0" fill="#0000ff"/><circle cx="909.3" cy="303.6" r="6.2" fill="#7876be"/><circle cx="910.2" cy="304.6" r="4.0" fill="#0000ff"/><circle cx="910.2" cy="301.9" r="7.9" fill="#79b488"/><circle cx="910.5" cy="302.2" r="4.0" fill="#0000ff"/><circle cx="910.5" cy="299.5" r="6.2" fill="#7876be"/><circle cx="910.6" cy="297.8" r="8.5" fill="#6fc972"/><circle cx="911.6" cy="300.8" r="4.0" fill="#0000ff"/><circle cx="912.7" cy="299.7" r="4.0" fill="#0000ff"/><circle cx="912.7" cy="297.3" r="6.0" fill="#766fc4"/><circle cx="918.5" cy="304.0" r="4.0" fill="#0000ff"/><circle cx="918.5" cy="301.2" r="7.1" fill="#7d98a2"/><circle cx="919.3" cy="302.1" r="4.0" fill="#0000ff"/><circle cx="919.3" cy="299.3" r="7.0" fill="#7d96a4"/><circle cx="921.4" cy="301.7" r="4.0" fill="#0000ff"/><circle cx="921.4" cy="298.9" r="6.1" fill="#7874c0"/><circle cx="922.8" cy="300.5" r="4.0" fill="#0000ff"/><circle cx="922.8" cy="297.8" r="6.0" fill="#766ec5"/><circle cx="925.9" cy="301.4" r="4.0" fill="#0000ff"/><circle cx="925.9" cy="298.6" r="6.0" fill="#756ec5"/><circle cx="927.1" cy="300.0" r="4.0" fill="#0000ff"/><circle cx="927.1" cy="297.3" r="8.0" fill="#78b884"/><circle cx="927.5" cy="297.7" r="4.0" fill="#0000ff"/><circle cx="927.5" cy="294.9" r="7.5" fill="#7ca596"/><circle cx="939.9" cy="310.2" r="4.0" fill="#0000ff"/><circle cx="939.9" cy="308.4" r="6.6" fill="#7c86b2"/><circle cx="942.0" cy="310.7" r="4.0" fill="#0000ff"/><circle cx="942.0" cy="308.9" r="6.0" fill="#756ec5"/><circle cx="943.6" cy="310.8" r="4.0" fill="#0000ff"/><circle cx="943.6" cy="308.5" r="7.3" fill="#7d9e9c"/><circle cx="943.8" cy="308.6" r="4.0" fill="#0000ff"/><circle cx="943.8" cy="306.3" r="8.0" fill="#77ba82"/><circle cx="949.6" cy="313.0" r="4.0" fill="#0000ff"/><circle cx="949.6" cy="310.7" r="6.2" fill="#7978bd"/><circle cx="953.3" cy="315.0" r="4.0" fill="#0000ff"/><circle cx="953.3" cy="312.8" r="6.0" fill="#7670c3"/><circle cx="954.1" cy="313.7" r="4.0" fill="#0000ff"/><circle cx="954.1" cy="311.5" r="6.0" fill="#7670c3"/><circle cx="958.5" cy="316.6" r="4.0" fill="#0000ff"/><circle cx="958.5" cy="314.3" r="7.5" fill="#7ca794"/><circle cx="960.2" cy="316.3" r="4.0" fill="#0000ff"/><circle cx="960.2" cy="313.7" r="8.3" fill="#72c478"/><circle cx="966.4" cy="320.8" r="4.0" fill="#0000ff"/><circle cx="966.4" cy="318.3" r="6.2" fill="#7977be"/><circle cx="966.9" cy="318.8" r="4.0" fill="#0000ff"/><circle cx="966.9" cy="316.3" r="6.4" fill="#7a7db9"/><circle cx="967.0" cy="316.4" r="4.0" fill="#0000ff"/><circle cx="967.0" cy="314.1" r="6.3" fill="#7a7cba"/><circle cx="968.3" cy="315.6" r="4.0" fill="#0000ff"/><circle cx="968.3" cy="313.2" r="6.3" fill="#7a7bbb"/><circle cx="968.5" cy="313.4" r="4.0" fill="#0000ff"/><circle cx="968.5" cy="311.1" r="7.1" fill="#7d98a2"/><circle cx="969.5" cy="312.2" r="4.0" fill="#0000ff"/><circle cx="969.5" cy="309.9" r="6.5" fill="#7b82b4"/><circle cx="970.3" cy="310.8" r="4.0" fill="#0000ff"/><circle cx="970.3" cy="308.4" r="7.2" fill="#7d9aa0"/><circle cx="970.4" cy="308.6" r="4.0" fill="#0000ff"/><circle cx="970.4" cy="306.3" r="8.1" fill="#76bb81"/><circle cx="971.7" cy="307.7" r="4.0" fill="#0000ff"/><circle cx="971.7" cy="305.5" r="6.3" fill="#797abc"/><circle cx="972.3" cy="306.3" r="4.0" fill="#0000ff"/><circle cx="972.3" cy="304.1" r="6.0" fill="#766fc4"/><circle cx="972.5" cy="304.3" r="4.0" fill="#0000ff"/><circle cx="972.5" cy="302.1" r="7.3" fill="#7d9e9d"/><circle cx="972.9" cy="302.5" r="4.0" fill="#0000ff"/><circle cx="972.9" cy="300.3" r="8.3" fill="#72c478"/><circle cx="976.8" cy="304.8" r="4.0" fill="#0000ff"/><circle cx="977.4" cy="303.3" r="4.0" fill="#0000ff"/><circle cx="977.6" cy="301.1" r="4.0" fill="#0000ff"/><circle cx="978.4" cy="299.5" r="4.0" fill="#0000ff"/><circle cx="979.0" cy="297.7" r="4.0" fill="#0000ff"/><circle cx="979.3" cy="295.6" r="4.0" fill="#0000ff"/><circle cx="979.3" cy="293.1" r="6.2" fill="#7875bf"/><circle cx="979.4" cy="293.3" r="4.0" fill="#0000ff"/><circle cx="979.4" cy="290.8" r="6.1" fill="#7874c0"/><circle cx="979.7" cy="291.1" r="4.0" fill="#0000ff"/><circle cx="979.7" cy="288.6" r="6.4" fill="#7a7db9"/><circle cx="979.9" cy="299.7" r="21.9" fill="#ff0000"/><circle cx="983.4" cy="292.8" r="4.0" fill="#0000ff"/><circle cx="983.4" cy="290.5" r="6.3" fill="#7a7bba"/><circle cx="983.8" cy="291.0" r="4.0" fill="#0000ff"/><circle cx="983.8" cy="288.7" r="6.4" fill="#7b7fb7"/><circle cx="985.7" cy="290.9" r="4.0" fill="#0000ff"/><circle cx="985.7" cy="288.6" r="8.3" fill="#72c478"/><circle cx="987.8" cy="291.0" r="4.0" fill="#0000ff"/><circle cx="987.8" cy="288.7" r="6.3" fill="#7a7bbb"/><circle cx="1000.0" cy="302.7" r="4.0" fill="#0000ff"/><circle cx="1000.0" cy="300.9" r="6.0" fill="#766ec5"/><circle cx="1000.3" cy="301.2" r="4.0" fill="#0000ff"/><circle cx="1000.3" cy="299.1" r="8.3" fill="#72c478"/><circle cx="1001.8" cy="300.8" r="4.0" fill="#0000ff"/><circle cx="1001.8" cy="298.6" r="6.1" fill="#7773c1"/><circle cx="1003.6" cy="300.7" r="4.0" fill="#0000ff"/><circle cx="1003.6" cy="298.5" r="7.3" fill="#7da09a"/><circle cx="1004.0" cy="298.9" r="4.0" fill="#0000ff"/><circle cx="1004.0" cy="296.8" r="4.0" fill="#0000ff"/><circle cx="1007.1" cy="298.1" r="4.0" fill="#0000ff"/><circle cx="1007.2" cy="296.1" r="4.0" fill="#0000ff"/><circle cx="1007.9" cy="294.7" r="4.0" fill="#0000ff"/><circle cx="1008.4" cy="293.9" r="21.9" fill="#ff0000"/><circle cx="1008.9" cy="293.5" r="4.0" fill="#0000ff"/><circle cx="1010.3" cy="293.0" r="4.0" fill="#0000ff"/><circle cx="1016.6" cy="297.9" r="4.0" fill="#0000ff"/><circle cx="1016.6" cy="295.6" r="6.8" fill="#7d8dac"/><circle cx="1016.6" cy="295.6" r="4.0" fill="#0000ff"/><circle cx="1016.6" cy="293.3" r="7.1" fill="#7d98a2"/><circle cx="1020.5" cy="297.7" r="4.0" fill="#0000ff"/><circle cx="1020.5" cy="295.4" r="6.3" fill="#7a7bbb"/><circle cx="1021.8" cy="296.9" r="4.0" fill="#0000ff"/><circle cx="1021.8" cy="294.7" r="6.1" fill="#7772c2"/><circle cx="1022.6" cy="295.5" r="4.0" fill="#0000ff"/><circle cx="1022.6" cy="293.3" r="6.5" fill="#7c83b4"/><circle cx="1023.0" cy="293.8" r="4.0" fill="#0000ff"/><circle cx="1023.0" cy="291.5" r="6.0" fill="#756dc6"/><circle cx="1023.5" cy="292.0" r="4.0" fill="#0000ff"/><circle cx="1023.5" cy="289.7" r="5.9" fill="#756cc6"/><circle cx="1025.3" cy="291.9" r="4.0" fill="#0000ff"/><circle cx="1025.3" cy="289.6" r="6.1" fill="#7772c2"/><circle cx="1025.4" cy="289.7" r="4.0" fill="#0000ff"/><circle cx="1027.9" cy="290.3" r="4.0" fill="#0000ff"/><circle cx="1027.9" cy="288.0" r="4.0" fill="#0000ff"/><circle cx="1028.8" cy="286.8" r="4.0" fill="#0000ff"/><circle cx="1029.0" cy="284.7" r="4.0" fill="#0000ff"/><circle cx="1030.5" cy="284.3" r="21.9" fill="#ff0000"/><circle cx="1030.6" cy="284.4" r="4.0" fill="#0000ff"/><circle cx="1032.9" cy="284.5" r="4.0" fill="#0000ff"/><circle cx="1033.2" cy="282.3" r="4.0" fill="#0000ff"/><circle cx="1035.5" cy="282.4" r="4.0" fill="#0000ff"/><circle cx="1035.5" cy="279.9" r="6.3" fill="#7979bc"/><circle cx="1036.2" cy="280.7" r="4.0" fill="#0000ff"/><circle cx="1036.2" cy="278.5" r="6.4" fill="#7a7cb9"/><circle cx="1036.5" cy="278.8" r="4.0" fill="#0000ff"/><circle cx="1036.5" cy="276.6" r="6.4" fill="#7b80b7"/><circle cx="1037.1" cy="277.4" r="4.0" fill="#0000ff"/><circle cx="1037.1" cy="275.2" r="8.3" fill="#72c478"/><circle cx="1038.5" cy="276.7" r="4.0" fill="#0000ff"/><circle cx="1038.5" cy="274.5" r="6.4" fill="#7b7fb7"/><circle cx="1038.7" cy="274.8" r="4.0" fill="#0000ff"/><circle cx="1038.7" cy="272.6" r="6.2" fill="#7875bf"/><circle cx="1039.0" cy="273.0" r="4.0" fill="#0000ff"/><circle cx="1039.0" cy="270.7" r="6.0" fill="#7670c3"/><circle cx="1040.4" cy="272.3" r="4.0" fill="#0000ff"/><circle cx="1040.4" cy="270.1" r="6.6" fill="#7c84b3"/><circle cx="1045.7" cy="276.1" r="4.0" fill="#0000ff"/><circle cx="1045.7" cy="274.3" r="7.2" fill="#7d9c9f"/><circle cx="1046.6" cy="275.3" r="4.0" fill="#0000ff"/><circle cx="1046.6" cy="273.5" r="6.1" fill="#7772c2"/><circle cx="1052.7" cy="280.5" r="4.0" fill="#0000ff"/><circle cx="1052.7" cy="278.7" r="6.3" fill="#7a7bbb"/><circle cx="1053.9" cy="280.2" r="4.0" fill="#0000ff"/><circle cx="1053.9" cy="278.3" r="6.1" fill="#7773c1"/><circle cx="1058.3" cy="283.3" r="4.0" fill="#0000ff"/><circle cx="1058.3" cy="281.5" r="7.7" fill="#7aaf8d"/><circle cx="1059.7" cy="283.1" r="4.0" fill="#0000ff"/><circle cx="1059.7" cy="280.6" r="7.5" fill="#7ca795"/><circle cx="1060.3" cy="281.2" r="4.0" fill="#0000ff"/><circle cx="1060.3" cy="278.7" r="6.1" fill="#7772c2"/><circle cx="1060.8" cy="279.4" r="4.0" fill="#0000ff"/><circle cx="1060.8" cy="276.9" r="6.0" fill="#756ec5"/><circle cx="1061.4" cy="277.5" r="4.0" fill="#0000ff"/><circle cx="1061.4" cy="275.1" r="6.2" fill="#7978bd"/><circle cx="1061.9" cy="275.7" r="4.0" fill="#0000ff"/><circle cx="1061.9" cy="273.2" r="7.1" fill="#7d98a2"/><circle cx="1062.9" cy="274.3" r="4.0" fill="#0000ff"/><circle cx="1062.9" cy="271.8" r="6.1" fill="#7874c0"/><circle cx="1063.3" cy="272.3" r="4.0" fill="#0000ff"/><circle cx="1063.3" cy="269.8" r="6.2" fill="#7977be"/><circle cx="1064.1" cy="270.7" r="4.0" fill="#0000ff"/><circle cx="1064.1" cy="268.1" r="6.1" fill="#7773c1"/><circle cx="1064.2" cy="268.2" r="4.0" fill="#0000ff"/><circle cx="1064.2" cy="265.7" r="6.5" fill="#7b81b6"/><circle cx="1067.5" cy="268.6" r="10.7" fill="#56ff00"/><circle cx="1068.4" cy="270.6" r="4.0" fill="#0000ff"/><circle cx="1068.7" cy="268.7" r="4.0" fill="#0000ff"/><circle cx="1068.7" cy="266.4" r="6.6" fill="#7c85b3"/><circle cx="1069.7" cy="267.6" r="4.0" fill="#0000ff"/><circle cx="1069.7" cy="265.3" r="6.0" fill="#766ec5"/><circle cx="1070.8" cy="266.7" r="4.0" fill="#0000ff"/><circle cx="1070.8" cy="264.5" r="7.2" fill="#7d9c9f"/><circle cx="1071.2" cy="264.9" r="4.0" fill="#0000ff"/><circle cx="1071.2" cy="262.6" r="6.5" fill="#7b82b5"/><circle cx="1071.3" cy="262.8" r="4.0" fill="#0000ff"/><circle cx="1071.3" cy="260.6" r="7.4" fill="#7da497"/><circle cx="1071.6" cy="260.9" r="4.0" fill="#0000ff"/><circle cx="1071.6" cy="258.7" r="6.1" fill="#7773c1"/><circle cx="1075.6" cy="263.2" r="4.0" fill="#0000ff"/><circle cx="1075.6" cy="260.8" r="8.3" fill="#72c478"/><circle cx="1080.3" cy="266.2" r="4.0" fill="#0000ff"/><circle cx="1080.3" cy="263.9" r="6.1" fill="#7772c2"/><circle cx="1081.0" cy="264.7" r="4.0" fill="#0000ff"/><circle cx="1081.0" cy="262.5" r="6.4" fill="#7a7cb9"/><circle cx="1082.3" cy="264.0" r="4.0" fill="#0000ff"/><circle cx="1082.3" cy="261.8" r="7.2" fill="#7d9c9e"/><circle cx="1083.3" cy="263.1" r="4.0" fill="#0000ff"/><circle cx="1083.3" cy="260.9" r="6.4" fill="#7a7db9"/><circle cx="1083.6" cy="261.3" r="4.0" fill="#0000ff"/><circle cx="1083.6" cy="259.1" r="7.1" fill="#7d96a4"/><circle cx="1084.5" cy="260.1" r="4.0" fill="#0000ff"/><circle cx="1084.5" cy="257.9" r="6.0" fill="#766fc4"/><circle cx="1085.1" cy="258.7" r="4.0" fill="#0000ff"/><circle cx="1085.1" cy="256.6" r="6.5" fill="#7b80b6"/><circle cx="1088.9" cy="260.9" r="4.0" fill="#0000ff"/><circle cx="1088.9" cy="258.7" r="6.8" fill="#7d8eab"/><circle cx="1090.6" cy="260.6" r="4.0" fill="#0000ff"/><circle cx="1090.6" cy="258.4" r="5.9" fill="#756cc6"/><circle cx="1090.8" cy="258.7" r="4.0" fill="#0000ff"/><circle cx="1090.8" cy="256.5" r="6.8" fill="#7d8dac"/><circle cx="1090.9" cy="256.6" r="4.0" fill="#0000ff"/><circle cx="1090.9" cy="254.4" r="6.4" fill="#7a7cb9"/><circle cx="1091.4" cy="255.0" r="4.0" fill="#0000ff"/><circle cx="1091.4" cy="252.8" r="6.1" fill="#7773c1"/><circle cx="1092.0" cy="253.5" r="4.0" fill="#0000ff"/><circle cx="1092.0" cy="251.4" r="6.2" fill="#7876be"/><circle cx="1093.3" cy="252.9" r="4.0" fill="#0000ff"/><circle cx="1093.3" cy="250.9" r="6.1" fill="#7771c2"/><circle cx="1094.0" cy="251.8" r="4.0" fill="#0000ff"/><circle cx="1094.0" cy="249.8" r="6.1" fill="#7772c2"/><circle cx="1094.1" cy="249.8" r="4.0" fill="#0000ff"/><circle cx="1096.1" cy="248.8" r="8.2" fill="#75bf7d"/><circle cx="1102.6" cy="257.5" r="4.0" fill="#0000ff"/><circle cx="1102.6" cy="255.7" r="6.0" fill="#756ec5"/><circle cx="1116.4" cy="268.6" r="8.5" fill="#6fc972"/><circle cx="1117.7" cy="272.0" r="4.0" fill="#0000ff"/><circle cx="1117.7" cy="269.8" r="6.0" fill="#766fc4"/><circle cx="1118.1" cy="270.3" r="4.0" fill="#0000ff"/><circle cx="1122.0" cy="272.7" r="4.0" fill="#0000ff"/><circle cx="1122.0" cy="270.5" r="6.4" fill="#7b7fb8"/><circle cx="1129.1" cy="278.6" r="4.0" fill="#0000ff"/><circle cx="1129.4" cy="276.0" r="8.5" fill="#6fc972"/><circle cx="1131.2" cy="279.0" r="4.0" fill="#0000ff"/><circle cx="1131.2" cy="277.0" r="7.9" fill="#79b389"/><circle cx="1131.6" cy="277.4" r="4.0" fill="#0000ff"/><circle cx="1131.6" cy="275.4" r="6.3" fill="#7a7bbb"/><circle cx="1147.6" cy="293.4" r="4.0" fill="#0000ff"/><circle cx="1147.6" cy="291.2" r="6.1" fill="#7772c2"/><circle cx="1148.8" cy="292.6" r="4.0" fill="#0000ff"/><circle cx="1148.8" cy="290.3" r="8.3" fill="#72c478"/><circle cx="1149.0" cy="290.6" r="4.0" fill="#0000ff"/><circle cx="1149.0" cy="288.4" r="6.8" fill="#7d8cac"/><circle cx="1150.5" cy="290.0" r="4.0" fill="#0000ff"/><circle cx="1150.5" cy="287.8" r="6.0" fill="#766fc4"/><circle cx="1152.1" cy="289.7" r="4.0" fill="#0000ff"/><circle cx="1152.1" cy="287.8" r="6.3" fill="#7a7cba"/><circle cx="1155.5" cy="291.7" r="4.0" fill="#0000ff"/><circle cx="1155.5" cy="289.8" r="6.2" fill="#7876be"/><circle cx="1157.4" cy="292.0" r="4.0" fill="#0000ff"/><circle cx="1157.4" cy="289.8" r="6.1" fill="#7771c2"/><circle cx="1157.7" cy="290.2" r="4.0" fill="#0000ff"/><circle cx="1157.7" cy="288.0" r="6.1" fill="#7874c0"/><circle cx="1158.0" cy="288.3" r="4.0" fill="#0000ff"/><circle cx="1158.0" cy="286.1" r="6.2" fill="#7978bd"/><circle cx="1158.3" cy="286.5" r="4.0" fill="#0000ff"/><circle cx="1158.3" cy="284.3" r="6.8" fill="#7d8dab"/><circle cx="1158.6" cy="284.6" r="4.0" fill="#0000ff"/><circle cx="1158.6" cy="282.4" r="6.7" fill="#7d89af"/><circle cx="1158.9" cy="282.8" r="4.0" fill="#0000ff"/><circle cx="1158.9" cy="279.7" r="8.5" fill="#6fc972"/><circle cx="1159.5" cy="281.2" r="4.0" fill="#0000ff"/><circle cx="1159.5" cy="278.7" r="6.1" fill="#7771c2"/><circle cx="1163.6" cy="283.4" r="4.0" fill="#0000ff"/><circle cx="1163.6" cy="280.9" r="6.1" fill="#7772c2"/><circle cx="1165.5" cy="283.1" r="4.0" fill="#0000ff"/><circle cx="1165.5" cy="280.5" r="6.4" fill="#7b7eb8"/><circle cx="1165.9" cy="281.1" r="4.0" fill="#0000ff"/><circle cx="1165.9" cy="278.6" r="7.2" fill="#7d9aa0"/><circle cx="1171.3" cy="284.8" r="4.0" fill="#0000ff"/><circle cx="1171.3" cy="282.2" r="6.5" fill="#7b80b6"/><circle cx="1174.4" cy="285.7" r="4.0" fill="#0000ff"/><circle cx="1174.4" cy="283.2" r="7.6" fill="#7ca993"/><circle cx="1181.6" cy="291.5" r="4.0" fill="#0000ff"/><circle cx="1181.6" cy="289.0" r="6.8" fill="#7d8dac"/><circle cx="1189.2" cy="297.7" r="4.0" fill="#0000ff"/><circle cx="1189.2" cy="295.2" r="6.8" fill="#7d8dac"/><circle cx="1198.3" cy="305.2" r="4.0" fill="#0000ff"/><circle cx="1198.3" cy="303.1" r="6.4" fill="#7b80b7"/><circle cx="1198.8" cy="303.8" r="4.0" fill="#0000ff"/><circle cx="1198.8" cy="301.7" r="6.5" fill="#7c83b4"/><circle cx="1199.4" cy="302.3" r="4.0" fill="#0000ff"/><circle cx="1199.4" cy="300.2" r="6.0" fill="#7670c3"/><circle cx="1199.9" cy="300.8" r="4.0" fill="#0000ff"/><circle cx="1199.9" cy="298.7" r="7.3" fill="#7da09a"/><circle cx="1200.5" cy="299.3" r="4.0" fill="#0000ff"/><circle cx="1200.5" cy="297.2" r="5.9" fill="#756cc6"/><circle cx="1204.1" cy="301.4" r="4.0" fill="#0000ff"/><circle cx="1204.1" cy="298.8" r="6.3" fill="#7a7bba"/><circle cx="1207.7" cy="303.0" r="4.0" fill="#0000ff"/><circle cx="1207.7" cy="300.5" r="6.5" fill="#7c84b4"/><circle cx="1209.7" cy="306.5" r="8.8" fill="#67d465"/><circle cx="1211.1" cy="303.1" r="4.0" fill="#0000ff"/><circle cx="1211.9" cy="302.6" r="4.0" fill="#0000ff"/><circle cx="1211.9" cy="300.4" r="6.1" fill="#7772c2"/><circle cx="1215.2" cy="301.1" r="4.0" fill="#0000ff"/><circle cx="1215.2" cy="298.9" r="6.9" fill="#7d92a7"/><circle cx="1219.1" cy="301.9" r="4.0" fill="#0000ff"/><circle cx="1219.1" cy="299.7" r="6.2" fill="#7875bf"/><circle cx="1220.4" cy="303.4" r="4.0" fill="#0000ff"/><circle cx="1220.4" cy="301.2" r="7.2" fill="#7d9aa0"/><circle cx="1222.8" cy="306.2" r="4.0" fill="#0000ff"/><circle cx="1225.4" cy="304.6" r="8.8" fill="#67d465"/><circle cx="1225.9" cy="303.1" r="8.8" fill="#67d465"/><circle cx="1226.9" cy="308.4" r="4.0" fill="#0000ff"/><circle cx="1229.2" cy="309.1" r="4.0" fill="#0000ff"/><circle cx="1229.2" cy="306.9" r="6.3" fill="#7a7bbb"/><circle cx="1233.7" cy="310.6" r="4.0" fill="#0000ff"/><circle cx="1233.7" cy="308.4" r="6.7" fill="#7d8bae"/><circle cx="1234.1" cy="310.8" r="4.0" fill="#0000ff"/><circle cx="1234.1" cy="308.6" r="6.1" fill="#7772c2"/><circle cx="1239.1" cy="314.0" r="4.0" fill="#0000ff"/><circle cx="1239.1" cy="311.8" r="6.1" fill="#7874c0"/><circle cx="1240.8" cy="315.0" r="4.0" fill="#0000ff"/><circle cx="1240.8" cy="312.8" r="6.0" fill="#7670c3"/><circle cx="1244.7" cy="316.0" r="4.0" fill="#0000ff"/><circle cx="1244.7" cy="313.8" r="6.5" fill="#7b81b6"/><circle cx="1246.6" cy="316.4" r="4.0" fill="#0000ff"/><circle cx="1246.6" cy="314.2" r="6.5" fill="#7b81b5"/><circle cx="1250.1" cy="316.5" r="4.0" fill="#0000ff"/><circle cx="1250.1" cy="314.3" r="5.9" fill="#756cc6"/><circle cx="1251.7" cy="316.3" r="4.0" fill="#0000ff"/><circle cx="1251.7" cy="314.1" r="6.1" fill="#7772c2"/><circle cx="1253.8" cy="316.1" r="4.0" fill="#0000ff"/><circle cx="1253.8" cy="313.9" r="6.1" fill="#7772c2"/><circle cx="1256.7" cy="316.6" r="4.0" fill="#0000ff"/><circle cx="1256.7" cy="314.4" r="8.0" fill="#78b884"/><circle cx="1259.8" cy="318.4" r="4.0" fill="#0000ff"/><circle cx="1259.8" cy="316.2" r="6.3" fill="#7a7bba"/><circle cx="1261.1" cy="319.1" r="4.0" fill="#0000ff"/><circle cx="1261.1" cy="316.9" r="6.5" fill="#7b81b6"/><circle cx="1263.2" cy="321.9" r="4.0" fill="#0000ff"/><circle cx="1263.2" cy="319.8" r="6.2" fill="#7875bf"/><circle cx="1266.1" cy="327.3" r="4.0" fill="#0000ff"/><circle cx="1266.1" cy="325.1" r="6.6" fill="#7c87b1"/><circle cx="1267.7" cy="329.1" r="4.0" fill="#0000ff"/><circle cx="1268.7" cy="328.6" r="9.5" fill="#45ef3d"/><circle cx="1270.6" cy="323.4" r="4.0" fill="#0000ff"/><circle cx="1270.6" cy="321.3" r="6.7" fill="#7c87b0"/><circle cx="1273.4" cy="322.8" r="4.0" fill="#0000ff"/><circle cx="1273.4" cy="320.6" r="5.9" fill="#756cc6"/><circle cx="1275.6" cy="323.2" r="4.0" fill="#0000ff"/><circle cx="1275.6" cy="321.1" r="6.3" fill="#7a7bbb"/><circle cx="1277.9" cy="325.0" r="4.0" fill="#0000ff"/><circle cx="1277.9" cy="322.9" r="6.4" fill="#7a7db9"/><circle cx="1279.5" cy="326.2" r="4.0" fill="#0000ff"/><circle cx="1279.5" cy="324.1" r="6.0" fill="#756ec5"/><circle cx="1281.1" cy="327.5" r="4.0" fill="#0000ff"/><circle cx="1281.1" cy="325.4" r="7.0" fill="#7d92a7"/><circle cx="1283.2" cy="329.2" r="4.0" fill="#0000ff"/><circle cx="1283.2" cy="327.1" r="6.2" fill="#7876be"/><circle cx="1285.9" cy="330.1" r="4.0" fill="#0000ff"/><circle cx="1285.9" cy="328.0" r="6.2" fill="#7875bf"/><circle cx="1287.7" cy="329.3" r="4.0" fill="#0000ff"/><circle cx="1287.7" cy="327.2" r="6.6" fill="#7c85b3"/><circle cx="1290.7" cy="327.7" r="4.0" fill="#0000ff"/><circle cx="1290.7" cy="325.6" r="6.5" fill="#7b82b5"/><circle cx="1292.6" cy="327.0" r="4.0" fill="#0000ff"/><circle cx="1292.6" cy="324.8" r="6.4" fill="#7a7db9"/><circle cx="1295.1" cy="324.9" r="8.8" fill="#67d465"/><circle cx="1296.6" cy="328.0" r="4.0" fill="#0000ff"/><circle cx="1299.0" cy="328.6" r="4.0" fill="#0000ff"/><circle cx="1299.0" cy="326.5" r="6.4" fill="#7b7fb8"/><circle cx="1301.8" cy="329.3" r="4.0" fill="#0000ff"/><circle cx="1301.8" cy="327.2" r="6.2" fill="#7977be"/><circle cx="1304.7" cy="330.6" r="4.0" fill="#0000ff"/><circle cx="1304.7" cy="328.5" r="6.0" fill="#766ec5"/><circle cx="1306.6" cy="332.0" r="4.0" fill="#0000ff"/><circle cx="1306.6" cy="330.0" r="6.5" fill="#7b80b6"/><circle cx="1308.9" cy="333.7" r="4.0" fill="#0000ff"/><circle cx="1308.9" cy="331.6" r="6.2" fill="#7978bd"/><circle cx="1311.0" cy="335.3" r="4.0" fill="#0000ff"/><circle cx="1311.0" cy="333.3" r="6.4" fill="#7b7fb7"/><circle cx="1312.9" cy="336.8" r="4.0" fill="#0000ff"/><circle cx="1312.9" cy="334.7" r="6.2" fill="#7977be"/><circle cx="1317.5" cy="340.2" r="4.0" fill="#0000ff"/><circle cx="1317.5" cy="338.1" r="5.9" fill="#756cc6"/><circle cx="1319.4" cy="341.3" r="4.0" fill="#0000ff"/><circle cx="1319.4" cy="339.2" r="6.0" fill="#756ec5"/><circle cx="1321.1" cy="342.0" r="4.0" fill="#0000ff"/><circle cx="1321.1" cy="339.9" r="6.0" fill="#7670c3"/><circle cx="1324.7" cy="341.9" r="8.8" fill="#67d465"/><circle cx="1326.3" cy="342.4" r="4.0" fill="#0000ff"/><circle cx="1328.2" cy="341.2" r="4.0" fill="#0000ff"/><circle cx="1328.2" cy="339.1" r="7.2" fill="#7d9aa0"/><circle cx="1331.2" cy="340.3" r="4.0" fill="#0000ff"/><circle cx="1331.2" cy="338.3" r="6.5" fill="#7b82b5"/><circle cx="1333.5" cy="341.6" r="4.0" fill="#0000ff"/><circle cx="1333.5" cy="339.6" r="6.1" fill="#7773c1"/><circle cx="1335.4" cy="342.6" r="4.0" fill="#0000ff"/><circle cx="1335.4" cy="340.6" r="6.7" fill="#7d8bae"/><circle cx="1340.2" cy="345.4" r="4.0" fill="#0000ff"/><circle cx="1340.2" cy="343.4" r="6.6" fill="#7c85b2"/><circle cx="1340.6" cy="345.7" r="4.0" fill="#0000ff"/><circle cx="1340.6" cy="343.7" r="6.0" fill="#766ec5"/><circle cx="1343.3" cy="347.4" r="4.0" fill="#0000ff"/><circle cx="1343.3" cy="345.4" r="6.8" fill="#7d8eab"/><circle cx="1346.5" cy="349.5" r="4.0" fill="#0000ff"/><circle cx="1346.5" cy="347.5" r="6.1" fill="#7773c1"/><circle cx="1346.8" cy="349.7" r="4.0" fill="#0000ff"/><circle cx="1346.8" cy="347.7" r="8.3" fill="#72c478"/><circle cx="1349.7" cy="352.2" r="4.0" fill="#0000ff"/><circle cx="1349.7" cy="350.2" r="6.0" fill="#7670c3"/><circle cx="1352.1" cy="353.8" r="4.0" fill="#0000ff"/><circle cx="1352.1" cy="351.8" r="6.2" fill="#7875bf"/><circle cx="1353.9" cy="354.1" r="4.0" fill="#0000ff"/><circle cx="1353.9" cy="352.1" r="6.1" fill="#7773c1"/><circle cx="1357.8" cy="354.9" r="4.0" fill="#0000ff"/><circle cx="1357.8" cy="352.9" r="7.2" fill="#7d9c9e"/><circle cx="1358.9" cy="355.1" r="4.0" fill="#0000ff"/><circle cx="1358.9" cy="353.1" r="7.0" fill="#7d96a4"/><circle cx="1360.3" cy="355.4" r="4.0" fill="#0000ff"/><circle cx="1360.3" cy="353.4" r="6.5" fill="#7b82b5"/><circle cx="1363.4" cy="349.2" r="4.0" fill="#0000ff"/><circle cx="1363.4" cy="347.2" r="6.0" fill="#7670c3"/><circle cx="1364.5" cy="348.3" r="4.0" fill="#0000ff"/><circle cx="1365.3" cy="345.3" r="8.2" fill="#75bf7d"/><circle cx="1367.9" cy="349.1" r="4.0" fill="#0000ff"/><circle cx="1367.9" cy="347.2" r="6.7" fill="#7d8aae"/><circle cx="1370.2" cy="351.7" r="4.0" fill="#0000ff"/><circle cx="1370.2" cy="349.7" r="6.0" fill="#766ec5"/><circle cx="1372.1" cy="353.7" r="4.0" fill="#0000ff"/><circle cx="1372.1" cy="351.7" r="7.6" fill="#7ca993"/><circle cx="1372.3" cy="353.7" r="4.0" fill="#0000ff"/><circle cx="1372.3" cy="351.8" r="7.1" fill="#7d99a1"/><circle cx="1375.3" cy="354.2" r="4.0" fill="#0000ff"/><circle cx="1375.3" cy="352.2" r="7.7" fill="#7bad8f"/><circle cx="1376.4" cy="354.4" r="4.0" fill="#0000ff"/><circle cx="1376.4" cy="352.4" r="6.7" fill="#7d8aae"/><circle cx="1378.5" cy="354.7" r="4.0" fill="#0000ff"/><circle cx="1378.5" cy="352.8" r="6.6" fill="#7c84b3"/><circle cx="1380.0" cy="355.0" r="4.0" fill="#0000ff"/><circle cx="1380.0" cy="353.0" r="8.3" fill="#72c478"/><circle cx="1381.9" cy="355.3" r="4.0" fill="#0000ff"/><circle cx="1381.9" cy="353.4" r="6.1" fill="#7874c0"/><circle cx="1383.6" cy="355.5" r="4.0" fill="#0000ff"/><circle cx="1383.6" cy="353.6" r="6.2" fill="#7876bf"/><circle cx="1387.1" cy="355.8" r="4.0" fill="#0000ff"/><circle cx="1387.1" cy="353.8" r="6.0" fill="#7670c3"/><circle cx="1388.2" cy="355.8" r="4.0" fill="#0000ff"/><circle cx="1388.2" cy="353.9" r="6.1" fill="#7772c2"/><circle cx="1392.5" cy="356.1" r="4.0" fill="#0000ff"/><circle cx="1392.5" cy="354.2" r="7.0" fill="#7d93a6"/><circle cx="1392.6" cy="356.1" r="4.0" fill="#0000ff"/><circle cx="1392.6" cy="354.2" r="6.0" fill="#766fc4"/><circle cx="1397.0" cy="356.9" r="4.0" fill="#0000ff"/><circle cx="1397.0" cy="355.0" r="6.8" fill="#7d8dab"/><circle cx="1397.5" cy="357.2" r="4.0" fill="#0000ff"/><circle cx="1397.5" cy="355.3" r="6.3" fill="#7979bc"/><circle cx="1399.5" cy="358.2" r="4.0" fill="#0000ff"/><circle cx="1399.5" cy="356.3" r="7.3" fill="#7d9f9c"/><circle cx="1402.7" cy="359.8" r="4.0" fill="#0000ff"/><circle cx="1402.7" cy="357.9" r="6.9" fill="#7d8faa"/><circle cx="1404.2" cy="360.6" r="4.0" fill="#0000ff"/><circle cx="1404.2" cy="358.7" r="6.7" fill="#7d88af"/><circle cx="1406.5" cy="361.7" r="4.0" fill="#0000ff"/><circle cx="1406.5" cy="359.8" r="7.1" fill="#7d99a1"/><circle cx="1407.8" cy="362.4" r="4.0" fill="#0000ff"/><circle cx="1407.8" cy="360.5" r="6.0" fill="#756ec5"/><circle cx="1409.9" cy="363.4" r="4.0" fill="#0000ff"/><circle cx="1409.9" cy="361.5" r="6.1" fill="#7874c0"/><circle cx="1410.7" cy="363.8" r="4.0" fill="#0000ff"/><circle cx="1410.7" cy="361.9" r="6.2" fill="#7978bd"/><circle cx="1413.5" cy="365.2" r="4.0" fill="#0000ff"/><circle cx="1413.5" cy="363.3" r="6.3" fill="#7a7abb"/><circle cx="1415.0" cy="365.9" r="4.0" fill="#0000ff"/><circle cx="1415.0" cy="364.1" r="6.7" fill="#7c87b0"/><circle cx="1417.6" cy="367.3" r="4.0" fill="#0000ff"/><circle cx="1417.6" cy="365.4" r="7.3" fill="#7d9f9b"/><circle cx="1417.7" cy="367.3" r="4.0" fill="#0000ff"/><circle cx="1417.7" cy="365.4" r="6.8" fill="#7d8dab"/><circle cx="1419.7" cy="364.4" r="4.0" fill="#0000ff"/><circle cx="1419.7" cy="362.6" r="7.7" fill="#7bac90"/><circle cx="1422.6" cy="359.1" r="8.8" fill="#67d465"/><circle cx="1422.7" cy="360.8" r="4.0" fill="#0000ff"/><circle cx="1424.8" cy="360.4" r="4.0" fill="#0000ff"/><circle cx="1424.8" cy="358.6" r="6.2" fill="#7977be"/><circle cx="1425.7" cy="360.3" r="4.0" fill="#0000ff"/><circle cx="1425.7" cy="358.4" r="6.4" fill="#7b7eb8"/><circle cx="1428.0" cy="359.9" r="4.0" fill="#0000ff"/><circle cx="1428.0" cy="358.1" r="6.8" fill="#7d8eab"/><circle cx="1429.5" cy="359.7" r="4.0" fill="#0000ff"/><circle cx="1429.5" cy="357.8" r="7.0" fill="#7d95a5"/><circle cx="1431.0" cy="359.4" r="4.0" fill="#0000ff"/><circle cx="1431.0" cy="357.6" r="6.2" fill="#7978bd"/><circle cx="1433.0" cy="359.3" r="4.0" fill="#0000ff"/><circle cx="1433.0" cy="357.4" r="6.2" fill="#7977be"/><circle cx="1435.0" cy="360.8" r="4.0" fill="#0000ff"/><circle cx="1435.0" cy="358.9" r="6.5" fill="#7c84b4"/><circle cx="1435.8" cy="361.3" r="4.0" fill="#0000ff"/><circle cx="1435.8" cy="359.5" r="6.1" fill="#7773c1"/><circle cx="1438.0" cy="363.0" r="4.0" fill="#0000ff"/><circle cx="1438.0" cy="361.2" r="7.3" fill="#7da09b"/><circle cx="1440.7" cy="364.5" r="4.0" fill="#0000ff"/><circle cx="1440.7" cy="362.7" r="5.9" fill="#756cc6"/><circle cx="1441.8" cy="364.3" r="4.0" fill="#0000ff"/><circle cx="1441.8" cy="362.5" r="6.6" fill="#7c86b2"/><circle cx="1444.8" cy="363.7" r="4.0" fill="#0000ff"/><circle cx="1444.8" cy="361.9" r="6.4" fill="#7a7db9"/><circle cx="1446.9" cy="365.8" r="4.0" fill="#0000ff"/><circle cx="1446.9" cy="364.0" r="6.1" fill="#7772c2"/><circle cx="1450.1" cy="369.1" r="4.0" fill="#0000ff"/><circle cx="1450.1" cy="367.3" r="6.5" fill="#7b81b5"/><circle cx="1454.3" cy="370.2" r="4.0" fill="#0000ff"/><circle cx="1455.9" cy="373.0" r="8.9" fill="#63d95f"/><circle cx="1457.8" cy="370.2" r="4.0" fill="#0000ff"/><circle cx="1457.8" cy="368.4" r="8.1" fill="#77ba82"/><circle cx="1461.7" cy="375.0" r="4.0" fill="#0000ff"/><circle cx="1461.7" cy="373.2" r="7.3" fill="#7da09a"/><circle cx="1463.5" cy="377.2" r="4.0" fill="#0000ff"/><circle cx="1463.5" cy="375.5" r="6.5" fill="#7b82b5"/><circle cx="1466.0" cy="380.3" r="4.0" fill="#0000ff"/><circle cx="1466.0" cy="378.6" r="7.3" fill="#7d9e9d"/><circle cx="1469.5" cy="382.1" r="4.0" fill="#0000ff"/><circle cx="1469.5" cy="380.3" r="7.3" fill="#7da09a"/><circle cx="1471.6" cy="383.1" r="4.0" fill="#0000ff"/><circle cx="1471.6" cy="381.3" r="6.1" fill="#7771c2"/><circle cx="1475.4" cy="385.0" r="4.0" fill="#0000ff"/><circle cx="1475.4" cy="383.3" r="7.1" fill="#7d97a3"/><circle cx="1480.7" cy="389.0" r="4.0" fill="#0000ff"/><circle cx="1480.7" cy="387.2" r="7.1" fill="#7d98a2"/><circle cx="1484.5" cy="390.2" r="4.0" fill="#0000ff"/><circle cx="1484.5" cy="388.5" r="8.3" fill="#72c478"/><circle cx="1486.7" cy="389.9" r="4.0" fill="#0000ff"/><circle cx="1486.7" cy="388.1" r="6.9" fill="#7d8faa"/><circle cx="1490.0" cy="390.6" r="4.0" fill="#0000ff"/><circle cx="1490.0" cy="388.9" r="6.3" fill="#7979bc"/><circle cx="1492.9" cy="394.2" r="4.0" fill="#0000ff"/><circle cx="1492.9" cy="392.5" r="6.1" fill="#7772c2"/><circle cx="1496.1" cy="398.1" r="4.0" fill="#0000ff"/><circle cx="1496.1" cy="396.4" r="6.6" fill="#7c86b1"/><circle cx="1499.5" cy="402.3" r="4.0" fill="#0000ff"/><circle cx="1499.5" cy="400.6" r="6.1" fill="#7772c2"/><circle cx="1501.4" cy="403.9" r="4.0" fill="#0000ff"/><circle cx="1501.4" cy="402.2" r="6.9" fill="#7d8faa"/><circle cx="1505.8" cy="406.6" r="4.0" fill="#0000ff"/><circle cx="1505.8" cy="404.9" r="6.5" fill="#7b81b5"/><circle cx="1508.0" cy="407.9" r="4.0" fill="#0000ff"/><circle cx="1508.0" cy="406.2" r="7.1" fill="#7d97a3"/><circle cx="1510.6" cy="408.6" r="4.0" fill="#0000ff"/><circle cx="1510.6" cy="407.0" r="6.2" fill="#7977be"/><circle cx="1514.0" cy="408.0" r="4.0" fill="#0000ff"/><circle cx="1514.0" cy="406.3" r="6.2" fill="#7876bf"/><circle cx="1515.7" cy="407.7" r="4.0" fill="#0000ff"/><circle cx="1515.7" cy="406.0" r="7.5" fill="#7ca597"/><circle cx="1520.4" cy="407.8" r="4.0" fill="#0000ff"/><circle cx="1520.4" cy="406.1" r="6.6" fill="#7c87b1"/><circle cx="1523.0" cy="411.2" r="4.0" fill="#0000ff"/><circle cx="1523.0" cy="409.5" r="6.2" fill="#7978bd"/><circle cx="1524.5" cy="413.1" r="4.0" fill="#0000ff"/><circle cx="1524.5" cy="411.4" r="6.5" fill="#7b81b6"/><circle cx="1527.7" cy="416.2" r="4.0" fill="#0000ff"/><circle cx="1527.7" cy="414.5" r="6.3" fill="#7a7bbb"/><circle cx="1528.9" cy="417.0" r="4.0" fill="#0000ff"/><circle cx="1528.9" cy="415.3" r="6.6" fill="#7c86b2"/><circle cx="1531.0" cy="418.3" r="4.0" fill="#0000ff"/><circle cx="1531.0" cy="416.6" r="6.4" fill="#7b7fb8"/><circle cx="1533.2" cy="419.7" r="4.0" fill="#0000ff"/><circle cx="1533.2" cy="418.0" r="6.2" fill="#7875bf"/><circle cx="1535.4" cy="421.0" r="4.0" fill="#0000ff"/><circle cx="1535.4" cy="419.4" r="8.3" fill="#72c478"/><circle cx="1539.0" cy="423.3" r="4.0" fill="#0000ff"/><circle cx="1539.0" cy="421.7" r="7.3" fill="#7da09a"/><circle cx="1541.9" cy="424.6" r="4.0" fill="#0000ff"/><circle cx="1541.9" cy="422.9" r="6.9" fill="#7d8faa"/><circle cx="1544.7" cy="424.8" r="4.0" fill="#0000ff"/><circle cx="1544.7" cy="423.1" r="6.1" fill="#7874c0"/><circle cx="1545.5" cy="424.8" r="4.0" fill="#0000ff"/><circle cx="1545.5" cy="423.2" r="6.1" fill="#7772c2"/><circle cx="1549.1" cy="425.1" r="4.0" fill="#0000ff"/><circle cx="1549.1" cy="423.5" r="6.8" fill="#7d8cac"/><circle cx="1550.5" cy="425.2" r="4.0" fill="#0000ff"/><circle cx="1550.5" cy="423.6" r="7.1" fill="#7d96a4"/><circle cx="1552.2" cy="425.3" r="4.0" fill="#0000ff"/><circle cx="1552.2" cy="423.7" r="6.6" fill="#7c86b1"/><circle cx="1554.4" cy="425.9" r="4.0" fill="#0000ff"/><circle cx="1554.4" cy="424.3" r="6.1" fill="#7772c2"/><circle cx="1556.3" cy="427.5" r="4.0" fill="#0000ff"/><circle cx="1556.3" cy="425.9" r="6.8" fill="#7d8bad"/><circle cx="1557.8" cy="428.9" r="4.0" fill="#0000ff"/><circle cx="1557.8" cy="427.3" r="6.4" fill="#7b7fb8"/><circle cx="1560.2" cy="431.0" r="4.0" fill="#0000ff"/><circle cx="1560.2" cy="429.4" r="6.2" fill="#7978bd"/><circle cx="1562.6" cy="432.7" r="4.0" fill="#0000ff"/><circle cx="1562.6" cy="431.1" r="6.5" fill="#7b82b4"/><circle cx="1564.7" cy="432.3" r="4.0" fill="#0000ff"/><circle cx="1564.7" cy="430.7" r="6.3" fill="#7a7bba"/><circle cx="1566.9" cy="431.8" r="4.0" fill="#0000ff"/><circle cx="1566.9" cy="430.2" r="6.6" fill="#7c86b2"/><circle cx="1567.4" cy="431.6" r="4.0" fill="#0000ff"/><circle cx="1567.4" cy="430.1" r="6.8" fill="#7d8faa"/><circle cx="1570.8" cy="431.1" r="4.0" fill="#0000ff"/><circle cx="1570.8" cy="429.5" r="8.3" fill="#72c478"/><circle cx="1572.7" cy="432.6" r="4.0" fill="#0000ff"/><circle cx="1572.7" cy="431.0" r="6.0" fill="#766fc4"/><circle cx="1574.8" cy="434.0" r="4.0" fill="#0000ff"/><circle cx="1574.8" cy="432.5" r="6.5" fill="#7b81b5"/><circle cx="1577.5" cy="436.0" r="4.0" fill="#0000ff"/><circle cx="1577.5" cy="434.4" r="7.8" fill="#7ab28a"/><circle cx="1577.8" cy="436.2" r="4.0" fill="#0000ff"/><circle cx="1577.8" cy="434.6" r="6.6" fill="#7c87b1"/><circle cx="1581.1" cy="438.2" r="4.0" fill="#0000ff"/><circle cx="1581.1" cy="436.6" r="6.5" fill="#7b82b5"/><circle cx="1583.4" cy="437.4" r="4.0" fill="#0000ff"/><circle cx="1583.4" cy="435.8" r="7.2" fill="#7d9aa0"/><circle cx="1583.9" cy="437.2" r="4.0" fill="#0000ff"/><circle cx="1583.9" cy="435.7" r="6.0" fill="#756dc6"/><circle cx="1587.6" cy="438.4" r="4.0" fill="#0000ff"/><circle cx="1587.6" cy="436.8" r="7.0" fill="#7d92a7"/><circle cx="1591.4" cy="443.9" r="4.0" fill="#0000ff"/><circle cx="1591.4" cy="442.3" r="6.6" fill="#7c84b3"/><circle cx="1592.4" cy="445.3" r="4.0" fill="#0000ff"/><circle cx="1592.4" cy="443.7" r="6.5" fill="#7b82b5"/><circle cx="1596.6" cy="446.4" r="4.0" fill="#0000ff"/><circle cx="1596.6" cy="444.8" r="6.2" fill="#7876bf"/><circle cx="1599.3" cy="448.0" r="4.0" fill="#0000ff"/><circle cx="1599.3" cy="446.5" r="6.6" fill="#7c84b3"/><circle cx="1600.6" cy="449.7" r="4.0" fill="#0000ff"/><circle cx="1600.6" cy="448.2" r="6.0" fill="#7670c3"/><circle cx="1602.4" cy="452.1" r="4.0" fill="#0000ff"/><circle cx="1602.4" cy="450.6" r="6.4" fill="#7b7fb8"/><circle cx="1605.5" cy="456.1" r="4.0" fill="#0000ff"/><circle cx="1605.5" cy="454.6" r="6.1" fill="#7874c0"/><circle cx="1610.6" cy="459.7" r="4.0" fill="#0000ff"/><circle cx="1610.6" cy="458.2" r="7.7" fill="#7bad8f"/><circle cx="1612.3" cy="460.4" r="4.0" fill="#0000ff"/><circle cx="1612.3" cy="458.8" r="7.0" fill="#7d94a6"/><circle cx="1615.0" cy="461.3" r="4.0" fill="#0000ff"/><circle cx="1615.0" cy="459.8" r="6.4" fill="#7a7cb9"/><circle cx="1618.9" cy="462.7" r="4.0" fill="#0000ff"/><circle cx="1618.9" cy="461.2" r="6.8" fill="#7d8faa"/><circle cx="1624.0" cy="465.9" r="4.0" fill="#0000ff"/><circle cx="1624.0" cy="464.4" r="6.2" fill="#7978bd"/><circle cx="1625.1" cy="466.6" r="4.0" fill="#0000ff"/><circle cx="1625.1" cy="465.1" r="6.4" fill="#7b7fb8"/><circle cx="1627.5" cy="468.4" r="4.0" fill="#0000ff"/><circle cx="1630.6" cy="470.8" r="17.7" fill="#ffc800"/><circle cx="1633.8" cy="473.4" r="4.0" fill="#0000ff"/><circle cx="1635.0" cy="474.5" r="4.0" fill="#0000ff"/><circle cx="1638.7" cy="477.8" r="4.0" fill="#0000ff"/><circle cx="1638.7" cy="476.3" r="6.9" fill="#7d8faa"/><circle cx="1644.2" cy="482.6" r="4.0" fill="#0000ff"/><circle cx="1644.2" cy="481.2" r="6.0" fill="#766fc4"/><circle cx="1645.2" cy="483.5" r="4.0" fill="#0000ff"/><circle cx="1645.2" cy="482.1" r="7.0" fill="#7d96a4"/><circle cx="1647.8" cy="485.3" r="4.0" fill="#0000ff"/><circle cx="1647.8" cy="483.9" r="6.0" fill="#756dc6"/><circle cx="1652.7" cy="488.2" r="4.0" fill="#0000ff"/><circle cx="1652.7" cy="486.8" r="6.5" fill="#7b81b6"/><circle cx="1653.6" cy="488.8" r="4.0" fill="#0000ff"/><circle cx="1653.6" cy="487.3" r="6.4" fill="#7a7db9"/><circle cx="1656.0" cy="490.1" r="4.0" fill="#0000ff"/><circle cx="1656.0" cy="488.7" r="6.0" fill="#766ec5"/><circle cx="1659.7" cy="492.1" r="4.0" fill="#0000ff"/><circle cx="1659.7" cy="490.6" r="6.3" fill="#7a7abb"/><circle cx="1660.3" cy="492.4" r="4.0" fill="#0000ff"/><circle cx="1660.3" cy="490.9" r="7.4" fill="#7da19a"/><circle cx="1663.7" cy="494.1" r="4.0" fill="#0000ff"/><circle cx="1663.7" cy="492.7" r="6.6" fill="#7c85b3"/><circle cx="1664.6" cy="494.5" r="4.0" fill="#0000ff"/><circle cx="1664.6" cy="493.1" r="6.2" fill="#7876bf"/><circle cx="1666.6" cy="494.8" r="4.0" fill="#0000ff"/><circle cx="1666.6" cy="493.4" r="7.0" fill="#7d95a5"/><circle cx="1668.5" cy="495.1" r="4.0" fill="#0000ff"/><circle cx="1668.5" cy="493.7" r="6.2" fill="#7977be"/><circle cx="1671.4" cy="495.4" r="4.0" fill="#0000ff"/><circle cx="1671.4" cy="494.0" r="7.4" fill="#7da398"/><circle cx="1673.6" cy="495.7" r="4.0" fill="#0000ff"/><circle cx="1673.6" cy="494.3" r="6.3" fill="#7979bc"/><circle cx="1675.5" cy="495.9" r="4.0" fill="#0000ff"/><circle cx="1675.5" cy="494.5" r="6.0" fill="#766fc4"/><circle cx="1678.0" cy="496.3" r="4.0" fill="#0000ff"/><circle cx="1678.0" cy="494.8" r="8.2" fill="#74c17b"/><circle cx="1679.9" cy="496.8" r="4.0" fill="#0000ff"/><circle cx="1679.9" cy="495.4" r="6.0" fill="#766ec5"/><circle cx="1683.6" cy="500.2" r="4.0" fill="#0000ff"/><circle cx="1683.6" cy="498.8" r="6.1" fill="#7874c0"/><circle cx="1686.6" cy="502.8" r="4.0" fill="#0000ff"/><circle cx="1686.6" cy="501.4" r="6.9" fill="#7d90a9"/><circle cx="1689.0" cy="504.9" r="4.0" fill="#0000ff"/><circle cx="1689.0" cy="503.5" r="6.0" fill="#766fc4"/><circle cx="1692.6" cy="507.9" r="4.0" fill="#0000ff"/><circle cx="1692.6" cy="506.5" r="6.4" fill="#7b80b7"/><circle cx="1693.5" cy="508.7" r="4.0" fill="#0000ff"/><circle cx="1693.5" cy="507.4" r="7.2" fill="#7d9c9f"/><circle cx="1698.5" cy="512.9" r="4.0" fill="#0000ff"/><circle cx="1698.5" cy="511.5" r="6.5" fill="#7b82b4"/><circle cx="1698.9" cy="515.1" r="9.7" fill="#39f431"/><circle cx="1702.5" cy="516.5" r="4.0" fill="#0000ff"/><circle cx="1705.9" cy="519.9" r="4.0" fill="#0000ff"/><circle cx="1705.9" cy="518.5" r="6.9" fill="#7d8faa"/><circle cx="1711.8" cy="525.6" r="4.0" fill="#0000ff"/><circle cx="1711.8" cy="524.3" r="7.1" fill="#7d97a3"/><circle cx="1714.6" cy="528.4" r="4.0" fill="#0000ff"/><circle cx="1714.6" cy="527.0" r="6.5" fill="#7b82b5"/><circle cx="1717.5" cy="529.2" r="4.0" fill="#0000ff"/><circle cx="1717.5" cy="527.9" r="6.6" fill="#7c85b3"/><circle cx="1719.3" cy="529.8" r="4.0" fill="#0000ff"/><circle cx="1719.3" cy="528.4" r="6.2" fill="#7876be"/><circle cx="1720.8" cy="530.2" r="4.0" fill="#0000ff"/><circle cx="1720.8" cy="528.9" r="6.3" fill="#797abc"/><circle cx="1724.1" cy="531.6" r="4.0" fill="#0000ff"/><circle cx="1724.1" cy="530.3" r="8.3" fill="#72c478"/><circle cx="1725.6" cy="532.4" r="4.0" fill="#0000ff"/><circle cx="1725.6" cy="531.1" r="8.2" fill="#74c17b"/><circle cx="1729.7" cy="534.5" r="4.0" fill="#0000ff"/><circle cx="1729.7" cy="533.1" r="5.9" fill="#756cc6"/><circle cx="1730.5" cy="534.9" r="4.0" fill="#0000ff"/><circle cx="1730.5" cy="533.6" r="6.1" fill="#7772c2"/><circle cx="1732.5" cy="536.1" r="4.0" fill="#0000ff"/><circle cx="1732.5" cy="534.8" r="6.1" fill="#7773c1"/><circle cx="1735.7" cy="538.1" r="4.0" fill="#0000ff"/><circle cx="1736.2" cy="538.4" r="4.0" fill="#0000ff"/><circle cx="1736.2" cy="537.1" r="6.1" fill="#7772c2"/><circle cx="1737.7" cy="534.0" r="8.8" fill="#67d465"/><circle cx="1739.6" cy="540.2" r="4.0" fill="#0000ff"/><circle cx="1739.6" cy="538.9" r="6.1" fill="#7771c2"/><circle cx="1740.4" cy="540.5" r="4.0" fill="#0000ff"/><circle cx="1740.4" cy="539.2" r="6.9" fill="#7d90a9"/><circle cx="1743.1" cy="541.7" r="4.0" fill="#0000ff"/><circle cx="1743.1" cy="540.4" r="6.1" fill="#7771c2"/><circle cx="1744.0" cy="542.1" r="4.0" fill="#0000ff"/><circle cx="1744.0" cy="540.8" r="8.3" fill="#72c478"/><circle cx="1747.7" cy="543.7" r="4.0" fill="#0000ff"/><circle cx="1747.7" cy="542.4" r="6.3" fill="#7a7bba"/><circle cx="1748.8" cy="544.2" r="4.0" fill="#0000ff"/><circle cx="1748.8" cy="542.9" r="7.4" fill="#7da497"/><circle cx="1750.9" cy="545.1" r="4.0" fill="#0000ff"/><circle cx="1750.9" cy="543.8" r="7.0" fill="#7d96a4"/><circle cx="1753.9" cy="546.5" r="4.0" fill="#0000ff"/><circle cx="1753.9" cy="545.2" r="6.1" fill="#7772c2"/><circle cx="1756.1" cy="547.6" r="4.0" fill="#0000ff"/><circle cx="1756.1" cy="546.3" r="6.9" fill="#7d92a7"/><circle cx="1757.6" cy="548.4" r="4.0" fill="#0000ff"/><circle cx="1757.6" cy="547.1" r="6.3" fill="#797abc"/><circle cx="1759.7" cy="549.4" r="4.0" fill="#0000ff"/><circle cx="1759.7" cy="548.1" r="6.1" fill="#7773c1"/><circle cx="1763.5" cy="551.6" r="4.0" fill="#0000ff"/><circle cx="1763.5" cy="550.3" r="6.0" fill="#756ec5"/><circle cx="1764.7" cy="552.6" r="4.0" fill="#0000ff"/><circle cx="1764.7" cy="551.3" r="6.7" fill="#7d8aae"/><circle cx="1769.9" cy="557.0" r="4.0" fill="#0000ff"/><circle cx="1769.9" cy="555.8" r="6.5" fill="#7b81b6"/><circle cx="1771.4" cy="558.3" r="4.0" fill="#0000ff"/><circle cx="1771.4" cy="557.0" r="6.2" fill="#7876bf"/><circle cx="1774.0" cy="560.5" r="4.0" fill="#0000ff"/><circle cx="1774.0" cy="559.2" r="7.1" fill="#7d98a2"/><circle cx="1777.8" cy="563.8" r="4.0" fill="#0000ff"/><circle cx="1777.8" cy="562.5" r="6.1" fill="#7772c2"/><circle cx="1780.6" cy="566.1" r="4.0" fill="#0000ff"/><circle cx="1780.6" cy="564.9" r="6.3" fill="#7a7bba"/><circle cx="1785.1" cy="569.7" r="4.0" fill="#0000ff"/><circle cx="1785.1" cy="568.5" r="6.0" fill="#766fc4"/><circle cx="1789.6" cy="573.3" r="4.0" fill="#0000ff"/><circle cx="1789.6" cy="572.1" r="6.2" fill="#7977be"/><circle cx="1792.6" cy="575.7" r="4.0" fill="#0000ff"/><circle cx="1794.2" cy="573.8" r="8.3" fill="#72c478"/><circle cx="1795.7" cy="578.2" r="4.0" fill="#0000ff"/><circle cx="1795.7" cy="577.0" r="6.4" fill="#7a7db9"/><circle cx="1798.8" cy="580.6" r="4.0" fill="#0000ff"/><circle cx="1798.8" cy="579.4" r="6.0" fill="#7670c3"/><circle cx="1802.5" cy="583.5" r="4.0" fill="#0000ff"/><circle cx="1802.5" cy="582.3" r="6.1" fill="#7773c1"/><circle cx="1806.2" cy="584.9" r="8.8" fill="#67d465"/><circle cx="1806.4" cy="586.6" r="4.0" fill="#0000ff"/><circle cx="1808.3" cy="587.9" r="4.0" fill="#0000ff"/><circle cx="1808.3" cy="586.8" r="6.1" fill="#7874c0"/><circle cx="1812.1" cy="590.6" r="4.0" fill="#0000ff"/><circle cx="1812.1" cy="589.5" r="7.4" fill="#7da19a"/><circle cx="1814.0" cy="592.1" r="4.0" fill="#0000ff"/><circle cx="1814.0" cy="590.9" r="6.0" fill="#766ec5"/><circle cx="1815.7" cy="593.3" r="4.0" fill="#0000ff"/><circle cx="1815.7" cy="592.2" r="7.2" fill="#7d9d9d"/><circle cx="1818.5" cy="595.3" r="4.0" fill="#0000ff"/><circle cx="1818.5" cy="594.2" r="6.6" fill="#7c84b3"/><circle cx="1822.8" cy="598.4" r="4.0" fill="#0000ff"/><circle cx="1822.8" cy="597.3" r="7.1" fill="#7d96a4"/><circle cx="1824.4" cy="599.4" r="4.0" fill="#0000ff"/><circle cx="1824.4" cy="598.3" r="6.2" fill="#7977be"/><circle cx="1826.6" cy="600.9" r="4.0" fill="#0000ff"/><circle cx="1826.6" cy="599.9" r="6.0" fill="#766ec5"/><circle cx="1829.3" cy="602.8" r="4.0" fill="#0000ff"/><circle cx="1829.3" cy="601.8" r="6.1" fill="#7771c2"/><circle cx="1832.5" cy="605.0" r="4.0" fill="#0000ff"/><circle cx="1832.5" cy="604.0" r="6.6" fill="#7c85b3"/><circle cx="1833.8" cy="605.9" r="4.0" fill="#0000ff"/><circle cx="1833.8" cy="604.8" r="6.0" fill="#756dc6"/><circle cx="1836.2" cy="607.5" r="4.0" fill="#0000ff"/><circle cx="1836.2" cy="606.5" r="6.0" fill="#766fc4"/><circle cx="1838.6" cy="609.2" r="4.0" fill="#0000ff"/><circle cx="1838.6" cy="608.2" r="6.9" fill="#7d91a8"/><circle cx="1840.2" cy="610.4" r="4.0" fill="#0000ff"/><circle cx="1840.2" cy="609.4" r="7.3" fill="#7d9f9c"/><circle cx="1844.1" cy="613.1" r="4.0" fill="#0000ff"/><circle cx="1844.1" cy="612.1" r="7.2" fill="#7d9b9f"/><circle cx="1846.4" cy="614.7" r="4.0" fill="#0000ff"/><circle cx="1846.4" cy="613.8" r="7.1" fill="#7d98a2"/><circle cx="1848.8" cy="616.4" r="4.0" fill="#0000ff"/><circle cx="1848.8" cy="615.5" r="6.5" fill="#7b80b6"/><circle cx="1851.0" cy="618.1" r="4.0" fill="#0000ff"/><circle cx="1851.4" cy="617.2" r="9.5" fill="#45ef3d"/><circle cx="1853.3" cy="620.0" r="4.0" fill="#0000ff"/><circle cx="1853.3" cy="619.1" r="6.7" fill="#7d8aae"/><circle cx="1856.0" cy="622.4" r="4.0" fill="#0000ff"/><circle cx="1856.0" cy="621.4" r="6.5" fill="#7b80b6"/><circle cx="1857.0" cy="623.2" r="4.0" fill="#0000ff"/><circle cx="1857.0" cy="622.3" r="6.3" fill="#7a7abb"/><circle cx="1860.6" cy="626.3" r="4.0" fill="#0000ff"/><circle cx="1860.6" cy="625.4" r="6.0" fill="#756dc6"/><circle cx="1860.9" cy="626.6" r="4.0" fill="#0000ff"/><circle cx="1860.9" cy="625.7" r="6.0" fill="#766fc4"/><circle cx="1864.2" cy="629.2" r="4.0" fill="#0000ff"/><circle cx="1864.4" cy="627.4" r="9.2" fill="#57e44f"/><circle cx="1864.7" cy="629.5" r="4.0" fill="#0000ff"/><circle cx="1864.7" cy="628.6" r="6.3" fill="#7a7cba"/><circle cx="1867.2" cy="630.9" r="4.0" fill="#0000ff"/><circle cx="1867.2" cy="630.1" r="6.0" fill="#7670c3"/><circle cx="1867.9" cy="631.3" r="4.0" fill="#0000ff"/><circle cx="1867.9" cy="630.4" r="8.2" fill="#74c07c"/><circle cx="1869.0" cy="632.0" r="4.0" fill="#0000ff"/><circle cx="1869.0" cy="631.1" r="6.5" fill="#7b81b5"/><circle cx="1871.0" cy="633.1" r="4.0" fill="#0000ff"/><circle cx="1871.0" cy="632.3" r="6.8" fill="#7d8dab"/><circle cx="1872.8" cy="634.2" r="4.0" fill="#0000ff"/><circle cx="1872.8" cy="633.4" r="7.4" fill="#7da299"/><circle cx="1874.2" cy="635.0" r="4.0" fill="#0000ff"/><circle cx="1874.2" cy="634.2" r="6.1" fill="#7773c1"/><circle cx="1875.7" cy="635.8" r="4.0" fill="#0000ff"/><circle cx="1875.7" cy="635.0" r="7.3" fill="#7da09a"/><circle cx="1877.2" cy="636.7" r="4.0" fill="#0000ff"/><circle cx="1877.2" cy="635.8" r="8.0" fill="#78b884"/><circle cx="1877.3" cy="636.7" r="4.0" fill="#0000ff"/><circle cx="1877.3" cy="635.9" r="6.1" fill="#7874c0"/><circle cx="1879.2" cy="637.8" r="4.0" fill="#0000ff"/><circle cx="1879.2" cy="637.0" r="6.0" fill="#7670c3"/><circle cx="1880.2" cy="638.3" r="4.0" fill="#0000ff"/><circle cx="1880.2" cy="637.5" r="7.0" fill="#7d93a6"/><circle cx="1882.7" cy="639.7" r="4.0" fill="#0000ff"/><circle cx="1882.7" cy="638.9" r="7.4" fill="#7da299"/><circle cx="1883.7" cy="639.3" r="4.0" fill="#0000ff"/><circle cx="1883.7" cy="638.5" r="7.0" fill="#7d93a6"/><circle cx="1885.7" cy="638.1" r="4.0" fill="#0000ff"/><circle cx="1885.7" cy="637.3" r="6.3" fill="#797abc"/><circle cx="1887.4" cy="637.0" r="4.0" fill="#0000ff"/><circle cx="1887.4" cy="636.2" r="6.5" fill="#7c83b4"/><circle cx="1889.5" cy="638.8" r="4.0" fill="#0000ff"/><circle cx="1889.5" cy="638.0" r="6.0" fill="#766fc4"/><circle cx="1890.7" cy="639.9" r="4.0" fill="#0000ff"/><circle cx="1890.7" cy="639.1" r="6.1" fill="#7773c1"/><circle cx="1892.9" cy="641.9" r="4.0" fill="#0000ff"/><circle cx="1892.9" cy="641.1" r="6.3" fill="#7a7abb"/><circle cx="1894.1" cy="643.0" r="4.0" fill="#0000ff"/><circle cx="1894.1" cy="642.2" r="6.8" fill="#7d8dab"/><circle cx="1895.2" cy="644.0" r="4.0" fill="#0000ff"/><circle cx="1895.2" cy="643.2" r="6.0" fill="#766fc4"/><circle cx="1898.9" cy="647.9" r="4.0" fill="#0000ff"/><circle cx="1898.9" cy="647.1" r="7.7" fill="#7bac90"/><circle cx="1899.4" cy="648.4" r="4.0" fill="#0000ff"/><circle cx="1899.4" cy="647.6" r="6.0" fill="#756dc6"/><circle cx="1901.6" cy="651.1" r="4.0" fill="#0000ff"/><circle cx="1901.6" cy="650.3" r="8.2" fill="#74c07c"/><circle cx="1906.4" cy="656.6" r="4.0" fill="#0000ff"/><circle cx="1906.4" cy="655.8" r="6.1" fill="#7773c1"/><circle cx="1908.4" cy="658.9" r="4.0" fill="#0000ff"/><circle cx="1909.6" cy="657.9" r="8.2" fill="#75bf7d"/><circle cx="1914.6" cy="665.0" r="4.0" fill="#0000ff"/><circle cx="1914.6" cy="664.2" r="7.0" fill="#7d96a4"/><circle cx="1916.2" cy="666.6" r="4.0" fill="#0000ff"/><circle cx="1916.2" cy="665.8" r="7.9" fill="#78b686"/><circle cx="1921.0" cy="671.4" r="4.0" fill="#0000ff"/><circle cx="1921.0" cy="670.6" r="6.4" fill="#7a7cb9"/><circle cx="1926.2" cy="675.9" r="4.0" fill="#0000ff"/><circle cx="1926.2" cy="675.1" r="6.7" fill="#7d8aae"/><circle cx="1927.2" cy="676.8" r="4.0" fill="#0000ff"/><circle cx="1927.2" cy="676.0" r="6.2" fill="#7875bf"/><circle cx="1931.6" cy="680.5" r="4.0" fill="#0000ff"/><circle cx="1931.6" cy="679.7" r="7.1" fill="#7d98a2"/><circle cx="1935.5" cy="684.0" r="4.0" fill="#0000ff"/><circle cx="1935.5" cy="683.2" r="6.0" fill="#766fc4"/><circle cx="1936.3" cy="684.7" r="4.0" fill="#0000ff"/><circle cx="1936.3" cy="683.9" r="7.3" fill="#7da09a"/><circle cx="1940.1" cy="688.3" r="4.0" fill="#0000ff"/><circle cx="1940.1" cy="687.5" r="6.5" fill="#7b82b4"/><circle cx="1942.6" cy="690.6" r="4.0" fill="#0000ff"/><circle cx="1942.6" cy="689.8" r="6.0" fill="#766ec5"/><circle cx="1944.7" cy="692.5" r="4.0" fill="#0000ff"/><circle cx="1947.1" cy="693.8" r="8.8" fill="#67d465"/><circle cx="1947.4" cy="695.0" r="4.0" fill="#0000ff"/><circle cx="1947.5" cy="693.0" r="8.8" fill="#67d465"/><circle cx="1949.5" cy="696.8" r="4.0" fill="#0000ff"/><circle cx="1949.5" cy="696.0" r="6.0" fill="#766ec5"/><circle cx="1950.2" cy="697.4" r="4.0" fill="#0000ff"/><circle cx="1950.2" cy="696.6" r="6.1" fill="#7874c0"/><circle cx="1952.8" cy="699.6" r="4.0" fill="#0000ff"/><circle cx="1952.8" cy="698.8" r="6.0" fill="#756dc6"/><circle cx="1955.9" cy="702.3" r="4.0" fill="#0000ff"/><circle cx="1955.9" cy="701.5" r="6.1" fill="#7874c0"/><circle cx="1959.3" cy="705.2" r="4.0" fill="#0000ff"/><circle cx="1959.3" cy="704.4" r="6.7" fill="#7d8bae"/><circle cx="1959.9" cy="705.6" r="4.0" fill="#0000ff"/><circle cx="1959.9" cy="704.8" r="8.3" fill="#72c478"/><circle cx="1963.3" cy="708.3" r="4.0" fill="#0000ff"/><circle cx="1963.3" cy="707.5" r="6.6" fill="#7c85b3"/><circle cx="1964.7" cy="709.4" r="4.0" fill="#0000ff"/><circle cx="1964.7" cy="708.6" r="7.2" fill="#7d9b9f"/><circle cx="1969.1" cy="712.9" r="4.0" fill="#0000ff"/><circle cx="1969.1" cy="712.1" r="7.1" fill="#7d96a4"/><circle cx="1970.6" cy="714.0" r="4.0" fill="#0000ff"/><circle cx="1970.6" cy="713.2" r="6.8" fill="#7d8bad"/><circle cx="1973.2" cy="716.4" r="4.0" fill="#0000ff"/><circle cx="1973.2" cy="715.6" r="6.2" fill="#7978bd"/><circle cx="1976.1" cy="719.4" r="4.0" fill="#0000ff"/><circle cx="1976.1" cy="718.6" r="6.1" fill="#7874c0"/><circle cx="1977.2" cy="720.7" r="4.0" fill="#0000ff"/><circle cx="1977.2" cy="719.9" r="6.0" fill="#7670c3"/><circle cx="1981.4" cy="725.2" r="4.0" fill="#0000ff"/><circle cx="1981.4" cy="724.4" r="6.4" fill="#7b80b7"/><circle cx="1984.6" cy="728.6" r="4.0" fill="#0000ff"/><circle cx="1986.8" cy="728.0" r="8.3" fill="#72c478"/><circle cx="1988.1" cy="731.5" r="4.0" fill="#0000ff"/><circle cx="1988.1" cy="730.7" r="6.8" fill="#7d8dab"/><circle cx="1989.5" cy="732.8" r="4.0" fill="#0000ff"/><circle cx="1989.5" cy="732.0" r="6.2" fill="#7876be"/><circle cx="1992.7" cy="735.5" r="4.0" fill="#0000ff"/><circle cx="1992.7" cy="734.7" r="6.5" fill="#7b82b5"/><circle cx="1995.6" cy="737.9" r="4.0" fill="#0000ff"/><circle cx="1995.6" cy="737.1" r="6.4" fill="#7b80b7"/><circle cx="2000.9" cy="743.4" r="4.0" fill="#0000ff"/><circle cx="2000.9" cy="742.6" r="6.6" fill="#7c85b3"/><circle cx="2002.5" cy="745.2" r="4.0" fill="#0000ff"/><circle cx="2002.5" cy="744.4" r="6.0" fill="#7670c3"/><circle cx="2005.4" cy="748.3" r="4.0" fill="#0000ff"/><circle cx="2005.4" cy="747.5" r="6.1" fill="#7874c0"/><circle cx="2008.9" cy="751.6" r="4.0" fill="#0000ff"/><circle cx="2008.9" cy="750.8" r="6.7" fill="#7d89af"/><circle cx="2012.7" cy="754.5" r="4.0" fill="#0000ff"/><circle cx="2012.7" cy="753.7" r="6.1" fill="#7772c2"/><circle cx="2014.7" cy="756.0" r="4.0" fill="#0000ff"/><circle cx="2014.7" cy="755.2" r="6.7" fill="#7c87b0"/><circle cx="2018.1" cy="760.4" r="4.0" fill="#0000ff"/><circle cx="2018.1" cy="759.6" r="8.1" fill="#76bc80"/><circle cx="2022.4" cy="765.5" r="4.0" fill="#0000ff"/><circle cx="2022.4" cy="764.7" r="6.2" fill="#7978bd"/><circle cx="2025.3" cy="768.3" r="4.0" fill="#0000ff"/><circle cx="2025.3" cy="767.5" r="8.1" fill="#77ba82"/><circle cx="2026.6" cy="769.7" r="4.0" fill="#0000ff"/><circle cx="2026.6" cy="768.9" r="6.5" fill="#7c84b4"/><circle cx="2028.7" cy="771.7" r="4.0" fill="#0000ff"/><circle cx="2028.7" cy="770.9" r="7.8" fill="#7ab28a"/><circle cx="2033.9" cy="776.5" r="4.0" fill="#0000ff"/><circle cx="2033.9" cy="775.7" r="6.4" fill="#7b7fb8"/><circle cx="2036.4" cy="778.8" r="4.0" fill="#0000ff"/><circle cx="2036.4" cy="778.0" r="6.8" fill="#7d8faa"/><circle cx="2039.0" cy="780.7" r="8.8" fill="#67d465"/><circle cx="2039.0" cy="781.2" r="4.0" fill="#0000ff"/><circle cx="2039.5" cy="781.6" r="8.8" fill="#67d465"/><circle cx="2041.4" cy="783.3" r="4.0" fill="#0000ff"/><circle cx="2045.9" cy="787.5" r="4.0" fill="#0000ff"/><circle cx="2045.9" cy="786.7" r="6.4" fill="#7b7fb8"/><circle cx="2047.3" cy="788.7" r="4.0" fill="#0000ff"/><circle cx="2047.3" cy="787.9" r="6.5" fill="#7b82b5"/><circle cx="2049.6" cy="790.9" r="4.0" fill="#0000ff"/><circle cx="2049.6" cy="790.1" r="6.3" fill="#7a7cba"/><circle cx="2052.3" cy="793.6" r="4.0" fill="#0000ff"/><circle cx="2052.3" cy="792.8" r="6.6" fill="#7c87b1"/><circle cx="2056.4" cy="797.8" r="4.0" fill="#0000ff"/><circle cx="2056.4" cy="797.0" r="7.5" fill="#7ca696"/><circle cx="2060.9" cy="802.4" r="4.0" fill="#0000ff"/><circle cx="2060.9" cy="801.6" r="7.0" fill="#7d93a6"/><circle cx="2063.8" cy="805.4" r="4.0" fill="#0000ff"/><circle cx="2064.4" cy="805.6" r="9.7" fill="#39f431"/><circle cx="2067.2" cy="808.7" r="6.7" fill="#7d8bae"/><circle cx="2069.8" cy="811.5" r="7.2" fill="#7d9d9e"/><circle cx="2070.6" cy="812.5" r="4.0" fill="#0000ff"/><circle cx="2070.6" cy="811.7" r="6.0" fill="#7670c3"/><circle cx="2072.4" cy="813.9" r="6.1" fill="#7771c2"/><circle cx="2073.9" cy="815.9" r="4.0" fill="#0000ff"/><circle cx="2073.9" cy="815.1" r="6.7" fill="#7d8aae"/><circle cx="2074.9" cy="816.4" r="6.0" fill="#766fc4"/><circle cx="2077.5" cy="819.7" r="6.2" fill="#7978bd"/><circle cx="2077.6" cy="819.8" r="4.0" fill="#0000ff"/><circle cx="2077.6" cy="819.0" r="6.6" fill="#7c85b3"/><circle cx="2080.1" cy="822.0" r="6.4" fill="#7a7db9"/><circle cx="2082.7" cy="825.0" r="6.7" fill="#7d8bae"/><circle cx="2083.2" cy="825.6" r="4.0" fill="#0000ff"/><circle cx="2083.2" cy="824.8" r="7.7" fill="#7aaf8d"/><circle cx="2085.3" cy="827.5" r="6.2" fill="#7875bf"/><circle cx="2087.6" cy="830.2" r="4.0" fill="#0000ff"/><circle cx="2087.6" cy="829.4" r="5.9" fill="#756cc6"/><circle cx="2087.9" cy="829.7" r="6.8" fill="#7d8dac"/><circle cx="2088.4" cy="830.4" r="6.5" fill="#7b82b5"/><circle cx="2089.5" cy="831.7" r="6.2" fill="#7875bf"/><circle cx="2090.7" cy="833.1" r="6.9" fill="#7d92a7"/><circle cx="2091.8" cy="834.4" r="6.0" fill="#766ec5"/><circle cx="2092.3" cy="835.1" r="4.0" fill="#0000ff"/><circle cx="2092.3" cy="834.3" r="6.1" fill="#7771c2"/><circle cx="2092.9" cy="835.0" r="6.5" fill="#7b82b4"/><circle cx="2094.0" cy="836.4" r="6.1" fill="#7772c2"/><circle cx="2095.1" cy="837.7" r="6.0" fill="#756ec5"/><circle cx="2096.2" cy="839.1" r="6.4" fill="#7a7cb9"/><circle cx="2096.3" cy="839.3" r="4.0" fill="#0000ff"/><circle cx="2096.3" cy="838.5" r="8.3" fill="#72c478"/><circle cx="2097.3" cy="839.7" r="6.4" fill="#7b7fb8"/><circle cx="2098.4" cy="841.0" r="6.5" fill="#7c84b4"/><circle cx="2099.5" cy="842.3" r="6.2" fill="#7978bd"/><circle cx="2100.6" cy="843.7" r="7.7" fill="#7bac90"/><circle cx="2101.0" cy="844.2" r="4.0" fill="#0000ff"/><circle cx="2101.0" cy="843.4" r="6.2" fill="#7978bd"/><circle cx="2101.7" cy="844.2" r="6.9" fill="#7d92a7"/><circle cx="2102.8" cy="845.6" r="6.0" fill="#7670c3"/><circle cx="2104.0" cy="846.9" r="5.9" fill="#756cc6"/><circle cx="2105.1" cy="848.3" r="8.0" fill="#77ba82"/><circle cx="2105.4" cy="848.7" r="4.0" fill="#0000ff"/><circle cx="2105.4" cy="847.9" r="6.7" fill="#7d8aae"/><circle cx="2106.2" cy="848.8" r="6.3" fill="#797abc"/>
<path class="ln" d="M291.1 851.0L292.8 853.0L292.8 846.6L293.8 847.7L293.8 841.2L295.1 842.7L295.1 836.3L298.5 840.1L300.6 842.6L300.6 836.8L302.8 839.3L302.8 833.5L302.9 833.5L302.9 827.7L306.2 831.5L306.2 825.7L307.7 827.4L307.7 821.6L308.6 822.7L308.6 816.1L309.6 817.2L309.6 810.6L310.5 811.6L310.5 805.0L313.8 808.8L313.8 804.3L314.7 805.4L314.7 800.9L315.1 801.3L315.7 802.0L315.7 795.1L320.8 800.9L320.8 794.0L321.6 794.9L325.3 801.3L329.0 805.6L329.0 800.4L335.1 806.9L336.8 808.9L336.8 803.3L337.0 803.5L337.0 797.9L337.6 798.6L337.6 793.0L340.0 795.8L340.5 796.3L340.5 791.2L341.0 791.7L341.0 786.5L346.0 792.3L346.0 785.4L346.3 785.8L346.3 778.9L346.5 779.2L347.9 780.7L347.9 776.4L349.3 778.0L349.3 773.6L351.1 774.5L352.0 775.6L352.0 770.5L353.0 771.6L353.0 766.5L353.9 767.6L353.9 762.5L354.1 762.8L354.1 757.3L357.4 761.1L357.4 755.7L357.9 756.2L357.9 750.8L358.5 751.4L359.1 752.1L359.1 747.1L359.7 747.8L359.7 742.8L360.4 743.5L360.4 738.5L361.3 739.6L361.3 734.8L362.2 735.9L362.2 731.1L363.1 732.2L363.1 727.4L363.7 728.1L363.7 723.1L364.4 723.8L364.4 718.8L365.0 719.5L365.0 714.5L368.1 718.0L368.1 713.5L368.3 713.7L368.3 709.1L368.5 709.4L368.5 704.8L370.5 707.1L375.1 710.8L376.1 711.9L376.1 707.1L377.0 708.2L377.0 703.4L377.9 704.5L377.9 699.7L378.0 699.8L378.0 694.4L380.6 697.4L380.6 691.9L382.5 694.2L384.2 696.0L384.2 691.2L384.7 691.8L384.7 687.0L385.7 688.1L385.7 683.2L387.1 684.9L390.8 688.6L391.5 689.3L391.5 684.9L392.1 685.6L392.1 681.2L392.7 681.9L392.7 677.5L393.3 678.2L393.3 673.8L393.9 674.6L393.9 670.2L394.5 670.9L394.5 666.5L396.6 668.9L396.6 663.1L397.3 663.8L397.3 657.9L398.2 659.1L398.7 659.6L398.7 653.5L399.2 654.1L399.2 648.0L400.3 649.3L400.3 644.2L400.4 639.2L402.2 641.3L402.2 636.2L402.9 636.9L404.2 638.5L404.2 633.2L405.6 634.8L405.6 629.5L406.3 630.3L406.3 624.5L408.6 627.1L408.6 621.3L409.3 622.1L410.6 623.6L410.6 619.1L411.7 620.3L411.7 615.9L412.3 616.6L412.3 612.1L413.0 612.9L416.7 617.1L416.7 614.7L417.0 615.1L417.0 610.7L417.3 611.1L417.3 606.7L417.6 607.1L417.6 602.7L420.8 606.4L420.8 601.7L424.5 605.9L424.5 601.2L424.7 601.4L424.7 596.8L425.0 597.2L427.8 602.7L429.1 604.2L429.1 600.5L429.7 601.3L429.7 597.6L433.3 601.8L439.8 609.2L440.0 609.4L440.0 604.0L443.1 607.7L443.1 602.3L443.5 602.7L443.6 602.8L443.6 599.2L446.2 602.2L446.2 598.6L448.1 600.9L452.7 610.1L453.0 610.4L453.0 605.8L453.3 606.1L453.3 601.4L453.6 601.8L453.6 597.1L453.9 597.4L453.9 592.7L454.2 593.1L454.2 588.4L455.3 589.6L455.3 585.4L457.1 587.5L457.1 583.2L458.7 585.0L458.7 580.8L459.7 581.9L460.3 582.6L460.3 577.9L461.0 578.6L461.0 573.9L461.6 574.6L461.6 569.9L464.3 573.0L464.3 568.9L464.6 569.3L464.6 565.1L468.0 569.0L468.4 569.4L468.4 565.2L468.7 565.5L468.7 561.2L473.4 566.6L473.4 562.4L473.6 562.5L474.9 564.1L474.9 560.2L475.7 561.1L475.7 557.3L476.0 557.5L476.0 553.6L477.3 555.1L477.6 555.6L477.6 551.6L478.1 552.2L478.1 548.2L479.0 549.3L479.0 545.4L481.9 548.7L482.5 549.4L482.5 545.9L483.1 546.6L483.1 543.1L483.7 543.8L483.7 540.4L485.1 541.9L485.1 537.3L486.7 539.2L486.7 534.6L487.6 535.6L487.6 531.0L489.3 533.0L491.0 534.9L491.0 530.6L494.4 534.5L494.4 530.2L495.1 531.0L495.1 526.7L495.7 527.4L499.9 532.2L499.9 528.6L500.7 529.5L500.7 526.0L501.2 526.5L501.2 523.0L503.1 525.2L503.7 525.9L503.7 522.6L503.8 519.3L509.6 525.9L517.9 536.7L518.4 537.2L518.4 533.3L520.4 535.6L520.4 531.8L521.0 532.5L521.0 528.6L521.6 529.3L529.0 537.7L529.0 533.9L529.9 534.9L529.9 530.5L530.8 531.6L530.8 527.1L531.8 528.2L531.8 523.7L533.8 526.0L533.8 522.7L538.7 528.2L538.7 524.9L540.1 526.5L542.5 529.2L542.5 526.0L542.6 526.2L542.6 522.9L546.5 527.4L546.9 527.8L546.9 524.3L547.2 524.7L547.2 521.3L547.5 521.6L547.5 518.2L550.6 521.8L550.6 517.3L551.0 517.7L551.0 513.2L552.1 514.5L552.6 515.1L552.6 511.8L552.9 512.1L552.9 508.7L556.2 512.5L556.2 509.2L557.6 510.8L558.3 511.6L558.3 508.0L559.0 508.8L559.0 505.3L559.7 506.0L559.7 502.5L560.4 503.3L560.4 499.7L561.6 501.1L561.6 497.5L562.3 498.3L562.3 494.6L563.1 495.5L563.1 491.9L564.3 493.3L564.3 489.7L565.0 490.5L570.6 496.8L570.6 494.2L576.1 500.5L576.1 496.9L576.8 497.7L576.8 494.4L577.5 495.2L577.5 491.9L578.2 492.7L578.2 489.3L578.9 490.1L578.9 486.8L580.6 488.8L580.6 485.5L581.6 486.6L581.6 483.4L582.4 484.3L582.4 481.1L582.6 481.2L586.3 484.0L587.0 484.8L587.0 481.5L587.7 482.3L587.7 478.9L588.3 479.7L588.3 476.4L589.0 477.2L589.0 473.8L602.0 490.5L603.4 492.1L603.4 487.7L604.7 489.3L604.7 484.9L605.7 486.0L605.7 482.5L606.6 483.5L606.6 480.0L607.5 481.1L607.5 477.5L607.5 474.2L609.4 476.3L609.4 473.0L611.3 475.1L611.3 471.8L613.1 473.8L618.6 480.2L618.6 475.7L619.1 476.2L619.1 472.7L619.5 473.2L619.5 469.7L620.0 470.2L620.0 466.7L620.4 467.2L620.4 463.7L625.3 469.3L625.3 465.6L625.4 465.7L625.4 462.0L626.9 463.7L627.9 464.8L627.9 461.7L628.9 462.9L628.9 459.8L629.4 460.4L629.4 457.3L629.7 457.7L629.7 454.6L630.5 455.5L630.5 452.4L630.6 452.6L635.2 457.9L635.2 453.5L635.9 454.3L635.9 451.0L636.0 451.1L636.0 447.8L637.1 449.0L637.1 445.7L639.2 448.2L639.2 444.9L640.4 446.2L640.4 442.9L640.8 443.4L641.2 443.9L641.2 440.8L643.5 443.4L643.5 440.4L644.4 441.5L644.4 438.5L644.7 438.8L644.7 435.8L648.3 439.9L648.3 436.9L649.6 438.4L649.6 435.4L650.9 436.9L651.4 437.4L651.4 433.8L651.4 433.9L651.4 430.2L654.3 433.5L654.3 429.9L654.5 430.1L654.5 426.5L655.5 427.7L656.4 428.7L656.4 426.0L657.4 427.1L657.4 424.5L660.2 427.7L670.3 439.3L670.3 435.1L671.7 436.7L671.7 433.6L672.4 434.3L672.4 431.3L673.3 432.3L673.3 429.3L673.6 429.6L673.6 426.6L673.8 426.8L673.8 423.8L674.0 424.0L674.9 425.0L674.9 422.0L676.1 423.4L676.1 420.3L676.3 420.5L676.3 417.5L676.4 417.6L676.4 414.6L677.1 415.3L677.1 412.3L677.6 412.9L677.6 409.8L678.6 411.0L679.2 411.7L679.2 408.9L680.4 410.2L680.4 407.4L681.3 408.5L681.3 405.7L682.6 407.2L682.6 404.4L686.0 408.3L692.5 415.7L692.5 413.8L693.4 414.9L693.4 411.3L694.3 412.4L694.3 408.9L695.3 409.9L695.3 406.4L695.5 406.7L695.5 403.3L695.9 403.8L695.9 400.4L698.0 402.8L698.0 399.5L700.8 402.7L705.4 408.0L705.4 406.4L706.0 407.1L706.0 404.0L706.5 404.7L706.5 401.6L707.1 402.3L707.1 399.2L707.6 399.8L707.6 396.8L708.2 397.4L708.2 394.4L709.4 395.8L709.4 393.6L711.5 395.9L711.5 393.7L713.7 396.3L714.5 397.1L714.5 393.9L714.5 394.0L714.5 390.8L715.5 391.9L715.5 388.8L717.6 391.1L717.7 391.3L717.7 388.5L717.9 388.8L717.9 386.0L719.8 388.2L719.8 385.5L720.0 385.7L720.0 383.0L720.3 383.2L720.3 380.5L723.1 383.7L723.8 384.5L723.8 381.5L725.0 382.9L725.0 379.8L726.5 381.6L726.5 378.6L728.6 381.0L730.3 382.8L730.3 379.9L730.4 380.0L730.4 377.1L730.6 377.4L730.6 374.5L735.1 379.7L742.5 389.3L743.4 390.3L743.4 387.4L744.3 388.5L744.3 385.6L745.3 386.6L745.3 383.7L752.7 393.0L753.3 393.8L753.3 391.1L754.0 391.9L754.0 389.3L754.7 390.1L754.7 387.4L755.4 388.2L755.4 385.6L762.8 393.9L763.2 394.3L763.2 391.5L763.6 391.9L763.6 389.1L763.9 389.5L763.9 386.7L764.3 387.1L764.3 384.3L764.7 384.7L764.7 381.9L765.8 383.2L765.8 380.4L766.8 381.6L766.8 378.8L769.1 381.4L769.1 378.6L770.7 380.4L770.7 377.7L771.1 378.2L772.2 379.4L772.2 376.9L772.9 377.6L772.9 375.0L774.2 376.6L774.2 374.0L775.8 375.8L775.8 373.2L776.2 373.6L776.2 371.0L777.6 372.6L786.8 383.7L787.2 384.1L787.2 381.1L787.7 381.7L787.7 378.6L789.2 380.3L789.2 377.3L789.9 378.1L789.9 375.0L790.1 375.2L790.1 372.1L790.5 372.6L791.0 373.2L791.0 370.4L791.1 370.6L791.1 367.9L793.7 370.8L793.7 368.0L794.1 368.5L794.1 365.8L796.1 368.0L796.5 368.6L796.5 365.7L797.0 366.2L797.0 363.4L797.5 363.9L797.5 361.1L797.9 361.6L797.9 358.8L798.4 359.3L798.4 356.5L798.8 357.0L798.8 354.2L800.2 355.8L800.2 353.2L801.6 354.8L801.6 352.3L802.2 353.0L802.2 350.7L805.0 353.9L805.0 351.5L809.0 356.0L815.5 363.4L817.1 365.2L817.1 362.2L819.0 364.4L819.0 361.4L819.5 362.0L819.5 359.0L820.1 359.7L820.8 360.6L820.8 357.9L821.8 359.0L821.8 356.4L822.1 356.7L822.1 354.1L823.8 356.0L824.1 356.4L824.1 353.9L824.4 354.2L824.4 351.7L824.7 352.1L824.7 349.6L825.0 349.9L825.0 347.4L825.3 347.7L825.3 345.2L825.6 345.6L825.6 343.1L828.3 346.2L828.3 343.7L828.9 344.3L828.9 341.9L829.1 342.1L829.1 339.7L829.3 339.9L829.3 337.5L831.6 340.1L831.6 337.6L833.6 339.9L833.6 337.4L834.4 338.4L834.4 335.9L834.8 336.3L834.8 333.8L839.5 339.4L839.6 339.6L839.6 336.9L840.5 337.9L840.5 335.1L840.8 335.4L840.8 332.7L841.1 333.1L841.1 330.4L842.2 331.7L842.2 329.0L842.2 326.3L843.2 327.4L847.8 333.8L848.7 334.9L848.7 332.4L849.5 333.3L849.5 330.8L849.8 331.2L849.8 328.7L849.9 328.7L849.9 326.3L850.4 326.8L850.4 324.3L850.7 324.7L850.7 322.2L850.8 322.3L850.8 319.9L853.3 322.8L854.3 323.8L854.3 321.2L855.2 322.3L855.2 319.7L856.1 320.7L856.1 318.1L862.6 324.6L862.6 324.7L862.6 322.0L862.7 322.1L862.7 319.4L863.4 320.2L863.4 317.5L864.6 318.8L864.6 316.1L867.2 319.1L871.8 324.6L879.2 333.1L879.2 329.2L881.6 332.0L881.6 329.4L882.7 330.7L882.7 328.2L882.9 328.5L882.9 326.0L884.3 327.5L884.3 325.0L884.7 325.5L884.9 325.7L884.9 323.3L885.8 324.4L885.8 322.0L886.5 322.8L886.5 320.4L888.9 323.1L888.9 320.7L890.5 322.6L890.5 320.2L891.2 320.9L891.9 321.7L891.9 319.1L892.6 319.9L892.6 317.2L893.3 318.0L893.3 315.4L894.0 316.2L894.0 313.5L894.3 314.0L894.3 311.5L894.7 311.9L894.7 309.5L895.1 309.9L895.1 307.4L895.5 307.9L895.5 305.4L895.8 305.8L895.8 303.4L900.4 308.0L903.6 311.6L903.6 309.4L904.0 309.9L904.0 307.7L904.2 307.9L904.2 305.8L906.9 308.9L907.6 309.7L907.6 307.0L908.8 308.4L908.8 305.7L909.3 306.2L909.3 303.6L910.2 304.6L910.2 301.9L910.5 302.2L910.5 299.5L910.6 299.7L911.6 300.8L911.6 298.4L912.7 299.7L912.7 297.3L918.0 303.4L918.5 304.0L918.5 301.2L919.3 302.1L919.3 299.3L921.4 301.7L921.4 298.9L922.8 300.5L922.8 297.8L924.5 299.7L925.9 301.4L925.9 298.6L927.1 300.0L927.1 297.3L927.5 297.7L927.5 294.9L930.0 297.8L935.5 305.2L939.9 310.2L939.9 308.4L942.0 310.7L942.0 308.9L943.6 310.8L943.6 308.5L943.8 308.6L943.8 306.3L949.6 313.0L949.6 310.7L951.2 312.6L953.3 315.0L953.3 312.8L954.1 313.7L954.1 311.5L958.5 316.6L958.5 314.3L958.6 314.5L960.2 316.3L960.2 313.7L966.4 320.8L966.4 318.3L966.9 318.8L966.9 316.3L967.0 316.4L967.0 314.1L968.3 315.6L968.3 313.2L968.5 313.4L968.5 311.1L969.5 312.2L969.5 309.9L970.3 310.8L970.3 308.4L970.4 308.6L970.4 306.3L971.4 307.4L971.7 307.7L971.7 305.5L972.3 306.3L972.3 304.1L972.5 304.3L972.5 302.1L972.9 302.5L972.9 300.3L976.8 304.8L976.8 302.6L976.9 302.8L977.4 303.3L977.4 300.8L977.6 301.1L977.6 298.6L978.4 299.5L978.4 297.1L979.0 297.7L979.0 295.2L979.3 295.6L979.3 293.1L979.4 293.3L979.4 290.8L979.7 291.1L979.7 288.6L981.6 290.8L983.4 292.8L983.4 290.5L983.8 291.0L983.8 288.7L985.7 290.9L985.7 288.6L987.8 291.0L987.8 288.7L988.0 288.9L1000.0 302.7L1000.0 300.9L1000.3 301.2L1000.3 299.1L1001.8 300.8L1001.8 298.6L1003.6 300.7L1003.6 298.5L1004.0 298.9L1004.0 296.7L1004.0 294.6L1004.7 295.4L1007.1 298.1L1007.1 295.9L1007.2 296.1L1007.2 293.9L1007.9 294.7L1007.9 292.5L1008.9 293.5L1008.9 291.3L1010.3 293.0L1010.3 290.8L1011.1 291.7L1016.6 297.9L1016.6 295.6L1016.6 293.3L1020.5 297.7L1020.5 295.4L1021.3 296.3L1021.8 296.9L1021.8 294.7L1022.6 295.5L1022.6 293.3L1023.0 293.8L1023.0 291.5L1023.5 292.0L1023.5 289.7L1025.3 291.9L1025.3 289.6L1025.4 287.4L1025.9 288.0L1027.9 290.3L1027.9 288.0L1027.9 285.8L1028.8 286.8L1028.8 284.6L1029.0 284.7L1029.0 282.5L1030.5 284.3L1030.6 284.4L1030.6 281.8L1032.9 284.5L1032.9 281.9L1033.2 282.3L1033.2 279.8L1035.5 282.4L1035.5 279.9L1036.1 280.6L1036.2 280.7L1036.2 278.5L1036.5 278.8L1036.5 276.6L1037.1 277.4L1037.1 275.2L1038.5 276.7L1038.5 274.5L1038.7 274.8L1038.7 272.6L1039.0 273.0L1039.0 270.7L1040.4 272.3L1040.4 270.1L1040.7 270.4L1045.7 276.1L1045.7 274.3L1046.6 275.3L1046.6 273.5L1047.1 274.1L1052.7 280.5L1052.7 278.7L1053.9 280.2L1053.9 278.3L1058.3 283.3L1058.3 281.5L1059.2 282.4L1059.7 283.1L1059.7 280.6L1060.3 281.2L1060.3 278.7L1060.8 279.4L1060.8 276.9L1061.4 277.5L1061.4 275.1L1061.9 275.7L1061.9 273.2L1062.9 274.3L1062.9 271.8L1063.3 272.3L1063.3 269.8L1064.1 270.7L1064.1 268.1L1064.2 268.2L1064.2 265.7L1067.5 269.5L1068.4 270.6L1068.4 268.4L1068.7 268.7L1068.7 266.4L1069.7 267.6L1069.7 265.3L1070.8 266.7L1070.8 264.5L1071.2 264.9L1071.2 262.6L1071.3 262.8L1071.3 260.6L1071.6 260.9L1071.6 258.7L1073.0 260.3L1075.6 263.2L1075.6 260.8L1080.3 266.2L1080.3 263.9L1080.4 264.0L1081.0 264.7L1081.0 262.5L1082.3 264.0L1082.3 261.8L1083.3 263.1L1083.3 260.9L1083.6 261.3L1083.6 259.1L1084.5 260.1L1084.5 257.9L1085.1 258.7L1085.1 256.6L1085.9 257.5L1088.9 260.9L1088.9 258.7L1090.6 260.6L1090.6 258.4L1090.8 258.7L1090.8 256.5L1090.9 254.4L1091.4 255.0L1091.4 252.8L1091.5 252.9L1092.0 253.5L1092.0 251.4L1093.3 252.9L1093.3 250.9L1094.0 251.8L1094.0 249.8L1094.1 247.8L1096.1 250.1L1102.6 257.5L1102.6 255.7L1115.5 269.5L1117.7 272.0L1117.7 269.8L1118.1 270.3L1118.1 268.2L1122.0 272.7L1122.0 270.5L1128.4 277.8L1129.1 278.6L1129.1 276.6L1131.2 279.0L1131.2 277.0L1131.6 277.4L1131.6 275.4L1138.6 283.4L1146.9 292.6L1147.6 293.4L1147.6 291.2L1148.8 292.6L1148.8 290.3L1149.0 290.6L1149.0 288.4L1150.5 290.0L1150.5 287.8L1150.6 288.0L1152.1 289.7L1152.1 287.8L1155.5 291.7L1155.5 289.8L1157.1 291.7L1157.4 292.0L1157.4 289.8L1157.7 290.2L1157.7 288.0L1158.0 288.3L1158.0 286.1L1158.3 286.5L1158.3 284.3L1158.6 284.6L1158.6 282.4L1158.9 282.8L1158.9 280.6L1159.5 281.2L1159.5 278.7L1163.6 283.4L1163.6 280.9L1165.5 283.1L1165.5 280.5L1165.9 281.1L1165.9 278.6L1170.9 284.3L1171.3 284.8L1171.3 282.2L1174.4 285.7L1174.4 283.2L1180.2 289.8L1181.6 291.5L1181.6 289.0L1189.2 297.7L1189.2 295.2L1189.4 295.4L1197.7 304.6L1198.3 305.2L1198.3 303.1L1198.8 303.8L1198.8 301.7L1199.4 302.3L1199.4 300.2L1199.9 300.8L1199.9 298.7L1200.5 299.3L1200.5 297.2L1204.1 301.4L1204.1 298.8L1207.7 303.0L1207.7 300.5L1209.7 302.8L1211.1 303.1L1211.1 300.9L1211.9 302.6L1211.9 300.4L1212.9 300.9L1215.2 301.1L1215.2 298.9L1217.6 299.1L1219.1 301.9L1219.1 299.7L1220.4 303.4L1220.4 301.2L1222.8 306.2L1222.8 304.0L1224.0 306.5L1226.9 308.4L1226.9 306.2L1229.2 309.1L1229.2 306.9L1233.3 309.2L1233.7 310.6L1233.7 308.4L1234.1 310.8L1234.1 308.6L1239.1 314.0L1239.1 311.8L1240.6 313.8L1240.8 315.0L1240.8 312.8L1244.7 316.0L1244.7 313.8L1246.6 316.4L1246.6 314.2L1248.0 315.7L1250.1 316.5L1250.1 314.3L1251.7 316.3L1251.7 314.1L1253.8 316.1L1253.8 313.9L1255.4 314.8L1256.7 316.6L1256.7 314.4L1259.8 318.4L1259.8 316.2L1261.1 319.1L1261.1 316.9L1261.9 318.5L1263.2 321.9L1263.2 319.8L1266.1 327.3L1266.1 325.1L1267.4 328.6L1267.7 329.1L1267.7 326.9L1270.6 323.4L1270.6 321.3L1271.1 321.2L1273.4 322.8L1273.4 320.6L1275.6 323.2L1275.6 321.1L1275.7 322.2L1277.9 325.0L1277.9 322.9L1279.5 326.2L1279.5 324.1L1281.1 327.5L1281.1 325.4L1283.2 329.2L1283.2 327.1L1285.0 329.6L1285.9 330.1L1285.9 328.0L1287.7 329.3L1287.7 327.2L1290.7 327.7L1290.7 325.6L1292.4 325.9L1292.6 327.0L1292.6 324.8L1296.6 328.0L1296.6 325.9L1299.0 328.6L1299.0 326.5L1301.8 329.3L1301.8 327.2L1303.5 328.6L1304.7 330.6L1304.7 328.5L1306.6 332.0L1306.6 330.0L1308.9 333.7L1308.9 331.6L1310.8 334.2L1311.0 335.3L1311.0 333.3L1312.9 336.8L1312.9 334.7L1317.5 340.2L1317.5 338.1L1318.2 339.7L1319.4 341.3L1319.4 339.2L1321.1 342.0L1321.1 339.9L1324.7 342.5L1326.3 342.4L1326.3 340.4L1328.2 341.2L1328.2 339.1L1330.2 338.8L1331.2 340.3L1331.2 338.3L1333.5 341.6L1333.5 339.6L1335.4 342.6L1335.4 340.6L1338.6 343.4L1340.2 345.4L1340.2 343.4L1340.6 345.7L1340.6 343.7L1343.3 347.4L1343.3 345.4L1345.9 348.0L1346.5 349.5L1346.5 347.5L1346.8 349.7L1346.8 347.7L1349.7 352.2L1349.7 350.2L1351.5 352.6L1352.1 353.8L1352.1 351.8L1353.9 354.1L1353.9 352.1L1357.8 354.9L1357.8 352.9L1358.9 355.1L1358.9 353.1L1360.3 355.4L1360.3 353.4L1360.7 354.5L1363.4 349.2L1363.4 347.2L1363.5 348.0L1364.5 348.3L1364.5 346.4L1366.3 346.2L1367.9 349.1L1367.9 347.2L1370.2 351.7L1370.2 349.7L1371.8 352.6L1372.1 353.7L1372.1 351.7L1372.3 353.7L1372.3 351.8L1375.3 354.2L1375.3 352.2L1376.4 354.4L1376.4 352.4L1378.5 354.7L1378.5 352.8L1380.0 355.0L1380.0 353.0L1381.9 355.3L1381.9 353.4L1382.9 354.5L1383.6 355.5L1383.6 353.6L1387.1 355.8L1387.1 353.8L1388.2 355.8L1388.2 353.9L1392.5 356.1L1392.5 354.2L1392.6 356.1L1392.6 354.2L1395.8 355.4L1397.0 356.9L1397.0 355.0L1397.5 357.2L1397.5 355.3L1399.5 358.2L1399.5 356.3L1402.7 359.8L1402.7 357.9L1404.2 360.6L1404.2 358.7L1406.5 361.7L1406.5 359.8L1406.9 361.0L1407.8 362.4L1407.8 360.5L1409.9 363.4L1409.9 361.5L1410.7 363.8L1410.7 361.9L1413.5 365.2L1413.5 363.3L1415.0 365.9L1415.0 364.1L1417.6 367.3L1417.6 365.4L1417.7 367.3L1417.7 365.4L1418.0 366.5L1419.7 364.4L1419.7 362.6L1421.7 360.0L1422.7 360.8L1422.7 358.9L1424.8 360.4L1424.8 358.6L1425.7 360.3L1425.7 358.4L1428.0 359.9L1428.0 358.1L1429.5 359.7L1429.5 357.8L1431.0 359.4L1431.0 357.6L1432.8 358.2L1433.0 359.3L1433.0 357.4L1435.0 360.8L1435.0 358.9L1435.8 361.3L1435.8 359.5L1438.0 363.0L1438.0 361.2L1440.2 363.7L1440.7 364.5L1440.7 362.7L1441.8 364.3L1441.8 362.5L1444.8 363.7L1444.8 361.9L1444.8 362.8L1446.9 365.8L1446.9 364.0L1450.1 369.1L1450.1 367.3L1451.2 369.3L1454.3 370.2L1454.3 368.4L1457.7 369.3L1457.8 370.2L1457.8 368.4L1461.7 375.0L1461.7 373.2L1463.5 377.2L1463.5 375.5L1466.0 379.4L1466.0 380.3L1466.0 378.6L1469.5 382.1L1469.5 380.3L1471.6 383.1L1471.6 381.3L1475.3 384.1L1475.4 385.0L1475.4 383.3L1480.7 389.0L1480.7 387.2L1482.7 389.6L1484.5 390.2L1484.5 388.5L1486.7 389.9L1486.7 388.1L1489.1 388.7L1490.0 390.6L1490.0 388.9L1492.9 394.2L1492.9 392.5L1496.1 398.1L1496.1 396.4L1499.5 402.3L1499.5 400.6L1500.3 402.4L1501.4 403.9L1501.4 402.2L1505.8 406.6L1505.8 404.9L1508.0 407.9L1508.0 406.2L1509.6 408.0L1510.6 408.6L1510.6 407.0L1514.0 408.0L1514.0 406.3L1515.7 407.7L1515.7 406.0L1519.7 406.1L1520.4 407.8L1520.4 406.1L1523.0 411.2L1523.0 409.5L1524.5 413.1L1524.5 411.4L1526.2 414.5L1527.7 416.2L1527.7 414.5L1528.9 417.0L1528.9 415.3L1531.0 418.3L1531.0 416.6L1533.2 419.7L1533.2 418.0L1535.4 421.0L1535.4 419.4L1539.0 423.3L1539.0 421.7L1541.0 423.7L1541.9 424.6L1541.9 422.9L1544.7 424.8L1544.7 423.1L1545.5 424.8L1545.5 423.2L1549.1 425.1L1549.1 423.5L1550.5 425.2L1550.5 423.6L1552.2 425.3L1552.2 423.7L1553.9 424.6L1554.4 425.9L1554.4 424.3L1556.3 427.5L1556.3 425.9L1557.8 428.9L1557.8 427.3L1560.2 431.0L1560.2 429.4L1562.2 432.0L1562.6 432.7L1562.6 431.1L1564.7 432.3L1564.7 430.7L1566.9 431.8L1566.9 430.2L1567.4 431.6L1567.4 430.1L1570.5 430.2L1570.8 431.1L1570.8 429.5L1572.7 432.6L1572.7 431.0L1574.8 434.0L1574.8 432.5L1577.5 436.0L1577.5 434.4L1577.8 436.2L1577.8 434.6L1580.7 437.5L1581.1 438.2L1581.1 436.6L1583.4 437.4L1583.4 435.8L1583.9 437.2L1583.9 435.7L1586.2 435.7L1587.6 438.4L1587.6 436.8L1591.4 443.9L1591.4 442.3L1592.4 445.3L1592.4 443.7L1592.7 444.9L1596.6 446.4L1596.6 444.8L1598.2 445.9L1599.3 448.0L1599.3 446.5L1600.6 449.7L1600.6 448.2L1602.4 452.1L1602.4 450.6L1605.5 456.1L1605.5 454.6L1607.5 457.9L1610.6 459.7L1610.6 458.2L1612.3 460.4L1612.3 458.8L1615.0 461.3L1615.0 459.8L1618.9 462.7L1618.9 461.2L1620.4 462.5L1624.0 465.9L1624.0 464.4L1625.1 466.6L1625.1 465.1L1627.5 468.4L1627.5 466.9L1630.6 469.9L1633.8 473.4L1633.8 472.0L1635.0 474.5L1635.0 473.0L1638.7 477.8L1638.7 476.3L1644.2 482.6L1644.2 481.2L1645.2 483.5L1645.2 482.1L1646.3 483.7L1647.8 485.3L1647.8 483.9L1652.7 488.2L1652.7 486.8L1653.6 488.8L1653.6 487.3L1656.0 490.1L1656.0 488.7L1657.4 490.2L1659.7 492.1L1659.7 490.6L1660.3 492.4L1660.3 490.9L1663.7 494.1L1663.7 492.7L1664.6 494.5L1664.6 493.1L1664.7 493.9L1666.6 494.8L1666.6 493.4L1668.5 495.1L1668.5 493.7L1671.4 495.4L1671.4 494.0L1673.6 495.7L1673.6 494.3L1675.5 495.9L1675.5 494.5L1678.0 496.3L1678.0 494.8L1679.5 495.7L1679.9 496.8L1679.9 495.4L1683.6 500.2L1683.6 498.8L1686.6 502.8L1686.6 501.4L1688.8 504.1L1689.0 504.9L1689.0 503.5L1692.6 507.9L1692.6 506.5L1693.5 508.7L1693.5 507.4L1698.5 512.9L1698.5 511.5L1699.8 513.3L1702.5 516.5L1702.5 515.2L1705.9 519.9L1705.9 518.5L1711.8 525.6L1711.8 524.3L1714.6 528.4L1714.6 527.0L1714.6 527.7L1717.5 529.2L1717.5 527.9L1719.3 529.8L1719.3 528.4L1720.8 530.2L1720.8 528.9L1722.0 529.9L1724.1 531.6L1724.1 530.3L1725.6 532.4L1725.6 531.1L1729.4 533.6L1729.7 534.5L1729.7 533.1L1730.5 534.9L1730.5 533.6L1732.5 536.1L1732.5 534.8L1735.7 538.1L1735.7 536.8L1736.2 538.4L1736.2 537.1L1738.6 539.2L1739.6 540.2L1739.6 538.9L1740.4 540.5L1740.4 539.2L1743.1 541.7L1743.1 540.4L1744.0 542.1L1744.0 540.8L1747.7 543.7L1747.7 542.4L1748.8 544.2L1748.8 542.9L1750.9 545.1L1750.9 543.8L1751.6 544.7L1753.9 546.5L1753.9 545.2L1756.1 547.6L1756.1 546.3L1757.6 548.4L1757.6 547.1L1759.7 549.4L1759.7 548.1L1762.7 550.2L1763.5 551.6L1763.5 550.3L1764.7 552.6L1764.7 551.3L1769.9 557.0L1769.9 555.8L1771.4 558.3L1771.4 557.0L1774.0 560.5L1774.0 559.2L1777.8 563.8L1777.8 562.5L1780.0 565.0L1780.6 566.1L1780.6 564.9L1785.1 569.7L1785.1 568.5L1789.6 573.3L1789.6 572.1L1792.6 575.7L1792.6 574.5L1793.3 575.7L1795.7 578.2L1795.7 577.0L1798.8 580.6L1798.8 579.4L1802.5 583.5L1802.5 582.3L1806.2 585.8L1806.4 586.6L1806.4 585.4L1808.3 587.9L1808.3 586.8L1812.1 590.6L1812.1 589.5L1814.0 592.1L1814.0 590.9L1815.7 593.3L1815.7 592.2L1818.5 595.3L1818.5 594.2L1822.8 598.4L1822.8 597.3L1822.8 597.8L1824.4 599.4L1824.4 598.3L1826.6 600.9L1826.6 599.9L1829.3 602.8L1829.3 601.8L1832.5 605.0L1832.5 604.0L1833.8 605.9L1833.8 604.8L1836.2 607.5L1836.2 606.5L1837.6 608.0L1838.6 609.2L1838.6 608.2L1840.2 610.4L1840.2 609.4L1844.1 613.1L1844.1 612.1L1846.4 614.7L1846.4 613.8L1848.8 616.4L1848.8 615.5L1850.5 617.2L1851.0 618.1L1851.0 617.1L1853.3 620.0L1853.3 619.1L1856.0 622.4L1856.0 621.4L1857.0 623.2L1857.0 622.3L1860.6 626.3L1860.6 625.4L1860.9 626.6L1860.9 625.7L1863.5 628.3L1864.2 629.2L1864.2 628.3L1864.7 629.5L1864.7 628.6L1867.2 630.9L1867.2 630.1L1867.9 631.3L1867.9 630.4L1869.0 632.0L1869.0 631.1L1871.0 633.1L1871.0 632.3L1872.8 634.2L1872.8 633.4L1874.2 635.0L1874.2 634.2L1874.5 634.8L1875.7 635.8L1875.7 635.0L1877.2 636.7L1877.2 635.8L1877.3 636.7L1877.3 635.9L1879.2 637.8L1879.2 637.0L1880.2 638.3L1880.2 637.5L1882.7 639.7L1882.7 638.9L1882.9 639.4L1883.7 639.3L1883.7 638.5L1885.7 638.1L1885.7 637.3L1887.4 637.0L1887.4 636.2L1887.5 636.6L1889.5 638.8L1889.5 638.0L1890.7 639.9L1890.7 639.1L1892.9 641.9L1892.9 641.1L1894.1 643.0L1894.1 642.2L1895.2 644.0L1895.2 643.2L1896.7 644.9L1898.9 647.9L1898.9 647.1L1899.4 648.4L1899.4 647.6L1901.6 651.1L1901.6 650.3L1906.4 656.6L1906.4 655.8L1907.8 657.9L1908.4 658.9L1908.4 658.1L1914.6 665.0L1914.6 664.2L1916.2 666.6L1916.2 665.8L1920.7 670.8L1921.0 671.4L1921.0 670.6L1926.2 675.9L1926.2 675.1L1927.2 676.8L1927.2 676.0L1931.6 680.5L1931.6 679.7L1933.7 681.9L1935.5 684.0L1935.5 683.2L1936.3 684.7L1936.3 683.9L1940.1 688.3L1940.1 687.5L1942.6 690.6L1942.6 689.8L1944.7 692.5L1944.7 691.7L1946.6 693.9L1947.4 695.0L1947.4 694.2L1949.5 696.8L1949.5 696.0L1950.2 697.4L1950.2 696.6L1952.8 699.6L1952.8 698.8L1955.9 702.3L1955.9 701.5L1959.3 705.2L1959.3 704.4L1959.5 705.0L1959.9 705.6L1959.9 704.8L1963.3 708.3L1963.3 707.5L1964.7 709.4L1964.7 708.6L1969.1 712.9L1969.1 712.1L1970.6 714.0L1970.6 713.2L1972.5 715.1L1973.2 716.4L1973.2 715.6L1976.1 719.4L1976.1 718.6L1977.2 720.7L1977.2 719.9L1981.4 725.2L1981.4 724.4L1984.5 728.1L1984.6 728.6L1984.6 727.8L1988.1 731.5L1988.1 730.7L1989.5 732.8L1989.5 732.0L1992.7 735.5L1992.7 734.7L1995.6 737.9L1995.6 737.1L1996.5 738.2L2000.9 743.4L2000.9 742.6L2002.5 745.2L2002.5 744.4L2005.4 748.3L2005.4 747.5L2007.6 750.2L2008.9 751.6L2008.9 750.8L2012.7 754.5L2012.7 753.7L2014.7 756.0L2014.7 755.2L2014.9 755.8L2018.1 760.4L2018.1 759.6L2020.5 763.2L2022.4 765.5L2022.4 764.7L2025.3 768.3L2025.3 767.5L2026.6 769.7L2026.6 768.9L2027.9 770.6L2028.7 771.7L2028.7 770.9L2033.9 776.5L2033.9 775.7L2036.4 778.8L2036.4 778.0L2039.0 780.7L2039.0 781.2L2039.0 780.4L2041.4 783.3L2041.4 782.5L2045.9 787.5L2045.9 786.7L2047.3 788.7L2047.3 787.9L2049.6 790.9L2049.6 790.1L2050.0 790.9L2052.3 793.6L2052.3 792.8L2056.4 797.8L2056.4 797.0L2060.9 802.4L2060.9 801.6L2063.8 805.4L2063.8 804.6L2064.4 805.6L2070.6 812.5L2070.6 811.7L2073.9 815.9L2073.9 815.1L2077.6 819.8L2077.6 819.0L2083.2 825.6L2083.2 824.8L2084.7 826.8L2087.6 830.2L2087.6 829.4L2092.3 835.1L2092.3 834.3L2096.3 839.3L2096.3 838.5L2101.0 844.2L2101.0 843.4L2105.4 848.7L2105.4 847.9L2107.8 850.8"/>
<path class="rug" d="M291.8 814.2V889.2M292.7 814.2V889.2M294.1 814.2V889.2M294.2 814.2V889.2M295.3 814.2V889.2M296.6 814.2V889.2M297.1 814.2V889.2M297.9 814.2V889.2M300.3 814.2V889.2M301.6 814.2V889.2M301.8 814.2V889.2M303.9 814.2V889.2M305.3 814.2V889.2M305.3 814.2V889.2M306.4 814.2V889.2M306.5 814.2V889.2M307.7 814.2V889.2M308.6 814.2V889.2M309.3 814.2V889.2M309.6 814.2V889.2M311.4 814.2V889.2M312.7 814.2V889.2M312.9 814.2V889.2M313.8 814.2V889.2M314.3 814.2V889.2M315.7 814.2V889.2M316.8 814.2V889.2M316.9 814.2V889.2M318.8 814.2V889.2M319.1 814.2V889.2M320.1 814.2V889.2M321.0 814.2V889.2M323.6 814.2V889.2M326.2 814.2V889.2M327.0 814.2V889.2M328.4 814.2V889.2M337.6 814.2V889.2M338.8 814.2V889.2M341.1 814.2V889.2M341.6 814.2V889.2M344.7 814.2V889.2M345.7 814.2V889.2M347.9 814.2V889.2M348.1 814.2V889.2M349.5 814.2V889.2M349.6 814.2V889.2M351.8 814.2V889.2M352.1 814.2V889.2M352.8 814.2V889.2M355.2 814.2V889.2M355.8 814.2V889.2M356.0 814.2V889.2M358.8 814.2V889.2M360.4 814.2V889.2M362.7 814.2V889.2M362.8 814.2V889.2M363.2 814.2V889.2M365.5 814.2V889.2M365.9 814.2V889.2M366.8 814.2V889.2M367.4 814.2V889.2M367.6 814.2V889.2M372.5 814.2V889.2M377.1 814.2V889.2M377.5 814.2V889.2M379.3 814.2V889.2M380.3 814.2V889.2M380.8 814.2V889.2M381.9 814.2V889.2M386.5 814.2V889.2M390.0 814.2V889.2M390.1 814.2V889.2M390.1 814.2V889.2M390.3 814.2V889.2M391.1 814.2V889.2M392.4 814.2V889.2M393.4 814.2V889.2M393.9 814.2V889.2M394.6 814.2V889.2M395.3 814.2V889.2M397.4 814.2V889.2M398.8 814.2V889.2M401.5 814.2V889.2M403.2 814.2V889.2M403.9 814.2V889.2M405.9 814.2V889.2M406.1 814.2V889.2M408.5 814.2V889.2M409.4 814.2V889.2M411.5 814.2V889.2M411.7 814.2V889.2M412.5 814.2V889.2M415.8 814.2V889.2M421.6 814.2V889.2M422.5 814.2V889.2M423.2 814.2V889.2M423.3 814.2V889.2M426.1 814.2V889.2M440.3 814.2V889.2M444.2 814.2V889.2M453.4 814.2V889.2M453.8 814.2V889.2M454.4 814.2V889.2M454.4 814.2V889.2M458.2 814.2V889.2M458.4 814.2V889.2M459.3 814.2V889.2M460.2 814.2V889.2M460.9 814.2V889.2M462.1 814.2V889.2M463.1 814.2V889.2M464.3 814.2V889.2M466.9 814.2V889.2M471.9 814.2V889.2M473.2 814.2V889.2M474.8 814.2V889.2M476.3 814.2V889.2M478.3 814.2V889.2M480.5 814.2V889.2M481.1 814.2V889.2M481.6 814.2V889.2M482.0 814.2V889.2M483.6 814.2V889.2M484.3 814.2V889.2M486.3 814.2V889.2M487.2 814.2V889.2M490.5 814.2V889.2M496.0 814.2V889.2M496.6 814.2V889.2M497.1 814.2V889.2M498.0 814.2V889.2M500.5 814.2V889.2M500.8 814.2V889.2M507.2 814.2V889.2M522.9 814.2V889.2M523.4 814.2V889.2M523.7 814.2V889.2M526.5 814.2V889.2M531.1 814.2V889.2M531.3 814.2V889.2M532.4 814.2V889.2M532.4 814.2V889.2M538.5 814.2V889.2M541.0 814.2V889.2M541.2 814.2V889.2M549.5 814.2V889.2M550.1 814.2V889.2M550.4 814.2V889.2M550.5 814.2V889.2M552.8 814.2V889.2M553.9 814.2V889.2M554.9 814.2V889.2M555.1 814.2V889.2M555.7 814.2V889.2M556.9 814.2V889.2M558.1 814.2V889.2M561.1 814.2V889.2M561.7 814.2V889.2M562.9 814.2V889.2M564.2 814.2V889.2M567.1 814.2V889.2M575.5 814.2V889.2M577.1 814.2V889.2M577.5 814.2V889.2M578.0 814.2V889.2M578.3 814.2V889.2M579.0 814.2V889.2M580.3 814.2V889.2M582.7 814.2V889.2M583.3 814.2V889.2M583.9 814.2V889.2M586.0 814.2V889.2M587.0 814.2V889.2M604.5 814.2V889.2M607.0 814.2V889.2M607.4 814.2V889.2M608.3 814.2V889.2M610.2 814.2V889.2M610.2 814.2V889.2M614.8 814.2V889.2M616.1 814.2V889.2M619.4 814.2V889.2M620.1 814.2V889.2M622.8 814.2V889.2M626.3 814.2V889.2M627.1 814.2V889.2M627.9 814.2V889.2M628.5 814.2V889.2M629.4 814.2V889.2M629.7 814.2V889.2M631.4 814.2V889.2M633.8 814.2V889.2M635.6 814.2V889.2M636.5 814.2V889.2M636.8 814.2V889.2M638.7 814.2V889.2M640.8 814.2V889.2M641.4 814.2V889.2M642.0 814.2V889.2M643.4 814.2V889.2M647.3 814.2V889.2M647.4 814.2V889.2M648.3 814.2V889.2M651.0 814.2V889.2M651.7 814.2V889.2M653.9 814.2V889.2M654.9 814.2V889.2M656.8 814.2V889.2M657.1 814.2V889.2M665.6 814.2V889.2M668.7 814.2V889.2M669.6 814.2V889.2M671.1 814.2V889.2M672.8 814.2V889.2M674.4 814.2V889.2M674.8 814.2V889.2M675.8 814.2V889.2M676.0 814.2V889.2M676.4 814.2V889.2M677.4 814.2V889.2M680.8 814.2V889.2M681.1 814.2V889.2M682.3 814.2V889.2M684.9 814.2V889.2M686.9 814.2V889.2M692.5 814.2V889.2M694.9 814.2V889.2M695.8 814.2V889.2M696.5 814.2V889.2M697.8 814.2V889.2M698.0 814.2V889.2M698.3 814.2V889.2M704.1 814.2V889.2M704.6 814.2V889.2M706.5 814.2V889.2M706.7 814.2V889.2M706.9 814.2V889.2M707.9 814.2V889.2M709.5 814.2V889.2M709.8 814.2V889.2M710.8 814.2V889.2M712.2 814.2V889.2M713.2 814.2V889.2M713.5 814.2V889.2M716.0 814.2V889.2M716.8 814.2V889.2M716.9 814.2V889.2M724.5 814.2V889.2M726.1 814.2V889.2M726.3 814.2V889.2M727.9 814.2V889.2M730.9 814.2V889.2M731.5 814.2V889.2M735.3 814.2V889.2M738.5 814.2V889.2M740.2 814.2V889.2M740.6 814.2V889.2M750.4 814.2V889.2M753.8 814.2V889.2M754.4 814.2V889.2M756.7 814.2V889.2M763.6 814.2V889.2M765.0 814.2V889.2M767.4 814.2V889.2M767.7 814.2V889.2M768.0 814.2V889.2M768.1 814.2V889.2M768.4 814.2V889.2M772.7 814.2V889.2M774.3 814.2V889.2M775.5 814.2V889.2M776.3 814.2V889.2M777.9 814.2V889.2M786.5 814.2V889.2M787.1 814.2V889.2M787.4 814.2V889.2M788.8 814.2V889.2M788.9 814.2V889.2M789.8 814.2V889.2M792.6 814.2V889.2M794.9 814.2V889.2M795.0 814.2V889.2M795.1 814.2V889.2M796.6 814.2V889.2M798.5 814.2V889.2M798.8 814.2V889.2M799.7 814.2V889.2M804.9 814.2V889.2M805.5 814.2V889.2M805.5 814.2V889.2M806.5 814.2V889.2M816.5 814.2V889.2M816.6 814.2V889.2M820.9 814.2V889.2M821.6 814.2V889.2M822.3 814.2V889.2M822.3 814.2V889.2M822.6 814.2V889.2M822.6 814.2V889.2M822.6 814.2V889.2M823.7 814.2V889.2M824.0 814.2V889.2M824.4 814.2V889.2M828.0 814.2V889.2M829.1 814.2V889.2M829.6 814.2V889.2M832.4 814.2V889.2M832.6 814.2V889.2M833.1 814.2V889.2M835.9 814.2V889.2M836.2 814.2V889.2M836.2 814.2V889.2M836.5 814.2V889.2M837.5 814.2V889.2M844.6 814.2V889.2M844.8 814.2V889.2M847.3 814.2V889.2M847.9 814.2V889.2M848.1 814.2V889.2M848.1 814.2V889.2M849.7 814.2V889.2M852.0 814.2V889.2M853.3 814.2V889.2M853.6 814.2V889.2M857.0 814.2V889.2M858.1 814.2V889.2M858.7 814.2V889.2M860.0 814.2V889.2M860.9 814.2V889.2M860.9 814.2V889.2M874.6 814.2V889.2M879.1 814.2V889.2M883.0 814.2V889.2M884.5 814.2V889.2M884.8 814.2V889.2M885.3 814.2V889.2M887.4 814.2V889.2M887.6 814.2V889.2M889.1 814.2V889.2M889.1 814.2V889.2M890.1 814.2V889.2M891.1 814.2V889.2M892.6 814.2V889.2M892.7 814.2V889.2M893.9 814.2V889.2M893.9 814.2V889.2M895.7 814.2V889.2M898.4 814.2V889.2M900.0 814.2V889.2M900.4 814.2V889.2M902.9 814.2V889.2M903.2 814.2V889.2M905.7 814.2V889.2M906.5 814.2V889.2M910.0 814.2V889.2M910.1 814.2V889.2M910.8 814.2V889.2M914.3 814.2V889.2M914.4 814.2V889.2M916.4 814.2V889.2M919.8 814.2V889.2M920.5 814.2V889.2M923.3 814.2V889.2M923.6 814.2V889.2M924.3 814.2V889.2M926.0 814.2V889.2M939.1 814.2V889.2M944.1 814.2V889.2M944.6 814.2V889.2M945.7 814.2V889.2M949.8 814.2V889.2M952.7 814.2V889.2M954.3 814.2V889.2M957.7 814.2V889.2M965.6 814.2V889.2M966.6 814.2V889.2M967.5 814.2V889.2M967.7 814.2V889.2M967.8 814.2V889.2M969.0 814.2V889.2M971.0 814.2V889.2M973.8 814.2V889.2M974.1 814.2V889.2M974.7 814.2V889.2M975.4 814.2V889.2M975.5 814.2V889.2M975.6 814.2V889.2M977.9 814.2V889.2M977.9 814.2V889.2M979.5 814.2V889.2M982.4 814.2V889.2M982.6 814.2V889.2M983.2 814.2V889.2M985.2 814.2V889.2M985.2 814.2V889.2M986.0 814.2V889.2M987.5 814.2V889.2M989.0 814.2V889.2M999.3 814.2V889.2M1001.6 814.2V889.2M1001.7 814.2V889.2M1002.8 814.2V889.2M1003.5 814.2V889.2M1004.3 814.2V889.2M1005.6 814.2V889.2M1005.7 814.2V889.2M1005.9 814.2V889.2M1007.1 814.2V889.2M1017.6 814.2V889.2M1019.8 814.2V889.2M1020.7 814.2V889.2M1021.5 814.2V889.2M1022.3 814.2V889.2M1023.1 814.2V889.2M1023.8 814.2V889.2M1023.8 814.2V889.2M1024.6 814.2V889.2M1026.7 814.2V889.2M1027.5 814.2V889.2M1028.9 814.2V889.2M1030.2 814.2V889.2M1031.3 814.2V889.2M1031.4 814.2V889.2M1032.7 814.2V889.2M1033.7 814.2V889.2M1033.8 814.2V889.2M1035.4 814.2V889.2M1038.3 814.2V889.2M1038.8 814.2V889.2M1040.5 814.2V889.2M1041.1 814.2V889.2M1042.2 814.2V889.2M1043.6 814.2V889.2M1048.0 814.2V889.2M1050.8 814.2V889.2M1054.5 814.2V889.2M1056.2 814.2V889.2M1057.1 814.2V889.2M1057.2 814.2V889.2M1058.5 814.2V889.2M1059.4 814.2V889.2M1060.5 814.2V889.2M1061.6 814.2V889.2M1063.5 814.2V889.2M1064.9 814.2V889.2M1065.3 814.2V889.2M1067.3 814.2V889.2M1067.6 814.2V889.2M1069.1 814.2V889.2M1070.1 814.2V889.2M1071.9 814.2V889.2M1074.5 814.2V889.2M1075.4 814.2V889.2M1077.0 814.2V889.2M1080.6 814.2V889.2M1080.8 814.2V889.2M1080.8 814.2V889.2M1082.5 814.2V889.2M1083.4 814.2V889.2M1084.2 814.2V889.2M1086.9 814.2V889.2M1087.6 814.2V889.2M1089.4 814.2V889.2M1090.2 814.2V889.2M1091.6 814.2V889.2M1092.2 814.2V889.2M1092.4 814.2V889.2M1093.1 814.2V889.2M1093.4 814.2V889.2M1094.2 814.2V889.2M1102.4 814.2V889.2M1118.0 814.2V889.2M1121.0 814.2V889.2M1121.8 814.2V889.2M1125.3 814.2V889.2M1129.3 814.2V889.2M1131.0 814.2V889.2M1144.8 814.2V889.2M1151.7 814.2V889.2M1152.5 814.2V889.2M1153.0 814.2V889.2M1156.3 814.2V889.2M1156.7 814.2V889.2M1156.8 814.2V889.2M1158.1 814.2V889.2M1158.6 814.2V889.2M1158.6 814.2V889.2M1159.1 814.2V889.2M1160.9 814.2V889.2M1161.1 814.2V889.2M1166.2 814.2V889.2M1168.2 814.2V889.2M1170.0 814.2V889.2M1171.4 814.2V889.2M1173.8 814.2V889.2M1181.5 814.2V889.2M1185.7 814.2V889.2M1194.5 814.2V889.2M1196.7 814.2V889.2M1197.3 814.2V889.2M1198.4 814.2V889.2M1200.3 814.2V889.2M1205.4 814.2V889.2M1209.0 814.2V889.2M1211.1 814.2V889.2M1211.9 814.2V889.2M1215.2 814.2V889.2M1219.1 814.2V889.2M1220.4 814.2V889.2M1222.8 814.2V889.2M1226.9 814.2V889.2M1229.2 814.2V889.2M1233.7 814.2V889.2M1234.1 814.2V889.2M1239.1 814.2V889.2M1240.8 814.2V889.2M1244.7 814.2V889.2M1246.6 814.2V889.2M1250.1 814.2V889.2M1251.7 814.2V889.2M1253.8 814.2V889.2M1256.7 814.2V889.2M1259.8 814.2V889.2M1261.1 814.2V889.2M1263.2 814.2V889.2M1266.1 814.2V889.2M1267.7 814.2V889.2M1270.6 814.2V889.2M1273.4 814.2V889.2M1275.6 814.2V889.2M1277.9 814.2V889.2M1279.5 814.2V889.2M1281.1 814.2V889.2M1283.2 814.2V889.2M1285.9 814.2V889.2M1287.7 814.2V889.2M1290.7 814.2V889.2M1292.6 814.2V889.2M1296.6 814.2V889.2M1299.0 814.2V889.2M1301.8 814.2V889.2M1304.7 814.2V889.2M1306.6 814.2V889.2M1308.9 814.2V889.2M1311.0 814.2V889.2M1312.9 814.2V889.2M1317.5 814.2V889.2M1319.4 814.2V889.2M1321.1 814.2V889.2M1326.3 814.2V889.2M1328.2 814.2V889.2M1331.2 814.2V889.2M1333.5 814.2V889.2M1335.4 814.2V889.2M1340.2 814.2V889.2M1340.6 814.2V889.2M1343.3 814.2V889.2M1346.5 814.2V889.2M1346.8 814.2V889.2M1349.7 814.2V889.2M1352.1 814.2V889.2M1353.9 814.2V889.2M1357.8 814.2V889.2M1358.9 814.2V889.2M1360.3 814.2V889.2M1363.4 814.2V889.2M1364.5 814.2V889.2M1367.9 814.2V889.2M1370.2 814.2V889.2M1372.1 814.2V889.2M1372.3 814.2V889.2M1375.3 814.2V889.2M1376.4 814.2V889.2M1378.5 814.2V889.2M1380.0 814.2V889.2M1381.9 814.2V889.2M1383.6 814.2V889.2M1387.1 814.2V889.2M1388.2 814.2V889.2M1392.5 814.2V889.2M1392.6 814.2V889.2M1397.0 814.2V889.2M1397.5 814.2V889.2M1399.5 814.2V889.2M1402.7 814.2V889.2M1404.2 814.2V889.2M1406.5 814.2V889.2M1407.8 814.2V889.2M1409.9 814.2V889.2M1410.7 814.2V889.2M1413.5 814.2V889.2M1415.0 814.2V889.2M1417.6 814.2V889.2M1417.7 814.2V889.2M1419.7 814.2V889.2M1422.7 814.2V889.2M1424.8 814.2V889.2M1425.7 814.2V889.2M1428.0 814.2V889.2M1429.5 814.2V889.2M1431.0 814.2V889.2M1433.0 814.2V889.2M1435.0 814.2V889.2M1435.8 814.2V889.2M1438.0 814.2V889.2M1440.7 814.2V889.2M1441.8 814.2V889.2M1444.8 814.2V889.2M1446.9 814.2V889.2M1450.1 814.2V889.2M1454.3 814.2V889.2M1457.8 814.2V889.2M1466.0 814.2V889.2M1469.5 814.2V889.2M1471.6 814.2V889.2M1475.4 814.2V889.2M1480.7 814.2V889.2M1484.5 814.2V889.2M1486.7 814.2V889.2M1490.0 814.2V889.2M1492.9 814.2V889.2M1496.1 814.2V889.2M1499.5 814.2V889.2M1501.4 814.2V889.2M1505.8 814.2V889.2M1508.0 814.2V889.2M1510.6 814.2V889.2M1514.0 814.2V889.2M1515.7 814.2V889.2M1520.4 814.2V889.2M1527.7 814.2V889.2M1528.9 814.2V889.2M1531.0 814.2V889.2M1533.2 814.2V889.2M1535.4 814.2V889.2M1539.0 814.2V889.2M1541.9 814.2V889.2M1544.7 814.2V889.2M1545.5 814.2V889.2M1549.1 814.2V889.2M1550.5 814.2V889.2M1552.2 814.2V889.2M1554.4 814.2V889.2M1556.3 814.2V889.2M1557.8 814.2V889.2M1560.2 814.2V889.2M1562.6 814.2V889.2M1564.7 814.2V889.2M1566.9 814.2V889.2M1567.4 814.2V889.2M1570.8 814.2V889.2M1572.7 814.2V889.2M1574.8 814.2V889.2M1577.5 814.2V889.2M1577.8 814.2V889.2M1581.1 814.2V889.2M1583.4 814.2V889.2M1583.9 814.2V889.2M1587.6 814.2V889.2M1591.4 814.2V889.2M1592.4 814.2V889.2M1596.6 814.2V889.2M1599.3 814.2V889.2M1600.6 814.2V889.2M1602.4 814.2V889.2M1605.5 814.2V889.2M1610.6 814.2V889.2M1612.3 814.2V889.2M1615.0 814.2V889.2M1618.9 814.2V889.2M1624.0 814.2V889.2M1625.1 814.2V889.2M1627.5 814.2V889.2M1633.8 814.2V889.2M1635.0 814.2V889.2M1638.7 814.2V889.2M1644.2 814.2V889.2M1645.2 814.2V889.2M1647.8 814.2V889.2M1652.7 814.2V889.2M1653.6 814.2V889.2M1656.0 814.2V889.2M1659.7 814.2V889.2M1660.3 814.2V889.2M1663.7 814.2V889.2M1664.6 814.2V889.2M1666.6 814.2V889.2M1668.5 814.2V889.2M1671.4 814.2V889.2M1673.6 814.2V889.2M1675.5 814.2V889.2M1678.0 814.2V889.2M1679.9 814.2V889.2M1683.6 814.2V889.2M1686.6 814.2V889.2M1689.0 814.2V889.2M1692.6 814.2V889.2M1693.5 814.2V889.2M1702.5 814.2V889.2M1705.9 814.2V889.2M1711.8 814.2V889.2M1714.6 814.2V889.2M1717.5 814.2V889.2M1719.3 814.2V889.2M1720.8 814.2V889.2M1724.1 814.2V889.2M1725.6 814.2V889.2M1729.7 814.2V889.2M1730.5 814.2V889.2M1732.5 814.2V889.2M1735.7 814.2V889.2M1736.2 814.2V889.2M1739.6 814.2V889.2M1740.4 814.2V889.2M1743.1 814.2V889.2M1744.0 814.2V889.2M1747.7 814.2V889.2M1748.8 814.2V889.2M1750.9 814.2V889.2M1753.9 814.2V889.2M1756.1 814.2V889.2M1757.6 814.2V889.2M1759.7 814.2V889.2M1763.5 814.2V889.2M1764.7 814.2V889.2M1769.9 814.2V889.2M1771.4 814.2V889.2M1774.0 814.2V889.2M1777.8 814.2V889.2M1780.6 814.2V889.2M1785.1 814.2V889.2M1795.7 814.2V889.2M1798.8 814.2V889.2M1806.4 814.2V889.2M1808.3 814.2V889.2M1812.1 814.2V889.2M1814.0 814.2V889.2M1815.7 814.2V889.2M1818.5 814.2V889.2M1822.8 814.2V889.2M1824.4 814.2V889.2M1826.6 814.2V889.2M1829.3 814.2V889.2M1832.5 814.2V889.2M1833.8 814.2V889.2M1836.2 814.2V889.2M1838.6 814.2V889.2M1840.2 814.2V889.2M1844.1 814.2V889.2M1846.4 814.2V889.2M1848.8 814.2V889.2M1851.0 814.2V889.2M1853.3 814.2V889.2M1856.0 814.2V889.2M1857.0 814.2V889.2M1860.6 814.2V889.2M1860.9 814.2V889.2M1864.2 814.2V889.2M1864.7 814.2V889.2M1867.2 814.2V889.2M1867.9 814.2V889.2M1869.0 814.2V889.2M1871.0 814.2V889.2M1872.8 814.2V889.2M1874.2 814.2V889.2M1875.7 814.2V889.2M1877.2 814.2V889.2M1877.3 814.2V889.2M1879.2 814.2V889.2M1880.2 814.2V889.2M1882.7 814.2V889.2M1883.7 814.2V889.2M1885.7 814.2V889.2M1887.4 814.2V889.2M1889.5 814.2V889.2M1890.7 814.2V889.2M1892.9 814.2V889.2M1894.1 814.2V889.2M1895.2 814.2V889.2M1898.9 814.2V889.2M1899.4 814.2V889.2M1908.4 814.2V889.2M1921.0 814.2V889.2M1926.2 814.2V889.2M1927.2 814.2V889.2M1931.6 814.2V889.2M1935.5 814.2V889.2M1936.3 814.2V889.2M1940.1 814.2V889.2M1942.6 814.2V889.2M1944.7 814.2V889.2M1947.4 814.2V889.2M1949.5 814.2V889.2M1950.2 814.2V889.2M1952.8 814.2V889.2M1955.9 814.2V889.2M1959.3 814.2V889.2M1959.9 814.2V889.2M1963.3 814.2V889.2M1964.7 814.2V889.2M1969.1 814.2V889.2M1970.6 814.2V889.2M1973.2 814.2V889.2M1984.6 814.2V889.2M1988.1 814.2V889.2M1989.5 814.2V889.2M1992.7 814.2V889.2M1995.6 814.2V889.2M2000.9 814.2V889.2M2002.5 814.2V889.2M2005.4 814.2V889.2M2008.9 814.2V889.2M2012.7 814.2V889.2M2014.7 814.2V889.2M2026.6 814.2V889.2M2028.7 814.2V889.2M2033.9 814.2V889.2M2036.4 814.2V889.2M2039.0 814.2V889.2M2041.4 814.2V889.2M2045.9 814.2V889.2M2047.3 814.2V889.2M2049.6 814.2V889.2M2052.3 814.2V889.2M2056.4 814.2V889.2M2060.9 814.2V889.2M2063.8 814.2V889.2M2067.2 814.2V889.2M2069.8 814.2V889.2M2070.6 814.2V889.2M2072.4 814.2V889.2M2073.9 814.2V889.2M2074.9 814.2V889.2M2077.5 814.2V889.2M2077.6 814.2V889.2M2080.1 814.2V889.2M2082.7 814.2V889.2M2083.2 814.2V889.2M2085.3 814.2V889.2M2087.6 814.2V889.2M2087.9 814.2V889.2M2088.4 814.2V889.2M2089.5 814.2V889.2M2090.7 814.2V889.2M2091.8 814.2V889.2M2092.3 814.2V889.2M2092.9 814.2V889.2M2094.0 814.2V889.2M2095.1 814.2V889.2M2096.2 814.2V889.2M2096.3 814.2V889.2M2097.3 814.2V889.2M2098.4 814.2V889.2M2099.5 814.2V889.2M2100.6 814.2V889.2M2101.0 814.2V889.2M2101.7 814.2V889.2M2102.8 814.2V889.2M2104.0 814.2V889.2M2105.1 814.2V889.2M2105.4 814.2V889.2M2106.2 814.2V889.2"/>
<text class="lt" x="2289.5" y="155.4">p</text>
<circle cx="2322.4" cy="222.2" r="4.0" fill="#000"/><text class="lg" x="2385.5" y="239.7">0</text><circle cx="2322.4" cy="286.1" r="8.5" fill="#000"/><text class="lg" x="2385.5" y="303.6">3</text><circle cx="2322.4" cy="350.0" r="12.9" fill="#000"/><text class="lg" x="2385.5" y="367.5">6</text><circle cx="2322.4" cy="413.9" r="17.4" fill="#000"/><text class="lg" x="2385.5" y="431.4">9</text><circle cx="2322.4" cy="477.8" r="21.9" fill="#000"/><text class="lg" x="2385.5" y="495.3">12</text>
<text class="lt" x="2289.5" y="684">p</text>
<rect x="2290.8" y="721.1" width="64" height="320" fill="url(#cb)"/>
<path d="M2290.8 1033.0h12.8M2354.8 1033.0h-12.8" stroke="#fff" stroke-width="2.96"/><text class="lg" x="2385.5" y="1050.5">0</text><path d="M2290.8 957.0h12.8M2354.8 957.0h-12.8" stroke="#fff" stroke-width="2.96"/><text class="lg" x="2385.5" y="974.5">3</text><path d="M2290.8 881.1h12.8M2354.8 881.1h-12.8" stroke="#fff" stroke-width="2.96"/><text class="lg" x="2385.5" y="898.6">6</text><path d="M2290.8 805.1h12.8M2354.8 805.1h-12.8" stroke="#fff" stroke-width="2.96"/><text class="lg" x="2385.5" y="822.6">9</text><path d="M2290.8 729.2h12.8M2354.8 729.2h-12.8" stroke="#fff" stroke-width="2.96"/><text class="lg" x="2385.5" y="746.7">12</text>
</g>
</svg>
</body></html>
